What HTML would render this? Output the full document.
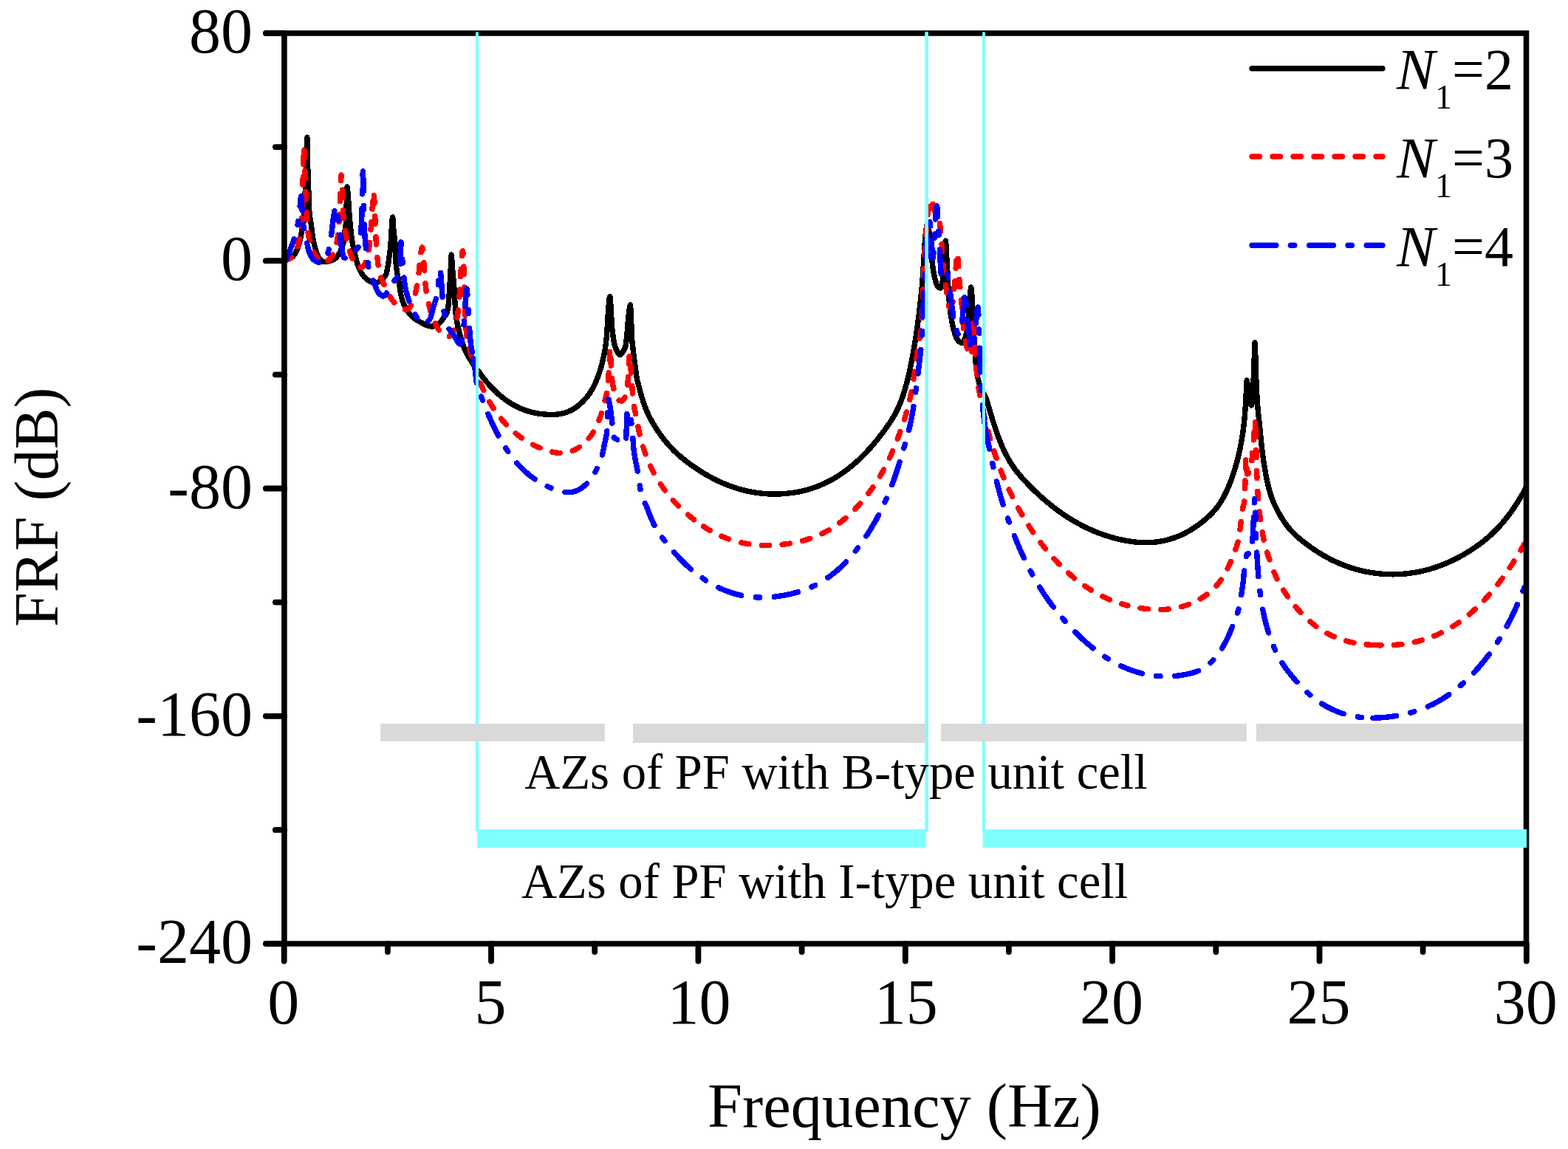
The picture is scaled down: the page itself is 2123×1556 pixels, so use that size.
<!DOCTYPE html>
<html><head><meta charset="utf-8"><title>FRF plot</title>
<style>html,body{margin:0;padding:0;background:#fff;overflow:hidden;width:2123px;height:1556px;}svg{display:block;}
text{font-family:"Liberation Serif","Times New Roman",serif;fill:#000;}</style></head>
<body>
<svg width="2123" height="1556" viewBox="0 0 2123 1556">
<rect width="2123" height="1556" fill="#fff"/>

<g fill="none" stroke-linecap="round" stroke-linejoin="round" shape-rendering="crispEdges" stroke-width="7.4">
<path stroke="#000" d="M385.0,353.8C385.7,353.4 386.3,352.9 387.0,352.5C387.7,352.2 388.3,351.9 389.0,351.6C389.7,351.3 390.3,351.1 391.0,350.8C391.7,350.5 392.3,350.2 393.0,349.9C393.7,349.6 394.3,349.2 395.0,348.7C395.7,348.2 396.3,347.6 397.0,346.9C397.7,346.2 398.3,345.3 399.0,344.3C399.7,343.3 400.3,342.1 401.0,340.7C401.7,339.3 402.3,337.6 403.0,335.9C403.1,335.6 403.2,335.3 403.3,335.0C404.5,331.2 405.8,327.4 407.0,322.0C407.8,318.3 408.7,312.4 409.5,308.0C410.0,305.2 410.6,304.1 411.1,300.0C411.7,295.6 412.2,282.1 412.8,270.0C413.3,259.3 413.8,243.5 414.3,230.0C414.8,215.6 415.4,186.0 415.9,186.0C416.0,186.0 416.1,203.9 416.2,208.6C416.6,228.9 417.1,234.3 417.5,247.1C417.9,259.9 418.4,280.2 418.8,285.7C419.7,296.7 420.5,298.6 421.4,305.0C422.3,311.4 423.1,319.5 424.0,324.2C425.1,330.0 426.1,334.0 427.2,337.8C427.9,340.1 428.5,342.2 429.2,343.8C429.9,345.5 430.5,347.0 431.2,348.2C431.9,349.4 432.5,350.5 433.2,351.3C433.9,352.1 434.5,352.8 435.2,353.2C435.9,353.7 436.5,354.1 437.2,354.3C437.9,354.5 438.5,354.6 439.2,354.6C439.9,354.6 440.5,354.6 441.2,354.5C441.9,354.4 442.5,354.2 443.2,354.1C443.9,353.9 444.5,353.8 445.2,353.6C445.9,353.4 446.5,353.3 447.2,353.1C447.9,352.9 448.5,352.8 449.2,352.5C449.9,352.3 450.5,352.0 451.2,351.7C451.9,351.4 452.5,351.0 453.2,350.5C453.9,350.0 454.5,349.4 455.2,348.8C455.6,348.4 455.9,348.1 456.3,347.6C457.9,345.6 459.6,343.1 461.2,339.7C462.5,337.0 463.7,334.5 465.0,328.7C465.5,326.3 466.1,319.9 466.6,315.6C467.3,310.3 467.9,309.5 468.6,300.0C468.9,296.2 469.1,278.6 469.4,270.0C469.6,263.6 469.8,253.0 470.0,253.0C470.4,253.0 470.8,258.9 471.2,263.2C471.6,267.2 471.9,274.1 472.3,279.6C472.7,285.1 473.0,291.6 473.4,296.0C473.8,300.4 474.1,303.3 474.5,306.9C474.9,310.5 475.2,314.8 475.6,317.8C476.1,322.2 476.7,325.6 477.2,328.7C477.9,333.0 478.7,336.3 479.4,339.7C480.1,343.1 480.9,346.3 481.6,349.1C482.3,351.6 482.9,354.0 483.6,356.1C484.3,358.2 484.9,360.1 485.6,361.8C486.3,363.5 486.9,365.1 487.6,366.4C488.3,367.8 488.9,369.0 489.6,370.1C490.3,371.2 490.9,372.2 491.6,373.1C492.3,373.9 492.9,374.7 493.6,375.4C494.3,376.0 494.9,376.7 495.6,377.2C496.3,377.8 496.9,378.3 497.6,378.8C498.3,379.3 498.9,379.7 499.6,380.1C500.3,380.5 500.9,380.9 501.6,381.2C502.3,381.5 502.9,381.8 503.6,382.0C504.3,382.2 504.9,382.4 505.6,382.5C506.3,382.6 506.9,382.7 507.6,382.7C508.3,382.7 508.9,382.6 509.6,382.5C510.3,382.5 510.9,382.3 511.6,382.1C512.3,381.8 512.9,381.5 513.6,381.2C514.3,380.9 514.9,380.5 515.6,380.0C516.3,379.5 516.9,379.0 517.6,378.4C518.3,377.7 518.9,376.9 519.6,376.1C519.9,375.7 520.3,375.1 520.6,374.6C521.3,373.6 522.1,373.3 522.8,371.8C523.3,370.7 523.9,366.9 524.4,364.2C524.9,361.5 525.5,358.9 526.0,355.4C526.4,353.0 526.7,349.4 527.1,346.7C527.5,344.0 527.8,342.2 528.2,339.0C528.6,335.8 528.9,331.0 529.3,325.9C529.7,320.8 530.0,312.2 530.4,307.3C530.8,301.9 531.2,294.0 531.6,294.0C532.0,294.0 532.4,306.2 532.8,310.6C533.5,318.3 534.2,319.9 534.9,329.2C535.3,334.5 535.7,351.8 536.1,356.5C536.8,365.2 537.6,368.5 538.3,372.9C539.0,377.3 539.8,379.5 540.5,383.8C541.0,387.0 541.6,392.3 542.1,395.3C542.8,399.1 543.4,402.2 544.1,404.6C544.8,407.0 545.4,408.8 546.1,410.5C546.8,412.1 547.4,413.5 548.1,414.8C548.8,416.1 549.4,417.4 550.1,418.5C550.8,419.7 551.4,420.7 552.1,421.7C552.8,422.7 553.4,423.6 554.1,424.4C554.8,425.3 555.4,426.0 556.1,426.8C556.8,427.5 557.4,428.1 558.1,428.7C558.8,429.3 559.4,429.9 560.1,430.4C560.8,430.9 561.4,431.4 562.1,431.9C562.8,432.3 563.4,432.8 564.1,433.2C564.8,433.6 565.4,434.0 566.1,434.4C566.8,434.8 567.4,435.1 568.1,435.5C568.8,435.9 569.4,436.3 570.1,436.7C570.8,437.1 571.4,437.4 572.1,437.8C572.8,438.2 573.4,438.5 574.1,438.9C574.8,439.2 575.4,439.5 576.1,439.8C576.8,440.1 577.4,440.4 578.1,440.7C578.8,440.9 579.4,441.2 580.1,441.3C580.8,441.5 581.4,441.7 582.1,441.8C582.8,441.9 583.4,442.0 584.1,442.0C584.8,442.0 585.4,442.0 586.1,442.0C586.8,442.0 587.4,441.8 588.1,441.7C588.8,441.5 589.4,441.3 590.1,441.0C590.8,440.7 591.4,440.3 592.1,439.9C592.8,439.5 593.4,439.0 594.1,438.5C594.8,437.9 595.4,437.3 596.1,436.6C596.8,435.8 597.4,435.0 598.1,434.2C598.8,433.3 599.4,432.3 600.1,431.3C600.4,430.8 600.7,430.3 601.0,429.8C602.2,428.0 603.3,427.3 604.5,424.8C605.3,423.1 606.0,420.3 606.8,415.5C607.2,413.0 607.6,407.1 608.0,401.7C608.4,396.3 608.8,388.8 609.2,382.0C609.6,375.7 609.9,369.2 610.3,362.4C610.6,356.8 610.9,345.0 611.2,345.0C611.5,345.0 611.9,353.5 612.2,357.7C612.6,362.3 612.9,367.4 613.3,371.6C613.7,376.2 614.1,379.2 614.5,384.3C614.8,387.7 615.0,392.5 615.3,397.0C615.6,402.1 615.9,408.9 616.2,413.2C616.6,419.4 617.1,424.8 617.5,428.3C618.2,433.6 618.8,436.7 619.5,440.0C620.3,444.1 621.2,447.3 622.0,450.6C622.7,453.3 623.3,455.8 624.0,458.2C624.7,460.5 625.3,462.6 626.0,464.6C626.7,466.6 627.3,468.4 628.0,470.1C628.7,471.8 629.3,473.4 630.0,474.9C630.7,476.4 631.3,477.7 632.0,479.0C632.7,480.3 633.3,481.5 634.0,482.6C634.7,483.8 635.3,484.9 636.0,485.9C636.7,487.0 637.3,488.0 638.0,489.1C638.7,490.1 639.3,491.1 640.0,492.2C640.7,493.2 641.3,494.3 642.0,495.4C642.7,496.5 643.3,497.7 644.0,498.9C644.5,499.9 645.0,501.6 645.5,501.9C646.2,502.1 646.8,502.0 647.5,502.3C648.2,502.5 648.8,504.2 649.5,505.1C650.2,506.0 650.8,506.9 651.5,507.8C652.2,508.7 652.8,509.6 653.5,510.5C654.2,511.3 654.8,512.2 655.5,513.0C656.2,513.9 656.8,514.7 657.5,515.5C658.2,516.3 658.8,517.1 659.5,517.9C660.2,518.7 660.8,519.4 661.5,520.2C662.2,521.0 662.8,521.7 663.5,522.4C664.2,523.2 664.8,523.9 665.5,524.6C666.2,525.3 666.8,526.0 667.5,526.7C668.2,527.4 668.8,528.0 669.5,528.7C670.2,529.3 670.8,530.0 671.5,530.6C672.2,531.3 672.8,531.9 673.5,532.5C674.2,533.1 674.8,533.7 675.5,534.3C676.2,534.9 676.8,535.4 677.5,536.0C678.2,536.6 678.8,537.1 679.5,537.6C680.2,538.2 680.8,538.7 681.5,539.2C682.2,539.7 682.8,540.2 683.5,540.7C684.2,541.2 684.8,541.7 685.5,542.2C686.2,542.7 686.8,543.1 687.5,543.6C688.2,544.0 688.8,544.5 689.5,544.9C690.2,545.3 690.8,545.8 691.5,546.2C692.2,546.6 692.8,547.0 693.5,547.4C694.2,547.8 694.8,548.1 695.5,548.5C696.2,548.9 696.8,549.2 697.5,549.6C698.2,549.9 698.8,550.3 699.5,550.6C700.2,551.0 700.8,551.3 701.5,551.6C702.2,551.9 702.8,552.2 703.5,552.5C704.2,552.8 704.8,553.1 705.5,553.4C706.2,553.7 706.8,553.9 707.5,554.2C708.2,554.5 708.8,554.7 709.5,555.0C710.2,555.2 710.8,555.5 711.5,555.7C712.2,555.9 712.8,556.1 713.5,556.4C714.2,556.6 714.8,556.8 715.5,557.0C716.2,557.2 716.8,557.4 717.5,557.6C718.2,557.7 718.8,557.9 719.5,558.1C720.2,558.3 720.8,558.4 721.5,558.6C722.2,558.7 722.8,558.9 723.5,559.0C724.2,559.2 724.8,559.3 725.5,559.4C726.2,559.6 726.8,559.7 727.5,559.8C728.2,559.9 728.8,560.0 729.5,560.1C730.2,560.2 730.8,560.3 731.5,560.4C732.2,560.5 732.8,560.6 733.5,560.7C734.2,560.7 734.8,560.8 735.5,560.9C736.2,561.0 736.8,561.0 737.5,561.1C738.2,561.1 738.8,561.2 739.5,561.2C740.2,561.3 740.8,561.3 741.5,561.4C742.2,561.4 742.8,561.4 743.5,561.4C744.2,561.5 744.8,561.5 745.5,561.5C746.2,561.5 746.8,561.5 747.5,561.5C748.2,561.5 748.8,561.5 749.5,561.5C750.2,561.4 750.8,561.4 751.5,561.4C752.2,561.3 752.8,561.3 753.5,561.2C754.2,561.1 754.8,561.1 755.5,561.0C756.2,560.9 756.8,560.8 757.5,560.7C758.2,560.6 758.8,560.5 759.5,560.4C760.2,560.2 760.8,560.1 761.5,559.9C762.2,559.8 762.8,559.6 763.5,559.4C764.2,559.2 764.8,559.0 765.5,558.8C766.2,558.6 766.8,558.4 767.5,558.1C768.2,557.9 768.8,557.6 769.5,557.3C770.2,557.1 770.8,556.8 771.5,556.5C772.2,556.1 772.8,555.8 773.5,555.5C774.2,555.1 774.8,554.8 775.5,554.4C776.2,554.0 776.8,553.6 777.5,553.2C778.2,552.7 778.8,552.3 779.5,551.8C780.2,551.4 780.8,550.9 781.5,550.4C782.2,549.9 782.8,549.4 783.5,548.8C784.2,548.3 784.8,547.7 785.5,547.1C786.2,546.5 786.8,545.9 787.5,545.3C788.2,544.7 788.8,544.0 789.5,543.3C790.2,542.6 790.8,541.9 791.5,541.2C792.2,540.5 792.8,539.7 793.5,538.9C794.2,538.1 794.8,537.3 795.5,536.5C796.2,535.6 796.8,534.8 797.5,533.8C798.2,532.9 798.8,531.9 799.5,530.9C800.2,529.9 800.8,528.8 801.5,527.7C802.2,526.5 802.8,525.3 803.5,524.0C804.2,522.8 804.8,521.4 805.5,520.0C806.2,518.5 806.8,517.0 807.5,515.4C808.2,513.8 808.8,512.1 809.5,510.3C810.2,508.5 810.8,506.6 811.5,504.6C812.2,502.6 812.8,500.5 813.5,498.2C814.0,496.7 814.4,495.2 814.9,493.4C815.5,491.0 816.1,487.9 816.7,485.2C817.4,481.9 818.2,479.7 818.9,475.6C819.5,472.4 820.0,468.0 820.6,462.9C821.0,459.3 821.4,455.1 821.8,449.9C822.1,445.6 822.5,439.2 822.8,433.8C823.1,428.9 823.4,422.4 823.7,419.0C824.4,411.0 825.1,401.8 825.8,401.8C826.3,401.8 826.8,411.4 827.3,419.0C827.6,424.1 828.0,436.0 828.3,440.2C828.9,448.2 829.6,452.0 830.2,456.3C830.8,460.6 831.5,464.5 832.1,466.9C832.9,469.8 833.6,471.8 834.4,473.3C836.1,476.6 837.8,480.5 839.5,480.5C841.0,480.5 842.5,477.8 844.0,475.5C845.0,474.0 845.9,472.7 846.9,469.2C847.2,468.1 847.5,465.4 847.8,463.1C848.1,460.5 848.5,457.7 848.8,454.1C849.1,450.9 849.4,445.8 849.7,442.2C850.0,438.2 850.4,434.5 850.7,431.2C851.0,427.9 851.4,424.4 851.7,422.2C852.3,418.2 852.9,413.0 853.5,413.0C853.7,413.0 853.8,417.4 854.0,420.3C854.3,426.2 854.7,436.7 855.0,444.1C855.3,450.7 855.6,459.1 855.9,462.7C856.2,466.7 856.6,468.2 856.9,471.1C857.2,474.0 857.6,477.4 857.9,480.1C858.3,483.4 858.7,486.1 859.1,489.1C859.6,492.9 860.1,496.8 860.6,500.5C861.2,504.7 861.7,509.8 862.3,512.7C863.3,517.7 864.2,520.1 865.2,523.9C865.9,526.5 866.5,529.2 867.2,531.7C867.9,534.1 868.5,536.4 869.2,538.6C869.9,540.8 870.5,542.9 871.2,544.9C871.9,546.9 872.5,548.7 873.2,550.5C873.9,552.3 874.5,554.0 875.2,555.6C875.9,557.1 876.5,558.7 877.2,560.1C877.9,561.6 878.5,562.9 879.2,564.3C879.9,565.6 880.5,566.8 881.2,568.1C881.9,569.3 882.5,570.5 883.2,571.6C883.9,572.8 884.5,573.9 885.2,575.0C885.9,576.1 886.5,577.2 887.2,578.3C887.9,579.3 888.5,580.4 889.2,581.4C889.9,582.4 890.5,583.4 891.2,584.4C891.9,585.4 892.5,586.4 893.2,587.3C893.9,588.3 894.5,589.2 895.2,590.1C895.9,591.0 896.5,591.9 897.2,592.8C897.9,593.7 898.5,594.5 899.2,595.4C899.9,596.2 900.5,597.1 901.2,597.9C901.9,598.7 902.5,599.5 903.2,600.3C903.9,601.0 904.5,601.8 905.2,602.6C905.9,603.3 906.5,604.1 907.2,604.8C907.9,605.5 908.5,606.2 909.2,606.9C909.9,607.6 910.5,608.3 911.2,609.0C911.9,609.7 912.5,610.3 913.2,611.0C913.9,611.6 914.5,612.3 915.2,612.9C915.9,613.5 916.5,614.1 917.2,614.7C917.9,615.4 918.5,616.0 919.2,616.5C919.9,617.1 920.5,617.7 921.2,618.3C921.9,618.8 922.5,619.4 923.2,620.0C923.9,620.5 924.5,621.1 925.2,621.6C925.9,622.1 926.5,622.7 927.2,623.2C927.9,623.7 928.5,624.2 929.2,624.7C929.9,625.3 930.5,625.8 931.2,626.3C931.9,626.8 932.5,627.3 933.2,627.7C933.9,628.2 934.5,628.7 935.2,629.2C935.9,629.7 936.5,630.2 937.2,630.6C937.9,631.1 938.5,631.6 939.2,632.0C939.9,632.5 940.5,633.0 941.2,633.4C941.9,633.9 942.5,634.3 943.2,634.8C943.9,635.2 944.5,635.6 945.2,636.1C945.9,636.5 946.5,636.9 947.2,637.4C947.9,637.8 948.5,638.2 949.2,638.6C949.9,639.1 950.5,639.5 951.2,639.9C951.9,640.3 952.5,640.7 953.2,641.1C953.9,641.5 954.5,641.9 955.2,642.3C955.9,642.7 956.5,643.0 957.2,643.4C957.9,643.8 958.5,644.2 959.2,644.6C959.9,644.9 960.5,645.3 961.2,645.7C961.9,646.0 962.5,646.4 963.2,646.7C963.9,647.1 964.5,647.5 965.2,647.8C965.9,648.1 966.5,648.5 967.2,648.8C967.9,649.2 968.5,649.5 969.2,649.8C969.9,650.2 970.5,650.5 971.2,650.8C971.9,651.1 972.5,651.4 973.2,651.7C973.9,652.1 974.5,652.4 975.2,652.7C975.9,653.0 976.5,653.3 977.2,653.6C977.9,653.9 978.5,654.1 979.2,654.4C979.9,654.7 980.5,655.0 981.2,655.3C981.9,655.6 982.5,655.8 983.2,656.1C983.9,656.4 984.5,656.6 985.2,656.9C985.9,657.1 986.5,657.4 987.2,657.6C987.9,657.9 988.5,658.1 989.2,658.4C989.9,658.6 990.5,658.9 991.2,659.1C991.9,659.3 992.5,659.6 993.2,659.8C993.9,660.0 994.5,660.2 995.2,660.5C995.9,660.7 996.5,660.9 997.2,661.1C997.9,661.3 998.5,661.5 999.2,661.7C999.9,661.9 1000.5,662.1 1001.2,662.3C1001.9,662.5 1002.5,662.7 1003.2,662.9C1003.9,663.0 1004.5,663.2 1005.2,663.4C1005.9,663.6 1006.5,663.7 1007.2,663.9C1007.9,664.1 1008.5,664.2 1009.2,664.4C1009.9,664.6 1010.5,664.7 1011.2,664.9C1011.9,665.0 1012.5,665.2 1013.2,665.3C1013.9,665.4 1014.5,665.6 1015.2,665.7C1015.9,665.9 1016.5,666.0 1017.2,666.1C1017.9,666.2 1018.5,666.4 1019.2,666.5C1019.9,666.6 1020.5,666.7 1021.2,666.8C1021.9,666.9 1022.5,667.0 1023.2,667.1C1023.9,667.2 1024.5,667.3 1025.2,667.4C1025.9,667.5 1026.5,667.6 1027.2,667.7C1027.9,667.8 1028.5,667.9 1029.2,667.9C1029.9,668.0 1030.5,668.1 1031.2,668.2C1031.9,668.2 1032.5,668.3 1033.2,668.4C1033.9,668.4 1034.5,668.5 1035.2,668.5C1035.9,668.6 1036.5,668.6 1037.2,668.7C1037.9,668.7 1038.5,668.8 1039.2,668.8C1039.9,668.8 1040.5,668.9 1041.2,668.9C1041.9,668.9 1042.5,669.0 1043.2,669.0C1043.9,669.0 1044.5,669.0 1045.2,669.0C1045.9,669.0 1046.5,669.1 1047.2,669.1C1047.9,669.1 1048.5,669.1 1049.2,669.1C1049.9,669.1 1050.5,669.1 1051.2,669.0C1051.9,669.0 1052.5,669.0 1053.2,669.0C1053.9,669.0 1054.5,669.0 1055.2,668.9C1055.9,668.9 1056.5,668.9 1057.2,668.9C1057.9,668.8 1058.5,668.8 1059.2,668.7C1059.9,668.7 1060.5,668.7 1061.2,668.6C1061.9,668.6 1062.5,668.5 1063.2,668.5C1063.9,668.4 1064.5,668.3 1065.2,668.3C1065.9,668.2 1066.5,668.1 1067.2,668.1C1067.9,668.0 1068.5,667.9 1069.2,667.8C1069.9,667.8 1070.5,667.7 1071.2,667.6C1071.9,667.5 1072.5,667.4 1073.2,667.3C1073.9,667.2 1074.5,667.1 1075.2,667.0C1075.9,666.9 1076.5,666.8 1077.2,666.7C1077.9,666.6 1078.5,666.5 1079.2,666.4C1079.9,666.2 1080.5,666.1 1081.2,666.0C1081.9,665.9 1082.5,665.7 1083.2,665.6C1083.9,665.4 1084.5,665.3 1085.2,665.2C1085.9,665.0 1086.5,664.9 1087.2,664.7C1087.9,664.5 1088.5,664.4 1089.2,664.2C1089.9,664.0 1090.5,663.9 1091.2,663.7C1091.9,663.5 1092.5,663.3 1093.2,663.2C1093.9,663.0 1094.5,662.8 1095.2,662.6C1095.9,662.4 1096.5,662.2 1097.2,662.0C1097.9,661.8 1098.5,661.6 1099.2,661.3C1099.9,661.1 1100.5,660.9 1101.2,660.7C1101.9,660.5 1102.5,660.2 1103.2,660.0C1103.9,659.8 1104.5,659.5 1105.2,659.3C1105.9,659.0 1106.5,658.8 1107.2,658.5C1107.9,658.2 1108.5,658.0 1109.2,657.7C1109.9,657.4 1110.5,657.2 1111.2,656.9C1111.9,656.6 1112.5,656.3 1113.2,656.0C1113.9,655.7 1114.5,655.4 1115.2,655.1C1115.9,654.8 1116.5,654.5 1117.2,654.2C1117.9,653.9 1118.5,653.6 1119.2,653.2C1119.9,652.9 1120.5,652.6 1121.2,652.2C1121.9,651.9 1122.5,651.6 1123.2,651.2C1123.9,650.9 1124.5,650.5 1125.2,650.1C1125.9,649.8 1126.5,649.4 1127.2,649.0C1127.9,648.7 1128.5,648.3 1129.2,647.9C1129.9,647.5 1130.5,647.1 1131.2,646.7C1131.9,646.3 1132.5,645.9 1133.2,645.5C1133.9,645.1 1134.5,644.6 1135.2,644.2C1135.9,643.8 1136.5,643.3 1137.2,642.9C1137.9,642.5 1138.5,642.0 1139.2,641.6C1139.9,641.1 1140.5,640.7 1141.2,640.2C1141.9,639.7 1142.5,639.2 1143.2,638.8C1143.9,638.3 1144.5,637.8 1145.2,637.3C1145.9,636.8 1146.5,636.3 1147.2,635.8C1147.9,635.3 1148.5,634.8 1149.2,634.2C1149.9,633.7 1150.5,633.2 1151.2,632.6C1151.9,632.1 1152.5,631.6 1153.2,631.0C1153.9,630.5 1154.5,629.9 1155.2,629.3C1155.9,628.8 1156.5,628.2 1157.2,627.6C1157.9,627.0 1158.5,626.4 1159.2,625.8C1159.9,625.2 1160.5,624.6 1161.2,624.0C1161.9,623.4 1162.5,622.8 1163.2,622.2C1163.9,621.5 1164.5,620.9 1165.2,620.3C1165.9,619.6 1166.5,619.0 1167.2,618.3C1167.9,617.6 1168.5,617.0 1169.2,616.3C1169.9,615.6 1170.5,614.9 1171.2,614.3C1171.9,613.6 1172.5,612.9 1173.2,612.2C1173.9,611.4 1174.5,610.7 1175.2,610.0C1175.9,609.3 1176.5,608.6 1177.2,607.8C1177.9,607.1 1178.5,606.3 1179.2,605.6C1179.9,604.8 1180.5,604.1 1181.2,603.3C1181.9,602.5 1182.5,601.7 1183.2,600.9C1183.9,600.1 1184.5,599.3 1185.2,598.5C1185.9,597.7 1186.5,596.9 1187.2,596.1C1187.9,595.3 1188.5,594.4 1189.2,593.6C1189.9,592.8 1190.5,591.9 1191.2,591.0C1191.9,590.2 1192.5,589.3 1193.2,588.4C1193.9,587.6 1194.5,586.7 1195.2,585.8C1195.9,584.9 1196.5,584.0 1197.2,583.1C1197.9,582.2 1198.5,581.2 1199.2,580.3C1199.9,579.4 1200.5,578.4 1201.2,577.5C1201.9,576.5 1202.5,575.6 1203.2,574.6C1203.9,573.6 1204.5,572.7 1205.2,571.7C1205.9,570.7 1206.5,569.7 1207.2,568.6C1207.9,567.6 1208.5,566.5 1209.2,565.4C1209.9,564.3 1210.5,563.1 1211.2,561.9C1211.9,560.8 1212.5,559.5 1213.2,558.2C1213.9,557.0 1214.5,555.6 1215.2,554.2C1215.9,552.8 1216.5,551.3 1217.2,549.8C1217.9,548.3 1218.5,546.7 1219.2,545.0C1219.9,543.3 1220.5,541.5 1221.2,539.7C1221.9,537.8 1222.5,535.9 1223.2,533.8C1223.9,531.8 1224.5,529.7 1225.2,527.4C1225.9,525.2 1226.5,522.8 1227.2,520.4C1227.9,517.9 1228.5,515.3 1229.2,512.6C1229.9,510.0 1230.5,507.1 1231.2,504.2C1231.9,501.2 1232.5,498.1 1233.2,494.9C1233.9,491.7 1234.5,488.3 1235.2,484.8C1235.9,481.3 1236.5,477.6 1237.2,473.8C1237.9,469.9 1238.5,465.9 1239.2,461.6C1239.9,457.4 1240.5,453.0 1241.2,448.3C1241.9,443.7 1242.5,438.8 1243.2,433.7C1243.6,430.9 1243.9,428.1 1244.3,425.1C1245.0,419.3 1245.7,413.0 1246.4,406.6C1247.1,399.9 1247.9,394.2 1248.6,385.4C1249.1,379.8 1249.5,371.5 1250.0,364.2C1250.4,357.4 1250.9,349.8 1251.3,343.0C1251.7,336.8 1252.1,329.6 1252.5,325.0C1253.0,319.2 1253.5,314.1 1254.0,311.0C1254.5,307.9 1255.0,304.0 1255.5,304.0C1256.0,304.0 1256.5,306.1 1257.0,308.0C1257.5,309.9 1258.0,314.0 1258.5,318.0C1259.2,323.3 1259.8,331.5 1260.5,338.0C1261.3,346.2 1262.2,356.3 1263.0,362.0C1264.2,369.9 1265.3,376.3 1266.5,380.0C1267.8,384.2 1269.2,388.3 1270.5,389.0C1271.7,389.6 1272.8,390.0 1274.0,390.0C1274.8,390.0 1275.7,383.9 1276.5,378.0C1277.2,373.2 1277.8,361.1 1278.5,352.0C1279.1,343.8 1279.7,326.0 1280.3,326.0C1280.9,326.0 1281.4,342.6 1282.0,352.0C1282.9,366.4 1283.7,388.8 1284.6,400.0C1285.4,410.3 1286.2,418.3 1287.0,424.0C1288.5,434.9 1290.1,443.0 1291.6,448.0C1293.5,454.3 1295.5,459.7 1297.4,461.5C1299.1,463.1 1300.8,464.5 1302.5,464.5C1304.0,464.5 1305.5,460.9 1307.0,457.0C1308.0,454.4 1309.0,449.1 1310.0,442.0C1310.7,437.3 1311.3,428.1 1312.0,420.0C1312.5,413.9 1313.0,405.4 1313.5,400.0C1313.9,395.7 1314.3,389.0 1314.7,389.0C1315.2,389.0 1315.7,397.9 1316.2,405.0C1316.7,412.6 1317.3,429.6 1317.8,440.0C1318.4,451.1 1318.9,461.7 1319.5,470.0C1320.2,479.8 1320.8,489.1 1321.5,495.0C1322.3,502.4 1323.2,508.1 1324.0,512.0C1325.3,518.3 1326.7,522.3 1328.0,526.0C1329.0,528.8 1330.0,531.7 1331.0,533.0C1331.7,533.9 1332.3,534.0 1333.0,534.9C1333.7,535.8 1334.3,537.9 1335.0,539.6C1335.7,541.3 1336.3,543.4 1337.0,545.5C1337.7,547.5 1338.3,549.8 1339.0,552.0C1339.7,554.3 1340.3,556.6 1341.0,558.9C1341.7,561.1 1342.3,563.4 1343.0,565.6C1343.7,567.8 1344.3,569.9 1345.0,572.0C1345.7,574.1 1346.3,576.2 1347.0,578.2C1347.7,580.2 1348.3,582.2 1349.0,584.1C1349.7,586.0 1350.3,587.9 1351.0,589.7C1351.7,591.5 1352.3,593.3 1353.0,595.0C1353.7,596.8 1354.3,598.5 1355.0,600.1C1355.7,601.7 1356.3,603.3 1357.0,604.8C1357.7,606.3 1358.3,607.8 1359.0,609.3C1359.7,610.7 1360.3,612.1 1361.0,613.4C1361.7,614.8 1362.3,616.1 1363.0,617.3C1363.7,618.6 1364.3,619.8 1365.0,621.0C1365.7,622.2 1366.3,623.4 1367.0,624.5C1367.7,625.6 1368.3,626.7 1369.0,627.7C1369.7,628.8 1370.3,629.8 1371.0,630.8C1371.7,631.8 1372.3,632.7 1373.0,633.7C1373.7,634.6 1374.3,635.5 1375.0,636.4C1375.7,637.3 1376.3,638.2 1377.0,639.0C1377.7,639.9 1378.3,640.7 1379.0,641.5C1379.7,642.3 1380.3,643.1 1381.0,643.9C1381.7,644.7 1382.3,645.4 1383.0,646.2C1383.7,646.9 1384.3,647.7 1385.0,648.4C1385.7,649.1 1386.3,649.8 1387.0,650.6C1387.7,651.3 1388.3,652.0 1389.0,652.7C1389.7,653.4 1390.3,654.1 1391.0,654.8C1391.7,655.5 1392.3,656.2 1393.0,656.9C1393.7,657.5 1394.3,658.2 1395.0,658.9C1395.7,659.6 1396.3,660.2 1397.0,660.9C1397.7,661.6 1398.3,662.2 1399.0,662.9C1399.7,663.5 1400.3,664.2 1401.0,664.8C1401.7,665.5 1402.3,666.1 1403.0,666.7C1403.7,667.4 1404.3,668.0 1405.0,668.6C1405.7,669.2 1406.3,669.8 1407.0,670.5C1407.7,671.1 1408.3,671.7 1409.0,672.3C1409.7,672.9 1410.3,673.5 1411.0,674.1C1411.7,674.7 1412.3,675.2 1413.0,675.8C1413.7,676.4 1414.3,677.0 1415.0,677.6C1415.7,678.1 1416.3,678.7 1417.0,679.3C1417.7,679.8 1418.3,680.4 1419.0,680.9C1419.7,681.5 1420.3,682.0 1421.0,682.6C1421.7,683.1 1422.3,683.6 1423.0,684.2C1423.7,684.7 1424.3,685.2 1425.0,685.8C1425.7,686.3 1426.3,686.8 1427.0,687.3C1427.7,687.8 1428.3,688.3 1429.0,688.8C1429.7,689.4 1430.3,689.9 1431.0,690.3C1431.7,690.8 1432.3,691.3 1433.0,691.8C1433.7,692.3 1434.3,692.8 1435.0,693.3C1435.7,693.7 1436.3,694.2 1437.0,694.7C1437.7,695.1 1438.3,695.6 1439.0,696.1C1439.7,696.5 1440.3,697.0 1441.0,697.4C1441.7,697.9 1442.3,698.3 1443.0,698.8C1443.7,699.2 1444.3,699.6 1445.0,700.1C1445.7,700.5 1446.3,700.9 1447.0,701.3C1447.7,701.8 1448.3,702.2 1449.0,702.6C1449.7,703.0 1450.3,703.4 1451.0,703.8C1451.7,704.2 1452.3,704.6 1453.0,705.0C1453.7,705.4 1454.3,705.8 1455.0,706.2C1455.7,706.6 1456.3,707.0 1457.0,707.3C1457.7,707.7 1458.3,708.1 1459.0,708.5C1459.7,708.8 1460.3,709.2 1461.0,709.6C1461.7,709.9 1462.3,710.3 1463.0,710.6C1463.7,711.0 1464.3,711.3 1465.0,711.7C1465.7,712.0 1466.3,712.4 1467.0,712.7C1467.7,713.0 1468.3,713.4 1469.0,713.7C1469.7,714.0 1470.3,714.4 1471.0,714.7C1471.7,715.0 1472.3,715.3 1473.0,715.6C1473.7,715.9 1474.3,716.2 1475.0,716.5C1475.7,716.9 1476.3,717.2 1477.0,717.4C1477.7,717.7 1478.3,718.0 1479.0,718.3C1479.7,718.6 1480.3,718.9 1481.0,719.2C1481.7,719.5 1482.3,719.7 1483.0,720.0C1483.7,720.3 1484.3,720.5 1485.0,720.8C1485.7,721.1 1486.3,721.3 1487.0,721.6C1487.7,721.8 1488.3,722.1 1489.0,722.4C1489.7,722.6 1490.3,722.8 1491.0,723.1C1491.7,723.3 1492.3,723.6 1493.0,723.8C1493.7,724.0 1494.3,724.3 1495.0,724.5C1495.7,724.7 1496.3,724.9 1497.0,725.2C1497.7,725.4 1498.3,725.6 1499.0,725.8C1499.7,726.0 1500.3,726.2 1501.0,726.4C1501.7,726.6 1502.3,726.8 1503.0,727.0C1503.7,727.2 1504.3,727.4 1505.0,727.6C1505.7,727.8 1506.3,728.0 1507.0,728.2C1507.7,728.4 1508.3,728.5 1509.0,728.7C1509.7,728.9 1510.3,729.1 1511.0,729.2C1511.7,729.4 1512.3,729.6 1513.0,729.7C1513.7,729.9 1514.3,730.1 1515.0,730.2C1515.7,730.4 1516.3,730.5 1517.0,730.7C1517.7,730.8 1518.3,731.0 1519.0,731.1C1519.7,731.3 1520.3,731.4 1521.0,731.5C1521.7,731.7 1522.3,731.8 1523.0,731.9C1523.7,732.0 1524.3,732.2 1525.0,732.3C1525.7,732.4 1526.3,732.5 1527.0,732.6C1527.7,732.7 1528.3,732.9 1529.0,733.0C1529.7,733.1 1530.3,733.2 1531.0,733.3C1531.7,733.4 1532.3,733.4 1533.0,733.5C1533.7,733.6 1534.3,733.7 1535.0,733.8C1535.7,733.9 1536.3,733.9 1537.0,734.0C1537.7,734.1 1538.3,734.1 1539.0,734.2C1539.7,734.2 1540.3,734.3 1541.0,734.3C1541.7,734.4 1542.3,734.4 1543.0,734.5C1543.7,734.5 1544.3,734.6 1545.0,734.6C1545.7,734.6 1546.3,734.7 1547.0,734.7C1547.7,734.7 1548.3,734.7 1549.0,734.7C1549.7,734.7 1550.3,734.7 1551.0,734.7C1551.7,734.7 1552.3,734.7 1553.0,734.7C1553.7,734.7 1554.3,734.7 1555.0,734.7C1555.7,734.7 1556.3,734.6 1557.0,734.6C1557.7,734.6 1558.3,734.5 1559.0,734.5C1559.7,734.5 1560.3,734.4 1561.0,734.4C1561.7,734.3 1562.3,734.2 1563.0,734.2C1563.7,734.1 1564.3,734.0 1565.0,734.0C1565.7,733.9 1566.3,733.8 1567.0,733.7C1567.7,733.6 1568.3,733.5 1569.0,733.4C1569.7,733.3 1570.3,733.2 1571.0,733.1C1571.7,733.0 1572.3,732.9 1573.0,732.8C1573.7,732.7 1574.3,732.5 1575.0,732.4C1575.7,732.3 1576.3,732.1 1577.0,732.0C1577.7,731.8 1578.3,731.7 1579.0,731.5C1579.7,731.3 1580.3,731.2 1581.0,731.0C1581.7,730.8 1582.3,730.6 1583.0,730.4C1583.7,730.3 1584.3,730.1 1585.0,729.9C1585.7,729.7 1586.3,729.5 1587.0,729.2C1587.7,729.0 1588.3,728.8 1589.0,728.6C1589.7,728.3 1590.3,728.1 1591.0,727.9C1591.7,727.6 1592.3,727.4 1593.0,727.1C1593.7,726.9 1594.3,726.6 1595.0,726.3C1595.7,726.1 1596.3,725.8 1597.0,725.5C1597.7,725.2 1598.3,724.9 1599.0,724.6C1599.7,724.3 1600.3,724.0 1601.0,723.7C1601.7,723.4 1602.3,723.0 1603.0,722.7C1603.7,722.4 1604.3,722.0 1605.0,721.7C1605.7,721.4 1606.3,721.0 1607.0,720.6C1607.7,720.3 1608.3,719.9 1609.0,719.5C1609.7,719.2 1610.3,718.8 1611.0,718.4C1611.7,718.0 1612.3,717.6 1613.0,717.2C1613.7,716.8 1614.3,716.3 1615.0,715.9C1615.7,715.5 1616.3,715.1 1617.0,714.6C1617.7,714.2 1618.3,713.7 1619.0,713.3C1619.7,712.8 1620.3,712.3 1621.0,711.9C1621.7,711.4 1622.3,710.9 1623.0,710.4C1623.7,709.9 1624.3,709.4 1625.0,708.9C1625.7,708.4 1626.3,707.9 1627.0,707.4C1627.7,706.8 1628.3,706.3 1629.0,705.8C1629.7,705.2 1630.3,704.7 1631.0,704.1C1631.7,703.5 1632.3,703.0 1633.0,702.4C1633.7,701.8 1634.3,701.2 1635.0,700.6C1635.7,700.0 1636.3,699.4 1637.0,698.8C1637.7,698.2 1638.3,697.5 1639.0,696.9C1639.7,696.2 1640.3,695.5 1641.0,694.9C1641.7,694.2 1642.3,693.5 1643.0,692.7C1643.7,692.0 1644.3,691.2 1645.0,690.4C1645.7,689.7 1646.3,688.8 1647.0,688.0C1647.7,687.1 1648.3,686.3 1649.0,685.4C1649.7,684.4 1650.3,683.5 1651.0,682.5C1651.7,681.5 1652.3,680.5 1653.0,679.5C1653.7,678.4 1654.3,677.3 1655.0,676.1C1655.7,675.0 1656.3,673.8 1657.0,672.5C1657.7,671.3 1658.3,670.0 1659.0,668.7C1659.7,667.3 1660.3,665.9 1661.0,664.5C1661.7,663.0 1662.3,661.5 1663.0,660.0C1663.7,658.4 1664.3,656.8 1665.0,655.1C1665.7,653.4 1666.3,651.6 1667.0,649.8C1667.7,648.0 1668.3,646.1 1669.0,644.2C1669.7,642.2 1670.3,640.2 1671.0,638.1C1671.7,636.0 1672.3,633.9 1673.0,631.6C1673.7,629.4 1674.3,627.1 1675.0,624.6C1675.7,622.1 1676.3,619.4 1677.0,616.7C1677.1,616.2 1677.2,615.8 1677.3,615.4C1678.5,609.8 1679.8,603.8 1681.0,596.7C1681.9,591.3 1682.9,585.8 1683.8,578.1C1684.4,573.2 1685.0,567.0 1685.6,559.5C1686.1,553.7 1686.5,546.0 1687.0,538.0C1687.4,531.2 1687.8,515.0 1688.2,515.0C1688.8,515.0 1689.4,527.4 1690.0,532.0C1690.7,537.6 1691.5,544.4 1692.2,546.0C1692.9,547.6 1693.7,549.0 1694.4,549.0C1695.1,549.0 1695.7,539.2 1696.4,530.0C1696.8,524.0 1697.3,510.5 1697.7,500.0C1698.2,488.7 1698.6,464.0 1699.1,464.0C1699.6,464.0 1700.0,495.4 1700.5,506.7C1701.2,523.6 1701.9,538.4 1702.6,547.8C1703.6,561.7 1704.7,568.4 1705.7,578.7C1706.7,589.0 1707.8,601.2 1708.8,609.5C1710.2,620.5 1711.5,628.9 1712.9,637.0C1713.6,640.9 1714.2,644.4 1714.9,647.7C1715.6,651.0 1716.2,654.1 1716.9,656.9C1717.6,659.7 1718.2,662.2 1718.9,664.6C1719.6,667.0 1720.2,669.1 1720.9,671.1C1721.6,673.2 1722.2,675.0 1722.9,676.7C1723.6,678.5 1724.2,680.1 1724.9,681.6C1725.6,683.1 1726.2,684.5 1726.9,685.9C1727.6,687.3 1728.2,688.7 1728.9,690.0C1729.6,691.3 1730.2,692.5 1730.9,693.8C1731.6,695.0 1732.2,696.2 1732.9,697.4C1733.6,698.5 1734.2,699.6 1734.9,700.7C1735.6,701.8 1736.2,702.9 1736.9,703.9C1737.6,704.9 1738.2,705.9 1738.9,706.9C1739.6,707.8 1740.2,708.8 1740.9,709.7C1741.6,710.6 1742.2,711.5 1742.9,712.3C1743.6,713.2 1744.2,714.0 1744.9,714.8C1745.6,715.6 1746.2,716.4 1746.9,717.2C1747.6,717.9 1748.2,718.7 1748.9,719.4C1749.6,720.1 1750.2,720.8 1750.9,721.5C1751.6,722.2 1752.2,722.8 1752.9,723.5C1753.6,724.1 1754.2,724.8 1754.9,725.4C1755.6,726.0 1756.2,726.6 1756.9,727.2C1757.6,727.8 1758.2,728.4 1758.9,728.9C1759.6,729.5 1760.2,730.0 1760.9,730.6C1761.6,731.1 1762.2,731.7 1762.9,732.2C1763.6,732.8 1764.2,733.3 1764.9,733.8C1765.6,734.3 1766.2,734.8 1766.9,735.4C1767.6,735.9 1768.2,736.4 1768.9,736.9C1769.6,737.4 1770.2,737.9 1770.9,738.4C1771.6,738.9 1772.2,739.3 1772.9,739.8C1773.6,740.3 1774.2,740.8 1774.9,741.2C1775.6,741.7 1776.2,742.2 1776.9,742.6C1777.6,743.1 1778.2,743.6 1778.9,744.0C1779.6,744.5 1780.2,744.9 1780.9,745.3C1781.6,745.8 1782.2,746.2 1782.9,746.6C1783.6,747.1 1784.2,747.5 1784.9,747.9C1785.6,748.3 1786.2,748.8 1786.9,749.2C1787.6,749.6 1788.2,750.0 1788.9,750.4C1789.6,750.8 1790.2,751.2 1790.9,751.6C1791.6,752.0 1792.2,752.3 1792.9,752.7C1793.6,753.1 1794.2,753.5 1794.9,753.8C1795.6,754.2 1796.2,754.6 1796.9,754.9C1797.6,755.3 1798.2,755.7 1798.9,756.0C1799.6,756.4 1800.2,756.7 1800.9,757.1C1801.6,757.4 1802.2,757.7 1802.9,758.1C1803.6,758.4 1804.2,758.7 1804.9,759.1C1805.6,759.4 1806.2,759.7 1806.9,760.0C1807.6,760.3 1808.2,760.6 1808.9,760.9C1809.6,761.2 1810.2,761.5 1810.9,761.8C1811.6,762.1 1812.2,762.4 1812.9,762.7C1813.6,763.0 1814.2,763.3 1814.9,763.6C1815.6,763.8 1816.2,764.1 1816.9,764.4C1817.6,764.7 1818.2,764.9 1818.9,765.2C1819.6,765.4 1820.2,765.7 1820.9,765.9C1821.6,766.2 1822.2,766.4 1822.9,766.7C1823.6,766.9 1824.2,767.2 1824.9,767.4C1825.6,767.6 1826.2,767.9 1826.9,768.1C1827.6,768.3 1828.2,768.5 1828.9,768.8C1829.6,769.0 1830.2,769.2 1830.9,769.4C1831.6,769.6 1832.2,769.8 1832.9,770.0C1833.6,770.2 1834.2,770.4 1834.9,770.6C1835.6,770.8 1836.2,771.0 1836.9,771.2C1837.6,771.3 1838.2,771.5 1838.9,771.7C1839.6,771.9 1840.2,772.1 1840.9,772.2C1841.6,772.4 1842.2,772.6 1842.9,772.7C1843.6,772.9 1844.2,773.0 1844.9,773.2C1845.6,773.3 1846.2,773.5 1846.9,773.6C1847.6,773.8 1848.2,773.9 1848.9,774.0C1849.6,774.2 1850.2,774.3 1850.9,774.4C1851.6,774.6 1852.2,774.7 1852.9,774.8C1853.6,774.9 1854.2,775.0 1854.9,775.2C1855.6,775.3 1856.2,775.4 1856.9,775.5C1857.6,775.6 1858.2,775.7 1858.9,775.8C1859.6,775.9 1860.2,776.0 1860.9,776.1C1861.6,776.2 1862.2,776.2 1862.9,776.3C1863.6,776.4 1864.2,776.5 1864.9,776.6C1865.6,776.6 1866.2,776.7 1866.9,776.8C1867.6,776.9 1868.2,776.9 1868.9,777.0C1869.6,777.0 1870.2,777.1 1870.9,777.2C1871.6,777.2 1872.2,777.3 1872.9,777.3C1873.6,777.4 1874.2,777.4 1874.9,777.4C1875.6,777.5 1876.2,777.5 1876.9,777.5C1877.6,777.6 1878.2,777.6 1878.9,777.6C1879.6,777.7 1880.2,777.7 1880.9,777.7C1881.6,777.7 1882.2,777.7 1882.9,777.7C1883.6,777.8 1884.2,777.8 1884.9,777.8C1885.6,777.8 1886.2,777.8 1886.9,777.8C1887.6,777.8 1888.2,777.8 1888.9,777.7C1889.6,777.7 1890.2,777.7 1890.9,777.7C1891.6,777.7 1892.2,777.7 1892.9,777.6C1893.6,777.6 1894.2,777.6 1894.9,777.5C1895.6,777.5 1896.2,777.5 1896.9,777.4C1897.6,777.4 1898.2,777.3 1898.9,777.3C1899.6,777.3 1900.2,777.2 1900.9,777.1C1901.6,777.1 1902.2,777.0 1902.9,777.0C1903.6,776.9 1904.2,776.8 1904.9,776.8C1905.6,776.7 1906.2,776.6 1906.9,776.5C1907.6,776.5 1908.2,776.4 1908.9,776.3C1909.6,776.2 1910.2,776.1 1910.9,776.0C1911.6,775.9 1912.2,775.8 1912.9,775.7C1913.6,775.6 1914.2,775.5 1914.9,775.4C1915.6,775.3 1916.2,775.2 1916.9,775.1C1917.6,775.0 1918.2,774.8 1918.9,774.7C1919.6,774.6 1920.2,774.5 1920.9,774.3C1921.6,774.2 1922.2,774.1 1922.9,773.9C1923.6,773.8 1924.2,773.6 1924.9,773.5C1925.6,773.3 1926.2,773.2 1926.9,773.0C1927.6,772.9 1928.2,772.7 1928.9,772.6C1929.6,772.4 1930.2,772.2 1930.9,772.1C1931.6,771.9 1932.2,771.7 1932.9,771.5C1933.6,771.3 1934.2,771.2 1934.9,771.0C1935.6,770.8 1936.2,770.6 1936.9,770.4C1937.6,770.2 1938.2,770.0 1938.9,769.8C1939.6,769.6 1940.2,769.4 1940.9,769.2C1941.6,769.0 1942.2,768.7 1942.9,768.5C1943.6,768.3 1944.2,768.1 1944.9,767.8C1945.6,767.6 1946.2,767.4 1946.9,767.1C1947.6,766.9 1948.2,766.7 1948.9,766.4C1949.6,766.2 1950.2,765.9 1950.9,765.7C1951.6,765.4 1952.2,765.2 1952.9,764.9C1953.6,764.6 1954.2,764.4 1954.9,764.1C1955.6,763.8 1956.2,763.6 1956.9,763.3C1957.6,763.0 1958.2,762.7 1958.9,762.4C1959.6,762.1 1960.2,761.9 1960.9,761.6C1961.6,761.3 1962.2,761.0 1962.9,760.7C1963.6,760.4 1964.2,760.1 1964.9,759.7C1965.6,759.4 1966.2,759.1 1966.9,758.8C1967.6,758.5 1968.2,758.1 1968.9,757.8C1969.6,757.5 1970.2,757.2 1970.9,756.8C1971.6,756.5 1972.2,756.1 1972.9,755.8C1973.6,755.4 1974.2,755.1 1974.9,754.7C1975.6,754.4 1976.2,754.0 1976.9,753.7C1977.6,753.3 1978.2,752.9 1978.9,752.6C1979.6,752.2 1980.2,751.8 1980.9,751.4C1981.6,751.0 1982.2,750.7 1982.9,750.3C1983.6,749.9 1984.2,749.5 1984.9,749.1C1985.6,748.7 1986.2,748.3 1986.9,747.9C1987.6,747.5 1988.2,747.1 1988.9,746.6C1989.6,746.2 1990.2,745.8 1990.9,745.4C1991.6,745.0 1992.2,744.5 1992.9,744.1C1993.6,743.7 1994.2,743.2 1994.9,742.8C1995.6,742.3 1996.2,741.9 1996.9,741.4C1997.6,741.0 1998.2,740.5 1998.9,740.0C1999.6,739.6 2000.2,739.1 2000.9,738.6C2001.6,738.2 2002.2,737.7 2002.9,737.2C2003.6,736.7 2004.2,736.2 2004.9,735.7C2005.6,735.2 2006.2,734.7 2006.9,734.2C2007.6,733.6 2008.2,733.1 2008.9,732.6C2009.6,732.0 2010.2,731.5 2010.9,731.0C2011.6,730.4 2012.2,729.9 2012.9,729.3C2013.6,728.7 2014.2,728.2 2014.9,727.6C2015.6,727.0 2016.2,726.4 2016.9,725.8C2017.6,725.2 2018.2,724.6 2018.9,724.0C2019.6,723.4 2020.2,722.8 2020.9,722.1C2021.6,721.5 2022.2,720.8 2022.9,720.2C2023.6,719.5 2024.2,718.9 2024.9,718.2C2025.6,717.5 2026.2,716.8 2026.9,716.2C2027.6,715.5 2028.2,714.8 2028.9,714.0C2029.6,713.3 2030.2,712.6 2030.9,711.9C2031.6,711.1 2032.2,710.4 2032.9,709.6C2033.6,708.8 2034.2,708.1 2034.9,707.3C2035.6,706.5 2036.2,705.7 2036.9,704.9C2037.6,704.1 2038.2,703.3 2038.9,702.4C2039.6,701.6 2040.2,700.8 2040.9,699.9C2041.6,699.0 2042.2,698.2 2042.9,697.3C2043.6,696.4 2044.2,695.5 2044.9,694.6C2045.6,693.7 2046.2,692.8 2046.9,691.8C2047.6,690.9 2048.2,689.9 2048.9,689.0C2049.6,688.0 2050.2,687.0 2050.9,686.0C2051.6,685.0 2052.2,684.0 2052.9,683.0C2053.6,681.9 2054.2,680.9 2054.9,679.9C2055.6,678.8 2056.2,677.7 2056.9,676.6C2057.6,675.5 2058.2,674.4 2058.9,673.3C2059.6,672.2 2060.2,671.1 2060.9,669.9C2061.6,668.8 2062.2,667.6 2062.9,666.4C2063.6,665.2 2064.2,664.0 2064.9,662.8C2065.3,662.1 2065.6,661.5 2066.0,660.8"/>
<path stroke="#f00" stroke-dasharray="10.5 17.5" stroke-dashoffset="0.00" d="M385.0,353.3 386.0,352.9 387.0,352.6 388.0,352.2 389.0,351.9 390.0,351.5 391.0,351.1 392.0,350.6 393.0,350.0 393.7,349.5 394.4,348.8 395.1,347.9 395.9,347.0 396.6,346.0 397.3,345.0 398.0,344.0 398.5,343.3 399.0,342.6 399.5,341.8 400.0,341.0 400.5,340.2 401.0,339.2 401.5,338.2 402.0,337.0 402.2,336.3 402.5,335.6 402.8,334.8 403.0,333.9 403.2,333.0 403.5,332.0 403.8,330.9 404.0,329.8 404.2,328.7 404.5,327.5 404.8,326.3 405.0,325.0 405.1,324.3 405.3,323.5 405.4,322.7 405.6,322.0 405.7,321.2 405.9,320.4 406.0,319.5 406.2,318.6 406.3,317.7 406.5,316.7 406.6,315.7 406.8,314.6 406.9,313.4 407.1,312.2 407.2,310.9 407.4,309.5 407.5,308.0 407.6,307.4 407.6,306.8 407.7,306.1 407.7,305.4 407.8,304.7 407.8,303.9 407.9,303.1 407.9,302.3 408.0,301.4 408.0,300.5 408.1,299.5 408.1,298.6 408.2,297.6 408.2,296.5 408.3,295.5 408.4,294.4 408.4,293.3 408.5,292.2 408.5,291.0 408.6,289.9 408.6,288.7 408.7,287.5 408.7,286.3 408.8,285.0 408.8,283.8 408.9,282.5 408.9,281.3 409.0,280.0 409.0,279.3 409.1,278.5 409.1,277.7 409.1,276.9 409.2,276.1 409.2,275.3 409.2,274.4 409.2,273.6 409.3,272.7 409.3,271.7 409.3,270.8 409.4,269.9 409.4,268.9 409.4,267.9 409.4,267.0 409.5,266.0 409.5,264.9 409.5,263.9 409.6,262.9 409.6,261.8 409.6,260.8 409.7,259.7 409.7,258.7 409.7,257.6 409.8,256.5 409.8,255.4 409.8,254.4 409.8,253.3 409.9,252.2 409.9,251.1 409.9,250.0 410.0,248.9 410.0,247.8 410.0,246.7 410.1,245.6 410.1,244.5 410.1,243.4 410.1,242.3 410.2,241.3 410.2,240.2 410.2,239.1 410.3,238.1 410.3,237.0 410.3,236.0 410.4,235.0 410.4,234.0 410.4,232.9 410.4,232.0 410.5,231.0 410.5,230.0 410.5,228.9 410.6,227.8 410.6,226.7 410.6,225.4 410.7,224.2 410.7,222.9 410.7,221.6 410.8,220.3 410.8,219.0 410.8,217.7 410.9,216.3 410.9,215.0 410.9,213.7 411.0,212.4 411.0,211.1 411.0,209.9 411.0,208.7 411.1,207.5 411.1,206.4 411.1,205.3 411.2,204.3 411.2,203.4 411.2,202.5 411.3,201.8 411.3,201.1 411.3,200.5 411.4,200.0 411.4,199.5 411.4,199.2 411.5,199.1 411.5,199.0 411.5,199.1 411.6,199.2 411.6,199.4 411.7,199.8 411.7,200.2 411.8,200.7 411.8,201.3 411.8,202.0 411.9,202.7 411.9,203.5 412.0,204.4 412.0,205.3 412.0,206.3 412.1,207.3 412.1,208.4 412.2,209.5 412.2,210.7 412.2,211.9 412.3,213.1 412.3,214.4 412.4,215.7 412.4,217.0 412.5,218.3 412.5,219.6 412.5,221.0 412.6,222.3 412.6,223.6 412.7,225.0 412.7,226.3 412.8,227.6 412.8,228.9 412.8,230.2 412.9,231.4 412.9,232.7 413.0,233.8 413.0,235.0 413.0,235.9 413.1,236.8 413.1,237.7 413.1,238.7 413.2,239.6 413.2,240.6 413.2,241.6 413.3,242.7 413.3,243.7 413.3,244.7 413.4,245.8 413.4,246.9 413.4,248.0 413.4,249.1 413.5,250.2 413.5,251.3 413.5,252.4 413.6,253.5 413.6,254.7 413.6,255.8 413.7,256.9 413.7,258.0 413.7,259.2 413.8,260.3 413.8,261.4 413.8,262.5 413.9,263.6 413.9,264.7 413.9,265.8 414.0,266.8 414.0,267.9 414.0,268.9 414.1,270.0 414.1,271.0 414.1,272.0 414.1,272.9 414.2,273.9 414.2,274.8 414.2,275.7 414.3,276.6 414.3,277.5 414.3,278.3 414.4,279.1 414.4,279.9 414.4,280.6 414.5,281.3 414.5,282.0 414.6,283.3 414.6,284.7 414.7,286.0 414.8,287.2 414.8,288.5 414.9,289.7 415.0,290.9 415.0,292.1 415.1,293.2 415.2,294.3 415.2,295.4 415.3,296.5 415.4,297.5 415.4,298.5 415.5,299.5 415.5,300.4 415.6,301.3 415.7,302.2 415.7,303.0 415.8,303.8 415.9,304.6 415.9,305.4 416.0,306.1 416.1,306.8 416.1,307.4 416.2,308.0 416.4,309.4 416.5,310.8 416.7,312.1 416.9,313.4 417.0,314.5 417.2,315.6 417.4,316.7 417.5,317.7 417.7,318.7 417.8,319.6 418.0,320.5 418.2,321.3 418.3,322.1 418.5,322.9 418.7,323.6 418.8,324.3 419.0,325.0 419.3,326.4 419.7,327.6 420.0,328.9 420.3,330.0 420.7,331.2 421.0,332.2 421.3,333.2 421.7,334.2 422.0,335.2 422.3,336.0 422.7,336.9 423.0,337.7 423.3,338.5 423.7,339.3 424.0,340.0 424.5,341.2 425.1,342.2 425.6,343.3 426.2,344.3 426.7,345.2 427.3,346.1 427.8,347.0 428.4,347.8 428.9,348.6 429.5,349.3 430.0,350.0 430.8,351.0 431.6,352.1 432.3,353.1 433.1,354.1 433.9,355.0 434.7,355.8 435.4,356.5 436.2,356.9 437.0,357.0 437.9,356.9 438.8,356.6 439.7,356.2 440.6,355.7 441.4,355.0 442.3,354.3 443.2,353.5 444.1,352.8 445.0,352.0 445.7,351.4 446.3,350.9 446.9,350.2 447.6,349.6 448.2,348.8 448.9,348.0 449.5,347.2 450.2,346.2 450.8,345.1 451.5,344.0 451.8,343.4 452.1,342.6 452.5,341.8 452.8,341.0 453.1,340.0 453.4,339.0 453.7,337.9 454.0,336.8 454.4,335.6 454.7,334.3 455.0,333.0 455.2,332.3 455.3,331.6 455.5,330.9 455.7,330.1 455.8,329.3 456.0,328.5 456.2,327.7 456.3,326.8 456.5,325.9 456.7,324.9 456.8,323.9 457.0,322.8 457.2,321.7 457.3,320.5 457.5,319.3 457.7,317.9 457.8,316.5 458.0,315.0 458.1,314.4 458.1,313.9 458.2,313.2 458.2,312.5 458.3,311.8 458.3,311.1 458.4,310.3 458.5,309.5 458.5,308.6 458.6,307.7 458.6,306.8 458.7,305.8 458.7,304.9 458.8,303.9 458.9,302.9 458.9,301.8 459.0,300.8 459.0,299.7 459.1,298.6 459.1,297.5 459.2,296.3 459.3,295.2 459.3,294.0 459.4,292.9 459.4,291.7 459.5,290.5 459.5,289.4 459.6,288.2 459.7,287.0 459.7,285.8 459.8,284.7 459.8,283.5 459.9,282.3 459.9,281.2 460.0,280.0 460.0,279.1 460.1,278.2 460.1,277.3 460.2,276.3 460.2,275.4 460.3,274.4 460.3,273.4 460.3,272.4 460.4,271.3 460.4,270.3 460.5,269.3 460.5,268.2 460.6,267.2 460.6,266.1 460.6,265.0 460.7,264.0 460.7,262.9 460.8,261.9 460.8,260.8 460.9,259.8 460.9,258.7 461.0,257.7 461.0,256.7 461.0,255.7 461.1,254.7 461.1,253.7 461.2,252.7 461.2,251.8 461.3,250.9 461.3,250.0 461.4,248.8 461.4,247.6 461.5,246.3 461.5,245.0 461.6,243.6 461.6,242.3 461.7,241.1 461.7,240.0 461.8,239.0 461.8,238.2 461.9,237.5 461.9,237.1 462.0,237.0 462.1,237.1 462.1,237.3 462.2,237.6 462.2,238.1 462.3,238.7 462.4,239.4 462.4,240.2 462.5,241.1 462.5,242.1 462.6,243.1 462.7,244.2 462.7,245.4 462.8,246.6 462.8,247.9 462.9,249.2 463.0,250.5 463.0,251.8 463.1,253.1 463.1,254.5 463.2,255.8 463.3,257.1 463.3,258.4 463.4,259.6 463.4,260.8 463.5,262.0 463.5,262.9 463.6,263.8 463.6,264.8 463.7,265.8 463.7,266.9 463.8,267.9 463.8,269.0 463.9,270.2 463.9,271.3 464.0,272.4 464.0,273.6 464.1,274.8 464.1,275.9 464.2,277.1 464.2,278.3 464.2,279.4 464.3,280.6 464.3,281.7 464.4,282.8 464.4,283.9 464.5,285.0 464.5,286.0 464.6,287.0 464.6,288.0 464.7,288.9 464.7,289.8 464.8,290.6 464.8,291.4 464.9,292.1 464.9,292.8 465.0,293.4 465.0,294.0 465.1,295.5 465.3,297.0 465.4,298.4 465.6,299.7 465.7,300.9 465.9,302.0 466.0,303.1 466.1,304.1 466.3,305.1 466.4,306.0 466.6,306.9 466.7,307.8 466.9,308.6 467.0,309.4 467.1,310.2 467.3,311.0 467.4,311.8 467.6,312.6 467.7,313.4 467.9,314.2 468.0,315.0 468.2,316.2 468.4,317.3 468.6,318.5 468.8,319.6 469.0,320.7 469.2,321.8 469.4,322.9 469.6,324.0 469.8,325.1 470.0,326.1 470.2,327.1 470.4,328.1 470.6,329.1 470.8,330.0 471.0,330.9 471.2,331.8 471.4,332.6 471.6,333.5 471.8,334.2 472.0,335.0 472.3,336.2 472.7,337.4 473.0,338.6 473.3,339.7 473.7,340.8 474.0,341.8 474.3,342.9 474.7,343.9 475.0,344.8 475.3,345.8 475.7,346.7 476.0,347.5 476.3,348.4 476.7,349.2 477.0,349.9 477.3,350.7 477.7,351.3 478.0,352.0 478.6,353.1 479.2,354.3 479.8,355.4 480.3,356.6 480.9,357.7 481.5,358.7 482.1,359.6 482.7,360.4 483.2,361.1 483.8,361.6 484.4,361.9 485.0,362.0 486.0,362.0 487.0,362.0 488.0,362.0 489.0,362.0 490.0,362.0 490.6,361.8 491.2,361.4 491.9,360.7 492.5,359.8 493.1,358.7 493.8,357.6 494.4,356.3 495.0,355.0 495.2,354.5 495.5,353.9 495.8,353.2 496.0,352.5 496.3,351.7 496.5,350.9 496.7,350.1 497.0,349.2 497.2,348.2 497.5,347.2 497.8,346.1 498.0,345.0 498.2,343.8 498.5,342.5 498.8,341.2 499.0,339.9 499.2,338.5 499.5,337.0 499.6,336.4 499.7,335.8 499.8,335.1 499.9,334.4 500.0,333.6 500.1,332.9 500.2,332.0 500.2,331.2 500.3,330.3 500.4,329.4 500.5,328.4 500.6,327.4 500.7,326.4 500.8,325.4 500.9,324.4 501.0,323.3 501.1,322.2 501.2,321.1 501.3,320.0 501.4,318.9 501.5,317.7 501.6,316.6 501.7,315.4 501.8,314.3 501.8,313.1 501.9,312.0 502.0,310.8 502.1,309.6 502.2,308.5 502.3,307.3 502.4,306.1 502.5,305.0 502.6,304.1 502.6,303.2 502.7,302.3 502.8,301.3 502.9,300.4 502.9,299.4 503.0,298.4 503.1,297.4 503.1,296.3 503.2,295.3 503.3,294.2 503.4,293.2 503.4,292.1 503.5,291.0 503.6,290.0 503.6,288.9 503.7,287.8 503.8,286.7 503.9,285.6 503.9,284.6 504.0,283.5 504.1,282.4 504.1,281.4 504.2,280.3 504.3,279.3 504.4,278.3 504.4,277.3 504.5,276.3 504.6,275.3 504.6,274.4 504.7,273.5 504.8,272.6 504.9,271.7 504.9,270.8 505.0,270.0 505.1,268.8 505.2,267.5 505.3,266.2 505.4,264.8 505.5,263.6 505.6,262.4 505.7,261.4 505.8,260.7 505.9,260.2 506.0,260.0 506.0,260.1 506.1,260.3 506.2,260.6 506.2,261.0 506.2,261.5 506.3,262.2 506.3,262.9 506.4,263.7 506.4,264.6 506.5,265.6 506.5,266.6 506.6,267.7 506.7,268.8 506.7,270.0 506.8,271.2 506.8,272.5 506.8,273.8 506.9,275.1 506.9,276.4 507.0,277.8 507.0,279.1 507.1,280.4 507.1,281.7 507.2,283.0 507.2,284.3 507.3,285.5 507.4,286.7 507.4,287.9 507.4,289.0 507.5,290.0 507.5,291.0 507.6,292.0 507.6,293.1 507.7,294.1 507.8,295.2 507.8,296.3 507.9,297.4 507.9,298.5 508.0,299.6 508.0,300.7 508.1,301.8 508.1,303.0 508.1,304.1 508.2,305.2 508.2,306.4 508.3,307.5 508.3,308.7 508.4,309.8 508.4,310.9 508.5,312.1 508.6,313.2 508.6,314.4 508.7,315.5 508.7,316.6 508.8,317.7 508.8,318.8 508.8,319.9 508.9,321.0 509.0,322.1 509.0,323.1 509.1,324.2 509.1,325.2 509.1,326.2 509.2,327.2 509.2,328.2 509.3,329.2 509.4,330.1 509.4,331.0 509.4,331.9 509.5,332.8 509.5,333.6 509.6,334.5 509.6,335.3 509.7,336.0 509.8,336.8 509.8,337.5 509.9,338.2 509.9,338.8 509.9,339.4 510.0,340.0 510.1,341.5 510.3,342.9 510.4,344.4 510.5,345.7 510.7,347.1 510.8,348.4 510.9,349.7 511.1,350.9 511.2,352.1 511.3,353.3 511.5,354.4 511.6,355.5 511.7,356.6 511.9,357.6 512.0,358.7 512.1,359.6 512.3,360.6 512.4,361.5 512.5,362.4 512.7,363.2 512.8,364.0 512.9,364.8 513.1,365.6 513.2,366.3 513.3,367.0 513.5,367.6 513.6,368.3 513.7,368.9 513.9,369.5 514.0,370.0 514.4,371.4 514.8,372.8 515.1,374.0 515.5,375.2 515.9,376.2 516.2,377.2 516.6,378.2 517.0,379.1 517.4,379.9 517.8,380.8 518.1,381.6 518.5,382.4 518.9,383.1 519.2,383.9 519.6,384.8 520.0,385.6 520.5,386.7 521.0,387.8 521.5,388.8 522.0,389.8 522.5,390.9 523.0,392.0 523.5,393.0 524.0,394.1 524.5,395.1 525.0,396.1 525.5,397.1 526.0,398.1 526.5,399.0 527.0,400.0 527.5,400.9 528.0,401.7 528.7,402.8 529.3,403.9 530.0,404.9 530.7,405.9 531.3,406.8 532.0,407.7 532.7,408.5 533.3,409.3 534.0,410.1 535.0,411.2 536.0,412.2 537.0,413.1 538.0,413.9 539.0,414.6 540.0,415.3 541.0,416.0 542.0,416.6 543.0,417.1 544.0,417.6 545.0,418.0 546.0,418.4 547.0,418.8 548.0,419.0 549.0,419.0 550.0,419.1 551.0,418.9 552.0,418.5 553.0,417.9 554.0,417.0 554.7,416.3 555.3,415.4 556.0,414.4 556.5,413.6 557.0,412.6 557.5,411.6 558.0,410.5 558.5,409.3 559.0,408.0 559.3,407.2 559.6,406.4 559.8,405.6 560.1,404.7 560.4,403.9 560.7,403.0 560.9,402.1 561.2,401.2 561.5,400.2 561.8,399.2 562.1,398.2 562.3,397.2 562.6,396.1 562.9,394.9 563.2,393.8 563.4,392.6 563.7,391.3 564.0,390.0 564.1,389.3 564.3,388.5 564.4,387.7 564.6,386.9 564.8,386.0 564.9,385.1 565.0,384.2 565.2,383.2 565.4,382.2 565.5,381.2 565.7,380.2 565.8,379.1 566.0,378.1 566.1,377.0 566.2,375.8 566.4,374.7 566.5,373.6 566.7,372.4 566.9,371.2 567.0,370.0 567.1,369.2 567.2,368.3 567.3,367.3 567.4,366.4 567.5,365.4 567.6,364.3 567.7,363.2 567.8,362.1 567.9,361.0 568.0,359.9 568.1,358.7 568.2,357.6 568.3,356.5 568.4,355.4 568.5,354.2 568.6,353.1 568.7,352.1 568.8,351.0 568.9,350.0 569.0,349.1 569.1,348.1 569.2,347.3 569.3,346.5 569.4,345.7 569.5,345.0 569.7,343.7 569.9,342.3 570.1,340.9 570.3,339.6 570.5,338.4 570.7,337.3 570.9,336.3 571.1,335.6 571.3,335.2 571.5,335.0 571.6,335.1 571.7,335.4 571.9,335.9 572.0,336.5 572.1,337.3 572.2,338.2 572.3,339.2 572.4,340.3 572.6,341.5 572.7,342.8 572.8,344.1 572.9,345.4 573.0,346.8 573.1,348.1 573.3,349.5 573.4,350.8 573.5,352.0 573.6,352.8 573.7,353.6 573.7,354.5 573.8,355.5 573.9,356.4 574.0,357.4 574.0,358.4 574.1,359.5 574.2,360.5 574.3,361.6 574.3,362.7 574.4,363.9 574.5,365.0 574.6,366.1 574.6,367.3 574.7,368.4 574.8,369.5 574.9,370.7 574.9,371.8 575.0,372.9 575.1,374.0 575.2,375.1 575.2,376.2 575.3,377.2 575.4,378.2 575.5,379.2 575.5,380.2 575.6,381.1 575.7,382.0 575.8,382.8 575.8,383.6 575.9,384.3 576.0,385.0 576.2,386.4 576.3,387.7 576.5,389.0 576.6,390.3 576.8,391.5 577.0,392.7 577.1,393.8 577.3,395.0 577.4,396.1 577.6,397.1 577.8,398.2 577.9,399.2 578.1,400.1 578.2,401.1 578.4,402.0 578.6,402.9 578.7,403.8 578.9,404.6 579.0,405.4 579.2,406.2 579.4,407.0 579.5,407.8 579.7,408.5 579.8,409.3 580.0,410.0 580.3,411.3 580.6,412.6 580.9,413.8 581.2,415.0 581.5,416.1 581.8,417.2 582.1,418.3 582.4,419.4 582.7,420.4 583.0,421.4 583.3,422.3 583.6,423.2 583.9,424.2 584.2,425.0 584.5,425.9 584.8,426.8 585.1,427.6 585.4,428.4 585.7,429.2 586.0,430.0 586.4,431.1 586.9,432.3 587.3,433.4 587.8,434.4 588.2,435.5 588.6,436.5 589.1,437.5 589.5,438.5 589.9,439.4 590.4,440.3 590.8,441.2 591.2,442.0 591.7,442.8 592.1,443.6 592.6,444.3 593.0,445.0 593.7,446.0 594.4,447.0 595.1,448.0 595.8,448.9 596.5,449.8 597.2,450.6 597.9,451.3 598.6,451.9 599.3,452.5 600.0,453.0 601.0,453.6 602.0,454.2 603.0,454.8 604.0,455.3 605.0,455.7 606.0,455.9 607.0,456.0 607.7,455.9 608.4,455.6 609.1,455.1 609.8,454.4 610.5,453.6 611.2,452.6 611.9,451.6 612.6,450.4 613.3,449.2 614.0,448.0 614.3,447.5 614.6,446.9 614.8,446.3 615.1,445.6 615.4,444.8 615.7,444.0 615.9,443.1 616.2,442.2 616.5,441.3 616.8,440.2 617.1,439.1 617.3,438.0 617.6,436.8 617.9,435.6 618.2,434.2 618.4,432.9 618.7,431.5 619.0,430.0 619.1,429.4 619.2,428.8 619.3,428.1 619.4,427.4 619.5,426.7 619.6,425.9 619.8,425.1 619.9,424.2 620.0,423.4 620.1,422.5 620.2,421.5 620.3,420.6 620.4,419.6 620.5,418.6 620.6,417.5 620.7,416.5 620.8,415.4 620.9,414.3 621.0,413.1 621.1,412.0 621.2,410.8 621.4,409.6 621.5,408.4 621.6,407.1 621.7,405.9 621.8,404.6 621.9,403.3 622.0,402.0 622.1,401.3 622.1,400.5 622.2,399.6 622.2,398.8 622.3,397.9 622.4,397.0 622.4,396.0 622.5,395.0 622.5,394.0 622.6,393.0 622.6,391.9 622.7,390.8 622.8,389.8 622.8,388.7 622.9,387.6 622.9,386.4 623.0,385.3 623.1,384.2 623.1,383.1 623.2,382.0 623.2,380.9 623.3,379.8 623.4,378.7 623.4,377.6 623.5,376.5 623.5,375.5 623.6,374.4 623.6,373.4 623.7,372.4 623.8,371.5 623.8,370.6 623.9,369.7 623.9,368.8 624.0,368.0 624.1,366.8 624.2,365.5 624.3,364.2 624.4,362.9 624.4,361.5 624.5,360.2 624.6,358.8 624.7,357.5 624.8,356.1 624.9,354.8 625.0,353.5 625.1,352.2 625.2,351.0 625.2,349.7 625.3,348.6 625.4,347.5 625.5,346.4 625.6,345.4 625.7,344.4 625.8,343.6 625.9,342.8 626.0,342.1 626.1,341.5 626.1,341.0 626.2,340.5 626.3,340.2 626.4,340.1 626.5,340.0 626.5,340.0 626.6,340.2 626.7,340.4 626.7,340.7 626.8,341.0 626.8,341.5 626.8,342.0 626.9,342.5 627.0,343.2 627.0,343.9 627.0,344.6 627.1,345.5 627.2,346.3 627.2,347.2 627.2,348.2 627.3,349.2 627.4,350.3 627.4,351.4 627.4,352.5 627.5,353.7 627.6,354.9 627.6,356.1 627.7,357.4 627.7,358.6 627.8,359.9 627.8,361.2 627.9,362.6 627.9,363.9 628.0,365.3 628.0,366.6 628.0,368.0 628.1,369.4 628.2,370.7 628.2,372.1 628.2,373.4 628.3,374.8 628.4,376.1 628.4,377.4 628.5,378.7 628.5,380.0 628.5,380.8 628.6,381.6 628.6,382.4 628.6,383.3 628.6,384.2 628.7,385.2 628.7,386.1 628.7,387.1 628.8,388.1 628.8,389.2 628.8,390.2 628.9,391.3 628.9,392.4 628.9,393.5 628.9,394.6 629.0,395.8 629.0,396.9 629.0,398.1 629.1,399.2 629.1,400.4 629.1,401.6 629.2,402.7 629.2,403.9 629.2,405.1 629.2,406.3 629.3,407.4 629.3,408.6 629.3,409.7 629.4,410.9 629.4,412.0 629.4,413.2 629.5,414.3 629.5,415.4 629.5,416.4 629.5,417.5 629.6,418.5 629.6,419.5 629.6,420.5 629.7,421.5 629.7,422.4 629.7,423.4 629.8,424.2 629.8,425.1 629.8,425.9 629.9,426.7 629.9,427.4 629.9,428.1 629.9,428.8 630.0,429.4 630.0,430.0 630.1,431.5 630.2,432.9 630.2,434.3 630.3,435.6 630.4,436.9 630.5,438.1 630.6,439.4 630.6,440.5 630.7,441.7 630.8,442.8 630.9,443.8 631.0,444.8 631.0,445.8 631.1,446.8 631.2,447.7 631.3,448.6 631.4,449.4 631.4,450.2 631.5,451.0 631.6,451.7 631.7,452.4 631.8,453.1 631.8,453.8 631.9,454.4 632.0,455.0 632.2,456.5 632.4,457.9 632.6,459.2 632.8,460.5 633.1,461.6 633.3,462.8 633.5,463.8 633.7,464.8 633.9,465.8 634.1,466.7 634.3,467.6 634.5,468.5 634.7,469.3 634.9,470.1 635.2,470.9 635.4,471.7 635.6,472.4 635.8,473.2 636.0,474.0 636.3,475.2 636.7,476.4 637.0,477.5 637.3,478.5 637.7,479.6 638.0,480.5 638.3,481.5 638.7,482.4 639.0,483.4 639.3,484.3 639.7,485.2 640.0,486.1"/>
<path stroke="#f00" stroke-dasharray="10.5 17.5" stroke-dashoffset="20.60" d="M639.7,485.2 640.0,486.1 640.3,487.0 640.7,488.0 641.0,488.9 641.3,489.9 641.7,490.9 642.0,492.0 642.3,492.9 642.6,493.9 642.9,494.9 643.1,495.9 643.4,496.9 643.7,497.9 644.0,499.0 644.3,500.0 644.6,501.0 644.9,502.1 645.1,503.1 645.4,504.1 645.7,505.0 646.0,506.0 646.3,507.1 646.7,508.2 647.0,509.3 647.3,510.3 647.7,511.4 648.0,512.3 648.4,513.4 648.8,514.5 649.2,515.5 649.6,516.4 650.0,517.4 650.4,518.4 650.8,519.4 651.2,520.4 651.6,521.3 652.0,522.3 652.5,523.4 653.0,524.6 653.5,525.7 654.0,526.8 654.5,528.0 655.0,529.0 655.5,530.1 656.0,531.2 656.5,532.2 657.0,533.3 657.5,534.3 658.0,535.3 658.5,536.3 659.0,537.3 659.5,538.2 660.0,539.2 660.5,540.1 661.0,541.0 661.5,541.9 662.0,542.8 662.5,543.7 663.0,544.6 663.5,545.5 664.0,546.3 664.7,547.5 665.3,548.6 666.0,549.6 666.7,550.7 667.3,551.7 668.0,552.8 668.7,553.8 669.3,554.8 670.0,555.8 670.7,556.7 671.3,557.7 672.0,558.6 672.7,559.5 673.3,560.4 674.0,561.3 674.7,562.2 675.3,563.1 676.0,563.9 676.7,564.7 677.3,565.6 678.0,566.4 678.7,567.2 679.3,568.0 680.0,568.8 680.7,569.6 681.3,570.4 682.0,571.1 683.0,572.2 684.0,573.3 685.0,574.4 686.0,575.5 687.0,576.5 688.0,577.6 689.0,578.6 690.0,579.5 691.0,580.5 692.0,581.5 693.0,582.4 694.0,583.3 695.0,584.2 696.0,585.1 697.0,585.9 698.0,586.8 699.0,587.6 700.0,588.4 701.0,589.2 702.0,589.9 703.0,590.7 704.0,591.4 705.0,592.2 706.0,592.9 707.0,593.6 708.0,594.3 709.0,594.9 710.0,595.6 711.0,596.2 712.0,596.9 713.0,597.5 714.0,598.1 715.0,598.7 716.0,599.2 717.0,599.8 718.0,600.3 719.0,600.9 720.0,601.4 721.0,601.9 722.0,602.4 723.0,602.9 724.0,603.4 725.0,603.9 726.0,604.4 727.0,604.8 728.0,605.3 729.0,605.7 730.0,606.1 731.0,606.6 732.0,607.0 733.0,607.4 734.0,607.8 735.0,608.2 736.0,608.5 737.0,608.9 738.0,609.3 739.0,609.6 740.0,610.0 741.0,610.3 742.0,610.6 743.0,610.9 744.0,611.2 745.0,611.4 746.0,611.7 747.0,611.9 748.0,612.1 749.0,612.4 750.0,612.5 751.0,612.7 752.0,612.9 753.0,613.0 754.0,613.1 755.0,613.2 756.0,613.3 757.0,613.4 758.0,613.4 759.0,613.4 760.0,613.4 761.0,613.4 762.0,613.4 763.0,613.3 764.0,613.2 765.0,613.1 766.0,613.0 767.0,612.8 768.0,612.6 769.0,612.4 770.0,612.1 771.0,611.9 772.0,611.6 773.0,611.2 774.0,610.9 775.0,610.5 776.0,610.1 777.0,609.7 778.0,609.2 779.0,608.7 780.0,608.2 781.0,607.6 782.0,607.0 783.0,606.4 784.0,605.7 785.0,605.0 786.0,604.3 787.0,603.5 788.0,602.7 789.0,601.9 790.0,601.0 791.0,600.1 792.0,599.2 793.0,598.2 794.0,597.2 795.0,596.1 796.0,595.0 796.7,594.2 797.3,593.5 798.0,592.7 798.7,591.8 799.3,591.0 800.0,590.1 800.7,589.2 801.3,588.2 802.0,587.3 802.7,586.2 803.3,585.2 804.0,584.1 804.5,583.2 805.0,582.3 805.5,581.4 806.0,580.5 806.5,579.5 807.0,578.5 807.5,577.5 808.0,576.4 808.4,575.5 808.8,574.6 809.2,573.7 809.6,572.8 810.0,571.8 810.4,570.8 810.8,569.8 811.2,568.8 811.6,567.7 812.0,566.6 812.3,565.7 812.7,564.8 813.0,563.8 813.3,562.8 813.7,561.8 814.0,560.8 814.3,559.9 814.6,559.0 814.9,558.0 815.2,557.0 815.4,556.1 815.7,555.2 815.9,554.2 816.2,553.3 816.4,552.3 816.7,551.2 816.9,550.2 817.1,549.2 817.4,548.1 817.6,547.1 817.9,546.1 818.1,545.1 818.4,544.1 818.6,543.2 818.9,542.3 819.1,541.4 819.4,540.6 819.6,539.7 819.9,538.8 820.1,537.9 820.4,537.0 820.6,536.0 820.9,534.9 821.1,533.8 821.4,532.5 821.6,531.2 821.7,530.5 821.8,529.8 822.0,529.0 822.1,528.2 822.2,527.3 822.3,526.4 822.4,525.4 822.5,524.4 822.7,523.4 822.8,522.3 822.9,521.2 823.0,520.0 823.1,518.8 823.3,517.6 823.4,516.3 823.5,515.0 823.6,514.3 823.6,513.5 823.7,512.6 823.8,511.8 823.8,510.9 823.9,509.9 824.0,509.0 824.0,508.0 824.1,507.0 824.1,506.0 824.2,504.9 824.3,503.8 824.3,502.8 824.4,501.7 824.5,500.6 824.5,499.5 824.6,498.3 824.7,497.2 824.7,496.1 824.8,495.0 824.9,494.1 824.9,493.0 825.0,491.9 825.0,490.7 825.1,489.5 825.1,488.2 825.2,486.9 825.2,485.6 825.3,484.2 825.3,482.9 825.4,481.6 825.4,480.3 825.5,479.1 825.5,477.9 825.6,476.8 825.6,475.8 825.7,474.8 825.7,474.0 825.8,473.3 825.8,472.8 825.9,472.3 825.9,472.1 826.0,472.0 826.1,472.1 826.1,472.3 826.2,472.7 826.2,473.2 826.3,473.8 826.3,474.6 826.4,475.4 826.4,476.4 826.5,477.4 826.5,478.5 826.6,479.7 826.6,480.9 826.7,482.2 826.8,483.5 826.8,484.9 826.9,486.2 826.9,487.6 827.0,488.9 827.0,490.2 827.1,491.6 827.1,492.8 827.2,494.1 827.2,495.3 827.3,496.4 827.3,497.4 827.4,498.4 827.4,499.2 827.5,500.0 827.6,501.3 827.7,502.6 827.8,503.9 827.9,505.1 828.0,506.3 828.1,507.5 828.2,508.6 828.3,509.7 828.4,510.8 828.5,511.9 828.6,512.9 828.7,513.8 828.8,514.8 828.9,515.6 829.0,516.5 829.1,517.3 829.2,518.0 829.3,518.7 829.4,519.4 829.5,520.0 829.8,521.4"/>
<path stroke="#f00" stroke-dasharray="10.5 17.5" stroke-dashoffset="5.32" d="M829.8,521.4 830.0,522.7 830.2,523.8 830.5,524.9 830.8,525.9 831.0,526.8 831.2,527.7 831.5,528.5 831.8,529.3 832.0,530.0 832.4,531.3 832.9,532.5 833.3,533.6 833.8,534.6 834.2,535.6 834.7,536.5 835.1,537.4 835.6,538.2 836.0,539.0 836.6,540.1 837.2,541.2 837.9,542.1 838.5,542.5 839.7,542.8 840.8,542.9 842.0,543.0 842.7,542.8 843.3,542.3 844.0,541.4 844.7,540.4 845.3,539.2 846.0,538.0 846.3,537.4 846.6,536.8 846.9,536.0 847.2,535.2 847.5,534.3 847.8,533.3 848.1,532.2 848.4,530.9 848.7,529.5 849.0,528.0 849.1,527.4 849.2,526.8 849.3,526.1 849.4,525.3 849.5,524.4 849.6,523.5 849.7,522.5 849.8,521.5 849.8,520.4 849.9,519.3 850.0,518.1 850.1,516.9 850.2,515.7 850.3,514.5 850.4,513.2 850.5,512.0 850.6,511.2 850.6,510.3 850.7,509.4 850.7,508.5 850.8,507.5 850.9,506.5 850.9,505.4 851.0,504.4 851.0,503.3 851.1,502.2 851.1,501.1 851.2,500.1 851.3,499.0 851.3,498.0 851.4,496.9 851.4,496.0 851.5,495.0 851.6,493.9 851.6,492.7 851.7,491.4 851.8,490.1 851.8,488.8 851.9,487.4 852.0,486.1 852.0,484.9 852.1,483.8 852.2,482.7 852.2,481.8 852.3,481.1 852.4,480.5 852.4,480.1 852.5,480.0 852.6,480.1 852.7,480.4 852.7,480.8 852.8,481.4 852.9,482.2 852.9,483.1 853.0,484.0 853.1,485.1 853.2,486.3 853.2,487.5 853.3,488.8 853.4,490.1 853.5,491.4 853.5,492.7 853.6,494.1 853.7,495.4 853.8,496.6 853.9,497.8 853.9,499.0 854.0,500.0 854.1,501.0 854.2,502.0 854.2,503.0 854.3,504.0 854.4,505.0 854.5,506.1 854.5,507.1 854.6,508.1 854.7,509.1 854.8,510.1 854.8,511.1 854.9,512.2 855.0,513.2 855.0,514.2 855.1,515.1 855.2,516.1 855.3,517.1 855.4,518.1 855.4,519.0 855.5,520.0 855.6,521.1 855.7,522.1 855.8,523.2 855.8,524.3 855.9,525.4 856.0,526.4 856.1,527.5 856.2,528.6 856.2,529.6 856.3,530.7 856.4,531.7 856.5,532.7 856.6,533.6 856.7,534.6 856.8,535.5 856.8,536.4 856.9,537.2 857.0,538.0 857.1,539.2 857.3,540.4 857.4,541.6 857.5,542.7 857.7,543.8 857.8,544.9 857.9,545.9 858.1,546.9 858.2,547.9 858.3,548.8 858.5,549.7 858.6,550.6 858.7,551.4 858.9,552.2 859.0,553.0 859.2,554.2 859.4,555.3 859.7,556.3 859.9,557.2 860.1,558.2 860.3,559.1 860.6,560.0 860.8,561.0 861.0,562.0 861.2,562.9 861.4,563.9 861.6,564.9 861.8,565.9 862.0,566.9 862.1,567.9 862.3,568.9 862.5,570.0 862.7,571.1 862.9,572.1 863.1,573.2 863.3,574.2 863.5,575.3 863.7,576.3 863.9,577.3 864.0,578.3 864.2,579.3 864.4,580.3 864.6,581.3 864.8,582.2 865.0,583.1 865.2,584.2 865.5,585.3 865.8,586.4 866.0,587.4 866.2,588.4 866.5,589.5 866.8,590.5 867.0,591.5 867.3,592.6 867.6,593.7 867.9,594.8 868.1,595.9 868.4,597.0 868.7,598.0 869.0,599.1 869.3,600.1 869.6,601.1 869.9,602.1 870.1,603.1 870.4,604.1 870.7,605.0 871.0,606.0 871.3,607.0 871.7,608.1 872.0,609.2 872.3,610.2 872.7,611.2 873.0,612.2 873.3,613.2 873.7,614.2 874.0,615.1 874.3,616.1 874.7,617.0 875.0,617.9 875.4,619.0 875.8,620.0 876.2,621.1 876.6,622.1 877.0,623.1 877.4,624.1 877.8,625.0 878.2,626.0 878.6,626.9 879.0,627.8 879.5,628.9 880.0,630.0 880.5,631.1 881.0,632.1 881.5,633.2 882.0,634.2 882.5,635.2 883.0,636.2 883.5,637.1 884.0,638.1 884.5,639.0 885.0,640.0 885.5,640.9 886.0,641.8 886.5,642.7 887.0,643.6 887.7,644.7 888.3,645.9 889.0,647.0 889.7,648.1 890.3,649.2 891.0,650.3 891.7,651.4 892.3,652.4 893.0,653.5 893.7,654.5 894.3,655.5 895.0,656.5 895.7,657.5 896.3,658.5 897.0,659.5 897.7,660.4 898.3,661.3 899.0,662.3 899.7,663.2 900.3,664.1 901.0,665.0 901.7,665.8 902.3,666.7 903.0,667.6 903.7,668.4 904.3,669.2 905.0,670.1 905.7,670.9 906.3,671.7 907.0,672.5 907.7,673.3 908.3,674.0 909.0,674.8 909.7,675.6 910.3,676.3 911.0,677.1 912.0,678.2 913.0,679.3 914.0,680.3 915.0,681.4 916.0,682.4 917.0,683.4 918.0,684.5 919.0,685.5 920.0,686.5 921.0,687.4 922.0,688.4 923.0,689.4 924.0,690.3 925.0,691.2 926.0,692.2 927.0,693.1 928.0,694.0 929.0,694.9 930.0,695.8 931.0,696.6 932.0,697.5 933.0,698.4 934.0,699.2 935.0,700.0 936.0,700.8 937.0,701.7 938.0,702.5 939.0,703.2 940.0,704.0"/>
<path stroke="#f00" stroke-dasharray="10.5 17.5" stroke-dashoffset="11.46" d="M939.0,703.2 940.0,704.0 941.0,704.8 942.0,705.6 943.0,706.3 944.0,707.0 945.0,707.8 946.0,708.5 947.0,709.2 948.0,709.9 949.0,710.6 950.0,711.3 951.0,712.0 952.0,712.6 953.0,713.3 954.0,713.9 955.0,714.5 956.0,715.2 957.0,715.8 958.0,716.4 959.0,717.0 960.0,717.6 961.0,718.2 962.0,718.7 963.0,719.3 964.0,719.8 965.0,720.4 966.0,720.9 967.0,721.4 968.0,721.9 969.0,722.5 970.0,723.0 971.0,723.4 972.0,723.9 973.0,724.4 974.0,724.9 975.0,725.3 976.0,725.8 977.0,726.2 978.0,726.6 979.0,727.0 980.0,727.4 981.0,727.9 982.0,728.2 983.0,728.6 984.0,729.0 985.0,729.4 986.0,729.7 987.0,730.1 988.0,730.4 989.0,730.8 990.0,731.1 991.0,731.4 992.0,731.8 993.0,732.1 994.0,732.4 995.0,732.7 996.0,732.9 997.0,733.2 998.0,733.5 999.0,733.7 1000.0,734.0 1001.0,734.2 1002.0,734.5 1003.0,734.7 1004.0,734.9 1005.0,735.2 1006.0,735.4 1007.0,735.6 1008.0,735.8 1009.0,736.0 1010.0,736.1 1011.0,736.3 1012.0,736.5 1013.0,736.6 1014.0,736.8 1015.0,736.9 1016.0,737.1 1017.0,737.2 1018.0,737.3 1019.0,737.5 1020.0,737.6 1021.0,737.7 1022.0,737.8 1023.0,737.9 1024.0,738.0 1025.0,738.1 1026.0,738.1 1027.0,738.2 1028.0,738.3 1029.0,738.3 1030.0,738.4 1031.0,738.4 1032.0,738.4 1033.0,738.5 1034.0,738.5 1035.0,738.5 1036.0,738.5 1037.0,738.6 1038.0,738.6 1039.0,738.6 1040.0,738.5 1041.0,738.5 1042.0,738.5 1043.0,738.5 1044.0,738.5 1045.0,738.4 1046.0,738.4 1047.0,738.3 1048.0,738.3 1049.0,738.2 1050.0,738.2 1051.0,738.1 1052.0,738.0 1053.0,737.9 1054.0,737.8 1055.0,737.8 1056.0,737.7 1057.0,737.6 1058.0,737.5 1059.0,737.4 1060.0,737.2 1061.0,737.1 1062.0,737.0 1063.0,736.9 1064.0,736.7 1065.0,736.6 1066.0,736.5 1067.0,736.3 1068.0,736.2 1069.0,736.0 1070.0,735.8 1071.0,735.7 1072.0,735.5 1073.0,735.3 1074.0,735.2 1075.0,735.0 1076.0,734.8 1077.0,734.6 1078.0,734.4 1079.0,734.2 1080.0,733.9 1081.0,733.7 1082.0,733.5 1083.0,733.3 1084.0,733.0 1085.0,732.8 1086.0,732.5 1087.0,732.3 1088.0,732.0 1089.0,731.7 1090.0,731.4 1091.0,731.1 1092.0,730.8 1093.0,730.5 1094.0,730.2 1095.0,729.9 1096.0,729.6 1097.0,729.2 1098.0,728.9 1099.0,728.5 1100.0,728.2 1101.0,727.8 1102.0,727.4 1103.0,727.0 1104.0,726.6 1105.0,726.2 1106.0,725.8 1107.0,725.4 1108.0,725.0 1109.0,724.5 1110.0,724.1 1111.0,723.6 1112.0,723.2 1113.0,722.7 1114.0,722.2 1115.0,721.7 1116.0,721.2 1117.0,720.7 1118.0,720.1 1119.0,719.6 1120.0,719.0 1121.0,718.5 1122.0,717.9 1123.0,717.3 1124.0,716.7 1125.0,716.1 1126.0,715.5 1127.0,714.9 1128.0,714.2 1129.0,713.6 1130.0,712.9 1131.0,712.2 1132.0,711.6 1133.0,710.9 1134.0,710.2 1135.0,709.4 1136.0,708.7 1137.0,707.9 1138.0,707.2 1139.0,706.4 1140.0,705.6 1141.0,704.8 1142.0,704.0 1143.0,703.2 1144.0,702.4 1145.0,701.5 1146.0,700.6 1147.0,699.8 1148.0,698.9 1149.0,698.0 1150.0,697.0 1151.0,696.1 1152.0,695.2 1153.0,694.2 1154.0,693.2 1155.0,692.2 1156.0,691.2 1157.0,690.2 1158.0,689.2 1159.0,688.1 1160.0,687.1 1161.0,686.0 1162.0,684.9 1163.0,683.8 1163.7,683.0 1164.3,682.3 1165.0,681.5 1165.7,680.7 1166.3,680.0 1167.0,679.2 1167.7,678.4 1168.3,677.6 1169.0,676.8 1169.7,676.0 1170.3,675.1 1171.0,674.3 1171.7,673.5 1172.3,672.6 1173.0,671.8 1173.7,670.9 1174.3,670.1 1175.0,669.2 1175.7,668.3 1176.3,667.4 1177.0,666.5 1177.7,665.6 1178.3,664.7 1179.0,663.8 1179.7,662.9 1180.3,662.0 1181.0,661.0 1181.7,660.1 1182.3,659.1 1183.0,658.1 1183.7,657.1 1184.3,656.2 1185.0,655.2 1185.7,654.1 1186.3,653.1 1187.0,652.1 1187.7,651.0 1188.3,650.0 1189.0,648.9 1189.7,647.8 1190.3,646.7 1191.0,645.6 1191.7,644.5 1192.3,643.4 1193.0,642.2 1193.5,641.4 1194.0,640.5 1194.5,639.6 1195.0,638.7 1195.5,637.8 1196.0,636.9 1196.5,636.0 1197.0,635.1 1197.5,634.1 1198.0,633.2 1198.5,632.2 1199.0,631.3 1199.5,630.3 1200.0,629.3 1200.5,628.3 1201.0,627.3 1201.5,626.3 1202.0,625.3 1202.5,624.3 1203.0,623.2 1203.5,622.2 1204.0,621.1 1204.5,620.0 1205.0,619.0 1205.5,617.9 1206.0,616.8 1206.5,615.7 1207.0,614.5 1207.4,613.6 1207.8,612.7 1208.2,611.8 1208.6,610.9 1209.0,609.9 1209.4,609.0 1209.8,608.1 1210.2,607.1 1210.6,606.1 1211.0,605.2 1211.4,604.2 1211.8,603.2 1212.2,602.2 1212.6,601.2 1213.0,600.2 1213.4,599.2 1213.8,598.1 1214.2,597.1 1214.6,596.1 1215.0,595.0 1215.4,594.0 1215.8,592.9 1216.2,591.8 1216.6,590.7 1217.0,589.7 1217.4,588.6 1217.8,587.4 1218.2,586.3 1218.6,585.2 1219.0,584.1 1219.3,583.1 1219.7,582.2 1220.0,581.2 1220.3,580.2 1220.7,579.3 1221.0,578.3 1221.3,577.3 1221.7,576.3 1222.0,575.3 1222.3,574.3 1222.7,573.3 1223.0,572.3 1223.3,571.2 1223.7,570.2 1224.0,569.2 1224.3,568.1 1224.7,567.1 1225.0,566.0 1225.3,564.9 1225.7,563.9 1226.0,562.8 1226.3,561.7 1226.7,560.6 1227.0,559.5 1227.3,558.5 1227.6,557.5 1227.9,556.5 1228.1,555.5 1228.4,554.5 1228.7,553.4 1229.0,552.4 1229.2,551.5 1229.5,550.5 1229.8,549.6 1230.0,548.6 1230.2,547.6 1230.5,546.6 1230.8,545.6 1231.0,544.5 1231.2,543.6 1231.4,542.6 1231.7,541.7 1231.9,540.7 1232.1,539.7 1232.3,538.7 1232.6,537.7 1232.8,536.6 1233.0,535.6 1233.2,534.6 1233.4,533.6 1233.6,532.6 1233.8,531.6 1234.0,530.6 1234.2,529.6 1234.4,528.5 1234.6,527.5 1234.8,526.4 1235.0,525.3 1235.2,524.4 1235.3,523.4 1235.5,522.5 1235.7,521.5 1235.8,520.5 1236.0,519.5 1236.2,518.5 1236.3,517.5 1236.5,516.5 1236.7,515.4 1236.8,514.4 1237.0,513.3 1237.2,512.3 1237.3,511.3 1237.5,510.3 1237.6,509.3 1237.8,508.2 1237.9,507.1 1238.1,506.1 1238.2,505.0 1238.4,503.9 1238.5,502.8 1238.7,501.7 1238.8,500.6 1239.0,499.5 1239.1,498.5 1239.3,497.6 1239.4,496.6 1239.5,495.6 1239.7,494.6 1239.8,493.6 1239.9,492.6 1240.1,491.6 1240.2,490.6 1240.3,489.6 1240.5,488.6 1240.6,487.6 1240.7,486.6 1240.9,485.6 1241.0,484.6 1241.1,483.6 1241.3,482.5 1241.4,481.5 1241.6,480.5 1241.7,479.4 1241.9,478.4 1242.0,477.3 1242.1,476.3 1242.3,475.3 1242.4,474.3 1242.6,473.3 1242.7,472.4 1242.9,471.5 1243.0,470.6 1243.2,469.4 1243.4,468.3 1243.5,467.3 1243.7,466.2 1243.9,465.2 1244.1,464.2 1244.3,463.2 1244.5,462.2 1244.6,461.2 1244.8,460.2 1245.0,459.2 1245.2,458.3 1245.4,457.4 1245.5,456.5 1245.7,455.7 1245.9,454.8 1246.1,454.0 1246.3,453.0 1246.5,452.0 1246.6,450.9 1246.8,449.6 1247.0,448.1 1247.1,447.6 1247.1,447.1 1247.2,446.5 1247.2,445.8 1247.3,445.2 1247.3,444.4 1247.4,443.7 1247.4,442.9 1247.5,442.0 1247.6,441.2 1247.6,440.3 1247.7,439.3 1247.7,438.3 1247.8,437.4 1247.8,436.3 1247.9,435.3 1247.9,434.2 1248.0,433.1 1248.1,432.0 1248.1,430.9 1248.2,429.7 1248.2,428.5 1248.3,427.4 1248.3,426.2 1248.4,425.0 1248.4,423.8 1248.5,422.5 1248.6,421.3 1248.6,420.1 1248.7,418.9 1248.7,417.6 1248.8,416.4 1248.8,415.2 1248.9,414.0 1248.9,412.7 1249.0,411.5 1249.0,410.7 1249.1,409.8 1249.1,408.9 1249.2,408.0 1249.2,407.1 1249.2,406.2 1249.3,405.2 1249.3,404.2 1249.3,403.2 1249.4,402.2 1249.4,401.2 1249.5,400.1 1249.5,399.1 1249.5,398.0 1249.6,396.9 1249.6,395.8 1249.7,394.7 1249.7,393.6 1249.7,392.5 1249.8,391.4 1249.8,390.3 1249.8,389.2 1249.9,388.1 1249.9,387.0 1250.0,385.9 1250.0,384.8"/>
<path stroke="#f00" stroke-dasharray="10.5 17.5" stroke-dashoffset="17.34" d="M1250.0,384.8 1250.0,383.7 1250.1,382.6 1250.1,381.5 1250.1,380.4 1250.2,379.3 1250.2,378.3 1250.3,377.2 1250.3,376.2 1250.3,375.1 1250.4,374.1 1250.4,373.1 1250.5,372.1 1250.5,371.2 1250.5,370.2 1250.6,369.3 1250.6,368.3 1250.6,367.5 1250.7,366.6 1250.7,365.7 1250.8,364.9 1250.8,364.1 1250.9,362.9 1250.9,361.6 1251.0,360.4 1251.0,359.2 1251.1,358.0 1251.2,356.8 1251.2,355.6 1251.3,354.5 1251.4,353.3 1251.4,352.2 1251.5,351.0 1251.5,349.9 1251.6,348.8 1251.7,347.7 1251.7,346.6 1251.8,345.6 1251.8,344.5 1251.9,343.5 1252.0,342.4 1252.0,341.4 1252.1,340.4 1252.2,339.4 1252.2,338.4 1252.3,337.4 1252.3,336.4 1252.4,335.5 1252.5,334.5 1252.5,333.6 1252.6,332.7 1252.6,331.7 1252.7,330.8 1252.8,329.9 1252.8,329.1 1252.9,328.2 1252.9,327.3 1253.0,326.5 1253.1,325.6 1253.1,324.8 1253.2,324.0 1253.3,323.2 1253.3,322.4 1253.4,321.6 1253.4,320.8 1253.5,320.0 1253.6,318.7 1253.7,317.5 1253.8,316.2 1253.9,315.0 1254.0,313.8 1254.1,312.5 1254.2,311.3 1254.3,310.1 1254.4,308.9 1254.5,307.7 1254.6,306.5 1254.7,305.4 1254.8,304.2 1254.9,303.1 1255.0,302.0 1255.1,300.9 1255.2,299.8 1255.3,298.7 1255.4,297.7 1255.5,296.7 1255.6,295.7 1255.7,294.7 1255.8,293.8 1255.9,292.9 1256.0,292.0 1256.1,291.1 1256.2,290.3 1256.3,289.5 1256.4,288.8 1256.5,288.0 1256.6,287.4 1256.7,286.7 1256.8,286.1 1256.9,285.5 1257.0,285.0 1257.3,283.5 1257.6,282.0 1257.9,280.5 1258.2,279.1 1258.5,277.7 1258.8,276.4 1259.1,275.2 1259.4,274.1 1259.7,273.1 1260.0,272.2 1260.3,271.4 1260.6,270.8 1260.9,270.4 1261.2,270.1 1261.5,270.0 1261.8,270.2 1262.0,270.8 1262.2,271.6 1262.5,272.7 1262.8,273.9 1263.0,275.2 1263.2,276.6 1263.5,277.9 1263.8,279.0 1264.0,280.0 1264.3,281.1 1264.7,282.2 1265.0,283.3 1265.3,284.4 1265.7,285.4 1266.0,286.4 1266.3,287.4 1266.7,288.3 1267.0,289.3 1267.3,290.2 1267.7,291.1 1268.0,292.0 1268.4,293.0 1268.8,293.9 1269.2,294.7 1269.6,295.5 1270.0,296.3 1270.4,297.1 1270.8,298.0 1271.2,299.1 1271.6,300.3 1272.0,301.6 1272.2,302.3 1272.3,302.9 1272.5,303.7 1272.6,304.5 1272.8,305.5 1272.9,306.4 1273.1,307.5 1273.2,308.6 1273.4,309.7 1273.5,311.0 1273.7,312.3 1273.8,313.6 1274.0,315.0 1274.1,315.6 1274.1,316.4 1274.2,317.1 1274.3,318.0 1274.3,318.8 1274.4,319.8 1274.5,320.7 1274.6,321.7 1274.6,322.7 1274.7,323.8 1274.8,324.9 1274.8,326.0 1274.9,327.1 1275.0,328.2 1275.0,329.4 1275.1,330.5 1275.2,331.7 1275.2,332.9 1275.3,334.0 1275.4,335.2 1275.4,336.3 1275.5,337.4 1275.6,338.5 1275.7,339.6 1275.7,340.7 1275.8,341.7 1275.9,342.7 1275.9,343.7 1276.0,344.6 1276.1,345.7 1276.2,346.9 1276.3,348.0 1276.3,349.2 1276.4,350.3 1276.5,351.4 1276.6,352.5 1276.7,353.6 1276.8,354.7 1276.9,355.8 1277.0,356.8 1277.0,357.9 1277.1,358.9 1277.2,360.0 1277.3,361.0 1277.4,361.9 1277.5,362.9 1277.6,363.9 1277.7,364.8 1277.7,365.7 1277.8,366.6 1277.9,367.4 1278.0,368.2 1278.1,369.5 1278.3,370.6 1278.4,371.8 1278.5,372.9 1278.7,374.0 1278.8,375.0 1278.9,376.0 1279.1,377.0 1279.2,378.0 1279.3,379.0 1279.5,379.9 1279.6,380.9 1279.7,381.8 1279.9,382.8 1280.0,383.7 1280.2,384.8 1280.3,385.8 1280.5,386.9 1280.6,387.9 1280.8,388.8 1280.9,389.8 1281.1,390.8 1281.2,391.8 1281.4,392.7 1281.5,393.7 1281.7,394.7 1281.8,395.7 1282.0,396.7 1282.2,397.8 1282.3,398.8 1282.5,399.9 1282.6,401.0 1282.8,402.1 1282.9,403.2 1283.1,404.3 1283.2,405.3 1283.4,406.4 1283.5,407.4 1283.7,408.4 1283.8,409.3 1284.0,410.3 1284.2,411.5 1284.4,412.9 1284.6,414.1 1284.8,415.0 1285.0,415.4 1285.8,415.2 1286.5,414.7 1287.2,413.9 1288.0,412.8 1288.8,411.5 1289.5,410.0 1289.6,409.7 1289.7,409.3 1289.9,408.9 1290.0,408.3 1290.1,407.7 1290.2,407.1 1290.3,406.3 1290.4,405.5 1290.5,404.7 1290.7,403.7 1290.8,402.8 1290.9,401.8 1291.0,400.7 1291.1,399.6 1291.2,398.5 1291.4,397.3 1291.5,396.2 1291.6,395.0 1291.7,393.7 1291.8,392.5 1291.9,391.2 1292.1,390.0 1292.2,388.7 1292.3,387.4 1292.4,386.2 1292.5,384.9 1292.7,383.7 1292.8,382.4 1292.9,381.2 1293.0,380.0 1293.1,379.1 1293.2,378.2 1293.2,377.2 1293.3,376.2 1293.4,375.1 1293.5,373.9 1293.6,372.7 1293.6,371.5 1293.7,370.3 1293.8,369.0 1293.9,367.7 1294.0,366.3 1294.1,365.0 1294.1,363.7 1294.2,362.3 1294.3,361.0 1294.4,359.7 1294.5,358.3 1294.5,357.0 1294.6,355.8 1294.7,354.5 1294.8,353.3 1294.9,352.2 1294.9,351.1 1295.0,350.0 1295.1,349.0 1295.2,348.0 1295.3,347.1 1295.4,346.3 1295.4,345.6 1295.5,344.9 1295.6,344.4 1295.7,343.9 1295.8,343.5 1295.8,343.2 1295.9,343.1 1296.0,343.0 1296.1,343.1 1296.2,343.2 1296.2,343.5 1296.3,343.9 1296.4,344.3 1296.5,344.9 1296.6,345.5 1296.6,346.2 1296.7,347.0 1296.8,347.9 1296.9,348.8 1297.0,349.8 1297.1,350.8 1297.1,351.9 1297.2,353.1 1297.3,354.3 1297.4,355.5 1297.5,356.7 1297.5,358.0 1297.6,359.3 1297.7,360.6 1297.8,361.9 1297.9,363.3 1297.9,364.6 1298.0,365.9 1298.1,367.3 1298.2,368.6 1298.3,369.9 1298.4,371.2 1298.4,372.4 1298.5,373.6 1298.6,374.8 1298.7,375.9 1298.8,377.0 1298.8,378.1 1298.9,379.1 1299.0,380.0 1299.1,381.1 1299.2,382.2 1299.3,383.2 1299.4,384.2 1299.5,385.2 1299.6,386.2 1299.7,387.2 1299.8,388.2 1299.9,389.1 1300.0,390.1 1300.1,391.0 1300.2,391.9 1300.3,392.9 1300.4,393.8 1300.5,394.7 1300.6,395.6 1300.7,396.6 1300.8,397.5 1300.9,398.5 1301.0,399.4 1301.1,400.4 1301.2,401.4 1301.3,402.4 1301.4,403.4 1301.5,404.4 1301.6,405.5 1301.7,406.6 1301.8,407.7 1301.9,408.8 1302.0,410.0 1302.1,410.9 1302.1,411.8 1302.2,412.7 1302.3,413.7 1302.4,414.7 1302.4,415.7 1302.5,416.8 1302.6,417.8 1302.6,418.9 1302.7,420.0 1302.8,421.1 1302.9,422.3 1302.9,423.4 1303.0,424.5 1303.1,425.6 1303.1,426.7 1303.2,427.8 1303.3,428.9 1303.4,429.9 1303.4,431.0 1303.5,432.0 1303.6,432.9 1303.6,433.9 1303.7,434.8 1303.8,435.7 1303.9,436.5 1303.9,437.3 1304.0,438.0 1304.1,439.3 1304.3,440.6 1304.4,441.9 1304.5,443.1 1304.7,444.3 1304.8,445.4 1305.0,446.5 1305.1,447.6 1305.2,448.7 1305.4,449.7 1305.5,450.7 1305.6,451.7 1305.8,452.6 1305.9,453.6 1306.0,454.4 1306.2,455.3 1306.3,456.1 1306.5,457.0 1306.6,457.8 1306.7,458.5 1306.9,459.3 1307.0,460.0 1307.2,461.3 1307.5,462.6 1307.8,463.8 1308.0,465.0 1308.2,466.2 1308.5,467.4 1308.8,468.5 1309.0,469.5 1309.2,470.5 1309.5,471.5 1309.8,472.4 1310.0,473.3 1310.2,474.0 1310.5,474.8 1310.8,475.4 1311.0,476.0 1311.6,477.2 1312.1,478.5 1312.7,479.6 1313.3,480.6 1313.9,481.3 1314.4,481.8 1315.0,482.0 1315.1,481.9 1315.2,481.7 1315.3,481.3 1315.4,480.9 1315.5,480.2 1315.5,479.5 1315.6,478.7 1315.7,477.8 1315.8,476.8 1315.9,475.7 1316.0,474.6 1316.1,473.3 1316.2,472.1 1316.3,470.8 1316.4,469.5 1316.5,468.1 1316.5,466.7 1316.6,465.4 1316.7,464.0 1316.8,462.6 1316.9,461.3 1317.0,460.0 1317.1,459.2 1317.1,458.3 1317.2,457.4 1317.2,456.3 1317.3,455.2 1317.3,454.0 1317.4,452.8 1317.4,451.5 1317.5,450.2 1317.5,448.9 1317.6,447.5 1317.6,446.2 1317.7,444.8 1317.7,443.5 1317.8,442.2 1317.8,440.9 1317.9,439.6 1317.9,438.4 1318.0,437.3 1318.0,436.2 1318.1,435.2 1318.1,434.3 1318.2,433.5 1318.2,432.8 1318.3,432.2 1318.3,431.7 1318.4,431.3 1318.4,431.1 1318.5,431.0 1318.5,431.1 1318.6,431.2 1318.6,431.5 1318.7,431.9 1318.7,432.3 1318.7,432.9 1318.8,433.6 1318.8,434.3 1318.8,435.1 1318.9,436.0 1318.9,436.9 1319.0,437.9 1319.0,439.0 1319.0,440.1 1319.1,441.2 1319.1,442.4 1319.2,443.7 1319.2,444.9 1319.2,446.2 1319.3,447.5 1319.3,448.9 1319.3,450.2 1319.4,451.6 1319.4,452.9 1319.5,454.3 1319.5,455.6 1319.5,456.9 1319.6,458.2 1319.6,459.5 1319.7,460.8 1319.7,462.0 1319.7,463.2 1319.8,464.3 1319.8,465.4 1319.8,466.5 1319.9,467.4 1319.9,468.4 1320.0,469.2 1320.0,470.0 1320.1,471.3 1320.1,472.5 1320.2,473.8 1320.3,475.0 1320.3,476.2 1320.4,477.4 1320.5,478.5 1320.5,479.7 1320.6,480.8 1320.7,481.9 1320.7,483.0 1320.8,484.0 1320.9,485.1 1320.9,486.1 1321.0,487.1 1321.1,488.1 1321.1,489.0 1321.2,490.0 1321.3,490.9 1321.3,491.8 1321.4,492.7 1321.5,493.6 1321.5,494.5 1321.6,495.3 1321.7,496.1 1321.7,496.9 1321.8,497.7 1321.9,498.5 1321.9,499.3 1322.0,500.0 1322.1,501.3 1322.2,502.6 1322.4,503.8 1322.5,505.0 1322.6,506.2 1322.7,507.3 1322.8,508.4 1323.0,509.5 1323.1,510.6 1323.2,511.6 1323.3,512.7 1323.4,513.7 1323.6,514.6 1323.7,515.6 1323.8,516.5 1323.9,517.5 1324.0,518.4 1324.2,519.2 1324.3,520.1 1324.4,521.0 1324.5,521.8 1324.6,522.6 1324.8,523.4 1324.9,524.2 1325.0,525.0 1325.2,526.2 1325.4,527.3 1325.6,528.5 1325.8,529.5 1325.9,530.6 1326.1,531.6 1326.3,532.6 1326.5,533.5 1326.7,534.5 1326.9,535.4 1327.1,536.4 1327.2,537.3 1327.4,538.2 1327.6,539.1 1327.8,540.1 1328.0,541.0 1328.2,542.1 1328.4,543.1 1328.6,544.2 1328.8,545.2 1329.0,546.2 1329.2,547.3 1329.5,548.3 1329.7,549.3 1329.9,550.3 1330.1,551.3 1330.3,552.3 1330.5,553.4 1330.7,554.4 1330.9,555.3 1331.1,556.3 1331.3,557.3 1331.5,558.3 1331.8,559.3 1332.0,560.2 1332.2,561.2 1332.4,562.2 1332.6,563.1 1332.8,564.1 1333.0,565.0"/>
<path stroke="#f00" stroke-dasharray="10.5 17.5" stroke-dashoffset="7.47" d="M1332.8,564.1 1333.0,565.0 1333.2,566.1 1333.5,567.2 1333.8,568.3 1334.0,569.4 1334.2,570.5 1334.5,571.6 1334.8,572.6 1335.0,573.6 1335.3,574.8 1335.6,575.9 1335.9,576.9 1336.1,578.0 1336.4,579.1 1336.7,580.1 1337.0,581.1 1337.3,582.2 1337.6,583.2 1337.9,584.3 1338.1,585.3 1338.4,586.3 1338.7,587.3 1339.0,588.4 1339.3,589.4 1339.6,590.4 1339.9,591.4 1340.1,592.4 1340.4,593.3 1340.7,594.3 1341.0,595.3 1341.3,596.4 1341.7,597.5 1342.0,598.7 1342.3,599.8 1342.7,600.9 1343.0,602.0 1343.3,603.0 1343.7,604.1 1344.0,605.2 1344.3,606.3 1344.7,607.3 1345.0,608.4 1345.3,609.4 1345.7,610.4 1346.0,611.5 1346.3,612.5 1346.7,613.5 1347.0,614.5 1347.3,615.5 1347.7,616.5 1348.0,617.5 1348.3,618.5 1348.7,619.5 1349.0,620.4 1349.3,621.4 1349.7,622.4 1350.0,623.3 1350.3,624.2 1350.7,625.2 1351.0,626.1 1351.4,627.2 1351.8,628.3 1352.2,629.4 1352.6,630.5 1353.0,631.6 1353.4,632.7 1353.8,633.7 1354.2,634.8 1354.6,635.8 1355.0,636.9 1355.4,637.9 1355.8,638.9 1356.2,640.0 1356.6,641.0 1357.0,642.0 1357.4,643.0 1357.8,643.9 1358.2,644.9 1358.6,645.9 1359.0,646.9 1359.4,647.8 1359.8,648.8 1360.2,649.7 1360.6,650.7 1361.0,651.6 1361.4,652.5 1361.8,653.5 1362.2,654.4 1362.6,655.3 1363.0,656.2 1363.5,657.3 1364.0,658.4 1364.5,659.5 1365.0,660.6 1365.5,661.7 1366.0,662.8 1366.5,663.9 1367.0,664.9 1367.5,666.0 1368.0,667.1 1368.5,668.1 1369.0,669.1 1369.5,670.2 1370.0,671.2 1370.5,672.2 1371.0,673.2 1371.5,674.2 1372.0,675.2 1372.5,676.2 1373.0,677.2 1373.5,678.2 1374.0,679.1 1374.5,680.1 1375.0,681.1 1375.5,682.0 1376.0,683.0 1376.5,683.9 1377.0,684.9 1377.5,685.8 1378.0,686.7 1378.5,687.6 1379.0,688.6 1379.5,689.5 1380.0,690.4 1380.5,691.3 1381.0,692.2 1381.5,693.1 1382.0,693.9 1382.5,694.8 1383.0,695.7 1383.7,696.8 1384.3,698.0 1385.0,699.1 1385.7,700.3 1386.3,701.4 1387.0,702.5 1387.7,703.6 1388.3,704.7 1389.0,705.8 1389.7,706.8 1390.3,707.9 1391.0,709.0 1391.7,710.0 1392.3,711.1 1393.0,712.1 1393.7,713.1 1394.3,714.2 1395.0,715.2 1395.7,716.2 1396.3,717.2 1397.0,718.2 1397.7,719.1 1398.3,720.1 1399.0,721.1 1399.7,722.1 1400.3,723.0 1401.0,724.0 1401.7,724.9 1402.3,725.8 1403.0,726.8 1403.7,727.7 1404.3,728.6 1405.0,729.5 1405.7,730.4 1406.3,731.3 1407.0,732.2 1407.7,733.1 1408.3,734.0 1409.0,734.8 1409.7,735.7 1410.3,736.6 1411.0,737.4 1411.7,738.3 1412.3,739.1 1413.0,739.9 1413.7,740.8 1414.3,741.6 1415.0,742.4 1415.7,743.2 1416.3,744.1 1417.0,744.9 1417.7,745.7 1418.3,746.5 1419.0,747.3 1419.7,748.1 1420.3,748.8 1421.0,749.6 1421.7,750.4 1422.3,751.2 1423.0,751.9 1423.7,752.7 1424.3,753.5 1425.0,754.2 1426.0,755.3 1427.0,756.4 1428.0,757.5 1429.0,758.6 1430.0,759.7 1431.0,760.7 1432.0,761.8 1433.0,762.8 1434.0,763.9 1435.0,764.9 1436.0,765.9 1437.0,766.9 1438.0,767.9 1439.0,768.9 1440.0,769.8 1441.0,770.8 1442.0,771.7 1443.0,772.7 1444.0,773.6 1445.0,774.5 1446.0,775.4 1447.0,776.3 1448.0,777.2 1449.0,778.1 1450.0,779.0 1451.0,779.8 1452.0,780.7 1453.0,781.5 1454.0,782.3 1455.0,783.2 1456.0,784.0 1457.0,784.8 1458.0,785.6 1459.0,786.3 1460.0,787.1 1461.0,787.9 1462.0,788.6 1463.0,789.4 1464.0,790.1 1465.0,790.8 1466.0,791.6 1467.0,792.3 1468.0,793.0 1469.0,793.7 1470.0,794.4 1471.0,795.0 1472.0,795.7 1473.0,796.3 1474.0,797.0 1475.0,797.6 1476.0,798.3 1477.0,798.9 1478.0,799.5 1479.0,800.1 1480.0,800.7 1481.0,801.3 1482.0,801.9 1483.0,802.4 1484.0,803.0 1485.0,803.6 1486.0,804.1 1487.0,804.6 1488.0,805.2 1489.0,805.7 1490.0,806.2 1491.0,806.7 1492.0,807.2 1493.0,807.7 1494.0,808.2 1495.0,808.7 1496.0,809.1 1497.0,809.6 1498.0,810.0 1499.0,810.5 1500.0,810.9 1501.0,811.4 1502.0,811.8 1503.0,812.2 1504.0,812.6 1505.0,813.0 1506.0,813.4 1507.0,813.8 1508.0,814.2 1509.0,814.5 1510.0,814.9 1511.0,815.3 1512.0,815.6 1513.0,816.0 1514.0,816.3 1515.0,816.6 1516.0,817.0 1517.0,817.3 1518.0,817.6 1519.0,817.9 1520.0,818.2"/>
<path stroke="#f00" stroke-dasharray="10.5 17.5" stroke-dashoffset="2.34" d="M1519.0,817.9 1520.0,818.2 1521.0,818.5 1522.0,818.8 1523.0,819.0 1524.0,819.3 1525.0,819.6 1526.0,819.8 1527.0,820.1 1528.0,820.3 1529.0,820.6 1530.0,820.8 1531.0,821.0 1532.0,821.3 1533.0,821.5 1534.0,821.7 1535.0,821.9 1536.0,822.1 1537.0,822.3 1538.0,822.5 1539.0,822.6 1540.0,822.8 1541.0,823.0 1542.0,823.2 1543.0,823.3 1544.0,823.5 1545.0,823.6 1546.0,823.8 1547.0,823.9 1548.0,824.0 1549.0,824.2 1550.0,824.3 1551.0,824.4 1552.0,824.5 1553.0,824.6 1554.0,824.7 1555.0,824.8 1556.0,824.9 1557.0,825.0 1558.0,825.1 1559.0,825.1 1560.0,825.2 1561.0,825.3 1562.0,825.3 1563.0,825.4 1564.0,825.4 1565.0,825.4 1566.0,825.5 1567.0,825.5 1568.0,825.5 1569.0,825.5 1570.0,825.5 1571.0,825.5 1572.0,825.5 1573.0,825.5 1574.0,825.4 1575.0,825.4 1576.0,825.3 1577.0,825.3 1578.0,825.2 1579.0,825.2 1580.0,825.1 1581.0,825.0 1582.0,824.9 1583.0,824.8 1584.0,824.7 1585.0,824.6 1586.0,824.4 1587.0,824.3 1588.0,824.1 1589.0,824.0 1590.0,823.8 1591.0,823.6 1592.0,823.5 1593.0,823.3 1594.0,823.0 1595.0,822.8 1596.0,822.6 1597.0,822.4 1598.0,822.1 1599.0,821.9 1600.0,821.6 1601.0,821.3 1602.0,821.0 1603.0,820.7 1604.0,820.4 1605.0,820.1 1606.0,819.7 1607.0,819.4 1608.0,819.0 1609.0,818.7 1610.0,818.3 1611.0,817.9 1612.0,817.5 1613.0,817.1 1614.0,816.6 1615.0,816.2 1616.0,815.7 1617.0,815.2 1618.0,814.8 1619.0,814.3 1620.0,813.8 1621.0,813.2 1622.0,812.7 1623.0,812.2 1624.0,811.6 1625.0,811.0 1626.0,810.4 1627.0,809.8 1628.0,809.2 1629.0,808.6 1630.0,807.9 1631.0,807.3 1632.0,806.6 1633.0,805.9 1634.0,805.2 1635.0,804.4 1636.0,803.7 1637.0,802.9 1638.0,802.1 1639.0,801.2 1640.0,800.3 1641.0,799.4 1642.0,798.5 1643.0,797.5 1644.0,796.5 1645.0,795.4 1646.0,794.3 1647.0,793.2 1647.7,792.4 1648.3,791.6 1649.0,790.8 1649.7,789.9 1650.3,789.1 1651.0,788.2 1651.7,787.3 1652.3,786.3 1653.0,785.4 1653.7,784.4 1654.3,783.4 1655.0,782.4 1655.7,781.3 1656.3,780.3 1657.0,779.1 1657.5,778.3 1658.0,777.4 1658.5,776.6 1659.0,775.7 1659.5,774.8 1660.0,773.8 1660.5,772.9 1661.0,772.0 1661.5,771.0 1662.0,770.0 1662.5,769.0 1663.0,768.0 1663.5,766.9 1664.0,765.9 1664.5,764.8 1665.0,763.7 1665.5,762.6 1666.0,761.5 1666.5,760.3 1667.0,759.2 1667.4,758.2 1667.8,757.3 1668.2,756.3 1668.6,755.3 1669.0,754.3 1669.4,753.3 1669.8,752.3 1670.2,751.2 1670.6,750.2 1671.0,749.1 1671.4,748.1 1671.8,747.0 1672.2,745.9 1672.6,744.8 1673.0,743.6 1673.3,742.7 1673.7,741.8 1674.0,740.8 1674.3,739.8 1674.7,738.8 1675.0,737.7 1675.2,736.9 1675.5,736.0 1675.8,735.1 1676.0,734.2 1676.2,733.2 1676.5,732.1 1676.8,731.0 1677.0,729.8 1677.2,729.0 1677.3,728.2 1677.5,727.3 1677.6,726.4 1677.8,725.4 1677.9,724.4 1678.1,723.4 1678.2,722.3 1678.4,721.2 1678.5,720.1 1678.7,719.0 1678.8,717.8 1679.0,716.7 1679.1,715.8 1679.2,714.8 1679.4,713.8 1679.5,712.8 1679.6,711.7 1679.7,710.6 1679.8,709.5 1679.9,708.4 1680.1,707.3 1680.2,706.2 1680.3,705.1 1680.4,704.0 1680.5,702.9 1680.6,701.9 1680.8,700.9 1680.9,700.0 1681.0,699.1 1681.2,697.9 1681.3,696.7 1681.5,695.6 1681.7,694.4 1681.8,693.3 1682.0,692.3 1682.2,691.2 1682.3,690.3 1682.5,689.3 1682.7,688.4 1682.8,687.5 1683.0,686.6 1683.2,685.5 1683.5,684.5 1683.8,683.7 1684.0,682.9 1684.2,682.1 1684.5,681.0 1684.8,679.8 1685.0,678.1 1685.0,677.8 1685.1,677.4 1685.1,677.0 1685.1,676.4 1685.2,675.8 1685.2,675.1 1685.2,674.4 1685.3,673.6 1685.3,672.7 1685.3,671.8 1685.4,670.8 1685.4,669.7 1685.4,668.6 1685.5,667.5 1685.5,666.3 1685.6,665.1 1685.6,663.9 1685.6,662.6 1685.7,661.2 1685.7,659.9 1685.7,658.5 1685.8,657.1 1685.8,655.7 1685.8,654.3 1685.9,652.9 1685.9,651.4 1685.9,650.0 1686.0,648.6 1686.0,647.1 1686.0,645.7 1686.1,644.2 1686.1,642.8 1686.1,641.4 1686.2,640.0 1686.2,638.6 1686.2,637.3 1686.3,636.0 1686.3,634.7 1686.3,633.4 1686.4,632.2 1686.4,631.0 1686.4,629.9 1686.5,628.8 1686.5,627.7 1686.6,626.7 1686.6,625.8 1686.6,624.9 1686.7,624.1 1686.7,623.3 1686.7,622.6 1686.8,622.0 1686.8,621.4 1686.8,620.9 1686.9,620.5 1686.9,620.2 1686.9,620.0 1687.0,619.9 1687.0,619.8 1687.1,620.0 1687.1,620.3 1687.2,620.9 1687.3,621.7 1687.3,622.7 1687.4,623.9 1687.5,625.1 1687.5,626.5 1687.6,627.9 1687.7,629.4 1687.8,630.9 1687.8,632.4 1687.9,633.8 1688.0,635.3 1688.0,636.6 1688.1,637.9 1688.2,639.0 1688.2,640.0 1688.3,640.8 1688.4,641.4 1688.4,641.8 1688.5,641.9 1689.3,641.6 1690.2,640.9 1691.0,640.0 1691.3,639.6 1691.6,639.0 1691.9,638.2 1692.2,637.4 1692.5,636.4 1692.8,635.3 1693.1,634.1 1693.4,632.8 1693.7,631.5 1694.0,630.0 1694.1,629.5 1694.2,628.9 1694.3,628.3 1694.4,627.6 1694.5,626.8 1694.6,626.1 1694.7,625.3 1694.8,624.4 1694.9,623.5 1695.0,622.6 1695.1,621.6 1695.2,620.6 1695.3,619.6 1695.4,618.6 1695.5,617.5 1695.6,616.4 1695.7,615.3 1695.8,614.1 1695.9,613.0 1696.0,611.8 1696.1,610.7 1696.2,609.5 1696.3,608.3 1696.4,607.1 1696.5,605.9 1696.6,604.7 1696.7,603.5 1696.8,602.3 1696.9,601.2 1697.0,600.0 1697.1,599.1 1697.1,598.1 1697.2,597.1 1697.3,596.0 1697.4,594.8 1697.4,593.6 1697.5,592.4 1697.6,591.1 1697.7,589.8 1697.7,588.4 1697.8,587.1 1697.9,585.8 1698.0,584.4 1698.0,583.1 1698.1,581.8 1698.2,580.5 1698.2,579.3 1698.3,578.1 1698.4,577.0 1698.5,575.9 1698.5,574.9 1698.6,573.9 1698.7,573.1 1698.8,572.3 1698.8,571.6 1698.9,571.1 1699.0,570.6 1699.1,570.3 1699.1,570.1 1699.2,570.0 1699.2,570.0 1699.3,570.2 1699.3,570.4 1699.4,570.7 1699.4,571.1 1699.4,571.5 1699.5,572.1 1699.5,572.7 1699.6,573.4 1699.6,574.1 1699.6,574.9 1699.7,575.7 1699.7,576.6 1699.8,577.6 1699.8,578.6 1699.8,579.7 1699.9,580.8 1699.9,581.9 1700.0,583.0 1700.0,584.2"/>
<path stroke="#f00" stroke-dasharray="10.5 17.5" stroke-dashoffset="1.67" d="M1700.0,583.0 1700.0,584.2 1700.0,585.5 1700.1,586.7 1700.1,588.0 1700.2,589.3 1700.2,590.6 1700.2,591.9 1700.3,593.3 1700.3,594.6 1700.4,595.9 1700.4,597.3 1700.4,598.6 1700.5,599.9 1700.5,601.3 1700.6,602.6 1700.6,603.9 1700.6,605.2 1700.7,606.4 1700.7,607.6 1700.8,608.8 1700.8,610.0 1700.8,610.9 1700.9,611.8 1700.9,612.7 1700.9,613.7 1701.0,614.7 1701.0,615.7 1701.0,616.7 1701.0,617.7 1701.1,618.8 1701.1,619.8 1701.1,620.9 1701.2,622.0 1701.2,623.1 1701.2,624.2 1701.2,625.3 1701.3,626.5 1701.3,627.6 1701.3,628.7 1701.4,629.8 1701.4,630.9 1701.4,632.1 1701.5,633.2 1701.5,634.3 1701.5,635.3 1701.5,636.4 1701.6,637.5 1701.6,638.5 1701.6,639.6 1701.7,640.6 1701.7,641.6 1701.7,642.5 1701.8,643.5 1701.8,644.4 1701.8,645.3 1701.8,646.2 1701.9,647.0 1701.9,647.8 1701.9,648.6 1702.0,649.3 1702.0,650.0 1702.1,651.3 1702.1,652.6 1702.2,653.9 1702.2,655.1 1702.3,656.3 1702.4,657.5 1702.4,658.6 1702.5,659.7 1702.5,660.8 1702.6,661.8 1702.7,662.9 1702.7,663.9 1702.8,664.8 1702.8,665.8 1702.9,666.7 1703.0,667.6 1703.0,668.5 1703.1,669.4 1703.1,670.2 1703.2,671.1 1703.3,671.9 1703.3,672.7 1703.4,673.5 1703.4,674.2 1703.5,675.0 1703.6,676.3 1703.7,677.6 1703.8,678.8 1703.9,680.0 1704.0,681.2 1704.1,682.4 1704.2,683.5 1704.3,684.6 1704.4,685.7 1704.5,686.8 1704.6,687.8 1704.7,688.8 1704.8,689.9 1705.0,690.8 1705.1,691.8 1705.2,692.8 1705.3,693.7 1705.4,694.6 1705.5,695.5 1705.6,696.4 1705.7,697.3 1705.8,698.1 1705.9,699.0 1706.0,699.8 1706.1,700.6 1706.2,701.4 1706.3,702.2 1706.5,703.5 1706.6,704.7 1706.8,705.9 1707.0,707.1 1707.1,708.3 1707.3,709.4 1707.5,710.6 1707.6,711.7 1707.8,712.8 1708.0,713.9 1708.1,714.9 1708.3,716.0 1708.5,717.0 1708.7,718.0 1708.8,719.0 1709.0,720.0 1709.2,720.9 1709.3,721.9 1709.5,722.8 1709.7,723.7 1709.8,724.6 1710.0,725.5 1710.2,726.4 1710.3,727.3 1710.5,728.1 1710.7,729.0 1710.8,729.8 1711.0,730.6 1711.2,731.8 1711.5,733.0 1711.8,734.1 1712.0,735.2 1712.2,736.3 1712.5,737.3 1712.8,738.3 1713.0,739.3 1713.3,740.4 1713.6,741.5 1713.9,742.5 1714.1,743.5 1714.4,744.5 1714.7,745.5 1715.0,746.4 1715.3,747.5 1715.7,748.6 1716.0,749.6 1716.3,750.6 1716.7,751.6 1717.0,752.6 1717.3,753.6 1717.7,754.6 1718.0,755.5 1718.3,756.5 1718.7,757.4 1719.0,758.4 1719.4,759.5 1719.8,760.7 1720.2,761.8 1720.6,762.9 1721.0,764.0 1721.4,765.1 1721.8,766.2 1722.2,767.3 1722.6,768.4 1723.0,769.5 1723.4,770.6 1723.8,771.6 1724.2,772.7 1724.6,773.7 1725.0,774.7 1725.4,775.7 1725.8,776.7 1726.2,777.7 1726.6,778.7 1727.0,779.6 1727.5,780.8 1728.0,781.9 1728.5,783.0 1729.0,784.1 1729.5,785.1 1730.0,786.1 1730.5,787.1 1731.0,788.1 1731.5,789.1 1732.0,790.0 1732.5,790.9 1733.0,791.8 1733.7,792.9 1734.3,794.1 1735.0,795.2 1735.7,796.2 1736.3,797.3 1737.0,798.3 1737.7,799.3 1738.3,800.3 1739.0,801.3 1739.7,802.3 1740.3,803.3 1741.0,804.2 1741.7,805.2 1742.3,806.2 1743.0,807.1 1743.7,808.0 1744.3,808.9 1745.0,809.9 1745.7,810.8 1746.3,811.7 1747.0,812.5 1747.7,813.4 1748.3,814.3 1749.0,815.2 1749.7,816.0 1750.3,816.9 1751.0,817.7 1751.7,818.5 1752.3,819.3 1753.0,820.2 1753.7,821.0 1754.3,821.8 1755.0,822.5 1755.7,823.3 1756.3,824.1 1757.0,824.9 1757.7,825.6 1758.3,826.4 1759.0,827.1 1760.0,828.2 1761.0,829.3 1762.0,830.3 1763.0,831.4 1764.0,832.4 1765.0,833.4 1766.0,834.4 1767.0,835.4 1768.0,836.4 1769.0,837.3 1770.0,838.2 1771.0,839.1 1772.0,840.0 1773.0,840.9 1774.0,841.8 1775.0,842.6 1776.0,843.5 1777.0,844.3 1778.0,845.1 1779.0,845.9 1780.0,846.7 1781.0,847.4 1782.0,848.2 1783.0,848.9 1784.0,849.6 1785.0,850.3 1786.0,851.0 1787.0,851.7 1788.0,852.4 1789.0,853.0 1790.0,853.6 1791.0,854.3 1792.0,854.9 1793.0,855.5 1794.0,856.1 1795.0,856.6 1796.0,857.2 1797.0,857.7 1798.0,858.3 1799.0,858.8 1800.0,859.3 1801.0,859.8 1802.0,860.3 1803.0,860.8 1804.0,861.2 1805.0,861.7 1806.0,862.1 1807.0,862.6 1808.0,863.0 1809.0,863.4 1810.0,863.8 1811.0,864.2 1812.0,864.6 1813.0,864.9 1814.0,865.3 1815.0,865.6 1816.0,866.0 1817.0,866.3 1818.0,866.6 1819.0,866.9 1820.0,867.2 1821.0,867.5 1822.0,867.8 1823.0,868.1 1824.0,868.4 1825.0,868.6 1826.0,868.9 1827.0,869.1 1828.0,869.4 1829.0,869.6 1830.0,869.8 1831.0,870.0 1832.0,870.2 1833.0,870.4 1834.0,870.6 1835.0,870.8 1836.0,871.0 1837.0,871.1 1838.0,871.3 1839.0,871.4 1840.0,871.6 1841.0,871.7 1842.0,871.9 1843.0,872.0 1844.0,872.1 1845.0,872.3 1846.0,872.4 1847.0,872.5 1848.0,872.6 1849.0,872.7 1850.0,872.8 1851.0,872.9 1852.0,873.0 1853.0,873.0 1854.0,873.1 1855.0,873.2 1856.0,873.2 1857.0,873.3 1858.0,873.4 1859.0,873.4 1860.0,873.5"/>
<path stroke="#f00" stroke-dasharray="10.5 17.5" stroke-dashoffset="27.48" d="M1859.0,873.4 1860.0,873.5 1861.0,873.5 1862.0,873.6 1863.0,873.6 1864.0,873.7 1865.0,873.7 1866.0,873.7 1867.0,873.8 1868.0,873.8 1869.0,873.8 1870.0,873.8 1871.0,873.8 1872.0,873.8 1873.0,873.8 1874.0,873.8 1875.0,873.8 1876.0,873.8 1877.0,873.8 1878.0,873.8 1879.0,873.8 1880.0,873.7 1881.0,873.7 1882.0,873.7 1883.0,873.6 1884.0,873.6 1885.0,873.5 1886.0,873.5 1887.0,873.4 1888.0,873.4 1889.0,873.3 1890.0,873.2 1891.0,873.1 1892.0,873.1 1893.0,873.0 1894.0,872.9 1895.0,872.8 1896.0,872.7 1897.0,872.6 1898.0,872.4 1899.0,872.3 1900.0,872.2 1901.0,872.1 1902.0,871.9 1903.0,871.8 1904.0,871.6 1905.0,871.5 1906.0,871.3 1907.0,871.2 1908.0,871.0 1909.0,870.8 1910.0,870.6 1911.0,870.4 1912.0,870.2 1913.0,870.0 1914.0,869.8 1915.0,869.6 1916.0,869.4 1917.0,869.1 1918.0,868.9 1919.0,868.7 1920.0,868.4 1921.0,868.2 1922.0,867.9 1923.0,867.6 1924.0,867.3 1925.0,867.1 1926.0,866.8 1927.0,866.5 1928.0,866.2 1929.0,865.9 1930.0,865.5 1931.0,865.2 1932.0,864.9 1933.0,864.6 1934.0,864.2 1935.0,863.8 1936.0,863.5 1937.0,863.1 1938.0,862.7 1939.0,862.4 1940.0,862.0 1941.0,861.6 1942.0,861.2 1943.0,860.7 1944.0,860.3 1945.0,859.9 1946.0,859.4 1947.0,859.0 1948.0,858.5 1949.0,858.1 1950.0,857.6 1951.0,857.1 1952.0,856.6 1953.0,856.1 1954.0,855.6 1955.0,855.1 1956.0,854.6 1957.0,854.1 1958.0,853.5 1959.0,853.0 1960.0,852.4 1961.0,851.9 1962.0,851.3 1963.0,850.7 1964.0,850.1 1965.0,849.5 1966.0,848.9 1967.0,848.3 1968.0,847.6 1969.0,847.0 1970.0,846.4 1971.0,845.7 1972.0,845.0 1973.0,844.4 1974.0,843.7 1975.0,843.0 1976.0,842.3 1977.0,841.6 1978.0,840.8 1979.0,840.1 1980.0,839.4 1981.0,838.6 1982.0,837.9 1983.0,837.1 1984.0,836.3 1985.0,835.5 1986.0,834.7 1987.0,833.9 1988.0,833.1 1989.0,832.2 1990.0,831.4 1991.0,830.5 1992.0,829.7 1993.0,828.8 1994.0,827.9 1995.0,827.0 1996.0,826.1 1997.0,825.2 1998.0,824.3 1999.0,823.3 2000.0,822.4 2001.0,821.4 2002.0,820.4 2003.0,819.5 2004.0,818.5 2005.0,817.5 2006.0,816.4 2007.0,815.4 2008.0,814.4 2009.0,813.3 2010.0,812.3 2011.0,811.2 2012.0,810.1 2013.0,809.0 2014.0,807.9 2015.0,806.8 2015.7,806.0 2016.3,805.3 2017.0,804.5 2017.7,803.7 2018.3,803.0 2019.0,802.2 2019.7,801.4 2020.3,800.6 2021.0,799.8 2021.7,799.0 2022.3,798.2 2023.0,797.4 2023.7,796.6 2024.3,795.8 2025.0,794.9 2025.7,794.1 2026.3,793.3 2027.0,792.4 2027.7,791.6 2028.3,790.7 2029.0,789.9 2029.7,789.0 2030.3,788.1 2031.0,787.3 2031.7,786.4 2032.3,785.5 2033.0,784.6 2033.7,783.7 2034.3,782.8 2035.0,781.9 2035.7,781.0 2036.3,780.0 2037.0,779.1 2037.7,778.2 2038.3,777.2 2039.0,776.3 2039.7,775.3 2040.3,774.4 2041.0,773.4 2041.7,772.5 2042.3,771.5 2043.0,770.5 2043.7,769.5 2044.3,768.5 2045.0,767.5 2045.7,766.5 2046.3,765.5 2047.0,764.5 2047.7,763.5 2048.3,762.5 2049.0,761.4 2049.7,760.4 2050.3,759.3 2051.0,758.3 2051.7,757.2 2052.3,756.2 2053.0,755.1 2053.7,754.0 2054.3,752.9 2055.0,751.9 2055.7,750.8 2056.3,749.7 2057.0,748.6 2057.7,747.5 2058.3,746.3 2059.0,745.2 2059.7,744.1 2060.3,742.9 2061.0,741.8 2061.5,740.9 2062.0,740.1 2062.5,739.2 2063.0,738.3 2063.5,737.5 2064.0,736.6 2064.5,735.7 2065.0,734.8 2065.5,733.9 2066.0,733.0"/>
<path stroke="#00f" stroke-dasharray="32.8 19.6 5.4 19.8" stroke-dashoffset="0.00" d="M385.0,353.3 385.8,352.5 386.5,351.8 387.2,351.0 388.0,350.0 388.4,349.3 388.9,348.4 389.3,347.4 389.7,346.3 390.1,345.2 390.6,344.1 391.0,343.0 391.4,342.0 391.8,341.1 392.2,340.1 392.6,339.1 392.9,338.1 393.3,337.1 393.7,336.1 394.1,335.0 394.5,334.0 394.9,333.0 395.2,332.1 395.6,331.1 395.9,330.2 396.2,329.2 396.6,328.2 397.0,327.1 397.3,326.1 397.7,325.1 398.0,324.0 398.3,323.1 398.6,322.2 398.9,321.2 399.2,320.3 399.5,319.3 399.8,318.3 400.1,317.3 400.4,316.3 400.7,315.2 401.0,314.0 401.2,313.2 401.4,312.3 401.6,311.4 401.8,310.5 402.0,309.6 402.2,308.6 402.5,307.6 402.7,306.6 402.9,305.5 403.1,304.4 403.3,303.2 403.5,302.0 403.6,301.2 403.8,300.3 403.9,299.5 404.0,298.6 404.2,297.6 404.3,296.6 404.4,295.6 404.6,294.6 404.7,293.6 404.8,292.5 405.0,291.4 405.1,290.3 405.2,289.2 405.4,288.1 405.5,287.0 405.6,286.1 405.7,285.0 405.8,283.9 405.9,282.7 406.0,281.4 406.1,280.1 406.2,278.8 406.3,277.5 406.4,276.2 406.5,274.8 406.7,273.6 406.8,272.3 406.9,271.2 407.0,270.1 407.1,269.1 407.2,268.2 407.3,267.5 407.4,266.8 407.5,266.4 407.6,266.1 407.7,266.0 407.8,266.1 407.8,266.3 407.9,266.7 408.0,267.3 408.0,267.9 408.1,268.7 408.2,269.6 408.3,270.6 408.3,271.6 408.4,272.8 408.5,274.0 408.5,275.2 408.6,276.5 408.7,277.8 408.7,279.2 408.8,280.5 408.9,281.8 408.9,283.2 409.0,284.5 409.1,285.7 409.2,287.0 409.2,288.1 409.3,289.2 409.4,290.2 409.4,291.2 409.5,292.0 409.6,293.2 409.7,294.4 409.8,295.6 409.9,296.8 410.1,297.9 410.2,299.0 410.3,300.1 410.4,301.2 410.5,302.2 410.6,303.2 410.7,304.2 410.8,305.1 410.9,306.0 411.1,306.9 411.2,307.7 411.3,308.5 411.4,309.3 411.5,310.0 411.7,311.3 411.9,312.6 412.2,313.7 412.4,314.8 412.6,315.9 412.8,316.9 413.0,317.9 413.2,318.8 413.5,319.7 413.7,320.6 413.9,321.5 414.1,322.3 414.3,323.2 414.6,324.1 414.8,325.0 415.0,326.0 415.2,327.1 415.5,328.1 415.7,329.3 415.9,330.4 416.2,331.5 416.4,332.7 416.6,333.8 416.9,334.9 417.1,335.9 417.3,336.9 417.6,337.9 417.8,338.8 418.0,339.6 418.3,340.4 418.5,341.0 419.0,342.3 419.6,343.6 420.1,344.8 420.7,345.9 421.2,347.0 421.8,348.0 422.3,348.9 422.8,349.7 423.4,350.4 423.9,351.0 424.5,351.6 425.0,352.0 426.0,352.7 427.0,353.4 428.0,354.0 429.0,354.6 430.0,355.0 431.0,355.4 432.0,355.7 433.0,355.9 434.0,356.0 434.8,355.9 435.6,355.6 436.3,355.2 437.1,354.6 437.9,353.8 438.7,353.0 439.4,352.1 440.2,351.1 441.0,350.0 441.3,349.5 441.7,348.9 442.0,348.2 442.3,347.5 442.7,346.7 443.0,345.8 443.3,344.8 443.7,343.8 444.0,342.7 444.3,341.5 444.7,340.3 445.0,339.1 445.3,337.8 445.7,336.4 446.0,335.0 446.1,334.3 446.3,333.6 446.4,332.8 446.6,332.0 446.8,331.1 446.9,330.2 447.0,329.2 447.2,328.2 447.4,327.2 447.5,326.1 447.7,325.1 447.8,324.0 447.9,322.8 448.1,321.7 448.2,320.6 448.4,319.5 448.5,318.3 448.7,317.2 448.9,316.1 449.0,315.0 449.1,314.1 449.3,313.1 449.4,312.1 449.5,311.1 449.6,310.1 449.7,309.0 449.9,308.0 450.0,306.9 450.1,305.8 450.2,304.7 450.4,303.7 450.5,302.6 450.6,301.6 450.8,300.5 450.9,299.5 451.0,298.6 451.1,297.6 451.2,296.7 451.4,295.8 451.5,295.0 451.7,293.8 451.9,292.5 452.1,291.1 452.2,289.8 452.4,288.4 452.6,287.1 452.8,285.9 453.0,284.7 453.2,283.5 453.4,282.6 453.6,281.7 453.7,281.0 453.9,280.5 454.1,280.1 454.3,280.0 454.5,280.1 454.8,280.5 455.0,281.2 455.2,282.0 455.4,283.0 455.6,284.1 455.9,285.3 456.1,286.6 456.3,288.0 456.5,289.4 456.8,290.7 457.0,292.0 457.1,292.8 457.3,293.5 457.4,294.4 457.5,295.2 457.7,296.1 457.8,297.1 457.9,298.0 458.0,299.0 458.2,300.0 458.3,301.0 458.4,302.0 458.6,303.1 458.7,304.2 458.8,305.2 459.0,306.3 459.1,307.4 459.2,308.5 459.3,309.6 459.5,310.7 459.6,311.8 459.7,312.9 459.9,313.9 460.0,315.0 460.1,316.0 460.2,317.0 460.4,318.0 460.5,319.1 460.6,320.2 460.7,321.3 460.8,322.4 460.9,323.5 461.1,324.6 461.2,325.7 461.3,326.7 461.4,327.7 461.5,328.7 461.6,329.6 461.8,330.5 461.9,331.3 462.0,332.0 462.2,333.4 462.5,334.8 462.7,336.2 462.9,337.5 463.2,338.9 463.4,340.2 463.6,341.4 463.9,342.6 464.1,343.8 464.4,344.8 464.6,345.8 464.8,346.6 465.1,347.4 465.3,348.0 465.5,348.5 465.8,348.8 466.0,349.0 467.0,349.4 468.0,349.7 469.0,349.9 470.0,350.0 470.7,349.9 471.3,349.5 472.0,349.0 472.7,348.3 473.3,347.5 474.0,346.6 474.7,345.6 475.3,344.6 476.0,343.6 476.7,342.6 477.3,341.8 478.0,341.0 478.7,340.3 479.5,339.7 480.2,339.2 480.9,338.7 481.6,338.2 482.4,337.7 483.1,337.1 483.8,336.3 484.5,335.4 485.3,334.3 486.0,333.0 486.1,332.8 486.2,332.5 486.3,332.1 486.4,331.7 486.5,331.3 486.6,330.8 486.7,330.2 486.8,329.6 487.0,329.0 487.1,328.3 487.2,327.5 487.3,326.7 487.4,325.9 487.5,325.0 487.6,324.0 487.7,323.1 487.8,322.0 487.9,321.0 488.0,319.8 488.1,318.7 488.2,317.5 488.3,316.2 488.4,315.0 488.5,313.6 488.7,312.3 488.8,310.9 488.9,309.4 489.0,308.0 489.1,306.4 489.2,304.9 489.3,303.3 489.4,301.7 489.5,300.0 489.5,299.5 489.6,299.0 489.6,298.4 489.6,297.8 489.6,297.1 489.7,296.3 489.7,295.5 489.7,294.6 489.8,293.7 489.8,292.8 489.8,291.8 489.8,290.8 489.9,289.7 489.9,288.6 489.9,287.5 489.9,286.3 490.0,285.1 490.0,283.9 490.0,282.7 490.1,281.4 490.1,280.1 490.1,278.8 490.1,277.5 490.2,276.1 490.2,274.8 490.2,273.4 490.3,272.0 490.3,270.6 490.3,269.2 490.3,267.8 490.4,266.4 490.4,265.0 490.4,263.6 490.4,262.2 490.5,260.9 490.5,259.5 490.5,258.1 490.6,256.8 490.6,255.4 490.6,254.1 490.6,252.8 490.7,251.5 490.7,250.2 490.7,249.0 490.8,247.8 490.8,246.6 490.8,245.5 490.8,244.3 490.9,243.3 490.9,242.2 490.9,241.2 491.0,240.2 491.0,239.3 491.0,238.4 491.0,237.6 491.1,236.8 491.1,236.1 491.1,235.4 491.1,234.8 491.2,234.2 491.2,233.7 491.2,233.3 491.3,232.9 491.3,232.6 491.3,232.3 491.3,232.1 491.4,232.0 491.4,232.0 491.4,232.0 491.4,232.2 491.5,232.4 491.5,232.6 491.5,233.0 491.5,233.4 491.6,233.9 491.6,234.4 491.6,235.0 491.6,235.7 491.6,236.4 491.7,237.2 491.7,238.0 491.7,238.9 491.7,239.8 491.8,240.7 491.8,241.8 491.8,242.8 491.8,243.9 491.8,245.0 491.9,246.2 491.9,247.4 491.9,248.6 491.9,249.8 492.0,251.1 492.0,252.4 492.0,253.7 492.0,255.0 492.0,256.3 492.1,257.7 492.1,259.0 492.1,260.4 492.1,261.8 492.2,263.1 492.2,264.5 492.2,265.8 492.2,267.2 492.3,268.5 492.3,269.9 492.3,271.2 492.3,272.5 492.3,273.8 492.4,275.1 492.4,276.3 492.4,277.5 492.4,278.7 492.5,279.9 492.5,281.0 492.5,282.1 492.5,283.2 492.5,284.2 492.6,285.2 492.6,286.1 492.6,287.0 492.6,287.8 492.7,288.6 492.7,289.3 492.7,290.0 492.7,291.4 492.8,292.8 492.8,294.1 492.9,295.4 492.9,296.8 493.0,298.1 493.0,299.3 493.1,300.6 493.1,301.8 493.2,303.0 493.2,304.2 493.3,305.4 493.3,306.6 493.4,307.7 493.4,308.8 493.5,309.9 493.5,310.9 493.6,312.0 493.6,313.0 493.7,314.0 493.7,315.0 493.8,315.9 493.8,316.8 493.9,317.7 493.9,318.6 494.0,319.5 494.0,320.3 494.1,321.1 494.1,321.8 494.2,322.6 494.2,323.3 494.3,324.0 494.3,324.6 494.4,325.3 494.4,325.9 494.5,326.5 494.5,327.0 494.6,328.5 494.8,329.8 494.9,331.0 495.1,332.2 495.2,333.3 495.3,334.3 495.5,335.2 495.6,336.1 495.8,337.0 495.9,337.8 496.0,338.6 496.2,339.5 496.3,340.3 496.4,341.2 496.6,342.0 496.7,343.0 496.9,344.0 497.0,345.0 497.1,346.0 497.2,347.0 497.4,348.0 497.5,349.1 497.6,350.3 497.7,351.4 497.8,352.6 497.9,353.7 498.1,354.8 498.2,355.9 498.3,357.0 498.4,358.0 498.5,359.0 498.6,359.9 498.8,360.7 498.9,361.4 499.0,362.0 499.3,363.5 499.7,364.9 500.0,366.3 500.3,367.5 500.7,368.7 501.0,369.8 501.3,370.8 501.7,371.8 502.0,372.7 502.3,373.6 502.7,374.4 503.0,375.2 503.3,376.0 503.7,376.7 504.0,377.5 504.3,378.2 504.7,378.9 505.0,379.7 505.3,380.4 505.7,381.2 506.0,382.0 506.4,383.1 506.9,384.2 507.3,385.3 507.8,386.4 508.2,387.5 508.6,388.6 509.1,389.7 509.5,390.8 509.9,391.8 510.4,392.7 510.8,393.6 511.2,394.5 511.7,395.2 512.1,395.9 512.6,396.5 513.0,397.0 513.9,397.9 514.7,398.7 515.6,399.4 516.4,400.1 517.3,400.6 518.1,400.9 519.0,401.0 519.7,400.9 520.4,400.5 521.1,399.9 521.8,399.1 522.5,398.2 523.2,397.2 523.9,396.1 524.6,395.0 525.3,394.0 526.0,393.0 526.5,392.3 527.1,391.5 527.6,390.7 528.1,389.9 528.7,389.0 529.2,388.1 529.7,387.2 530.3,386.3 530.8,385.4 531.3,384.5 531.9,383.6 532.4,382.6 532.9,381.7 533.5,380.9 534.0,380.0 534.5,379.2 535.1,378.6 535.6,378.0 536.2,377.5 536.7,377.0 537.2,376.4 537.8,375.8 538.3,375.2 538.8,374.3 539.4,373.3 539.9,372.2 540.5,370.7 541.0,369.0 541.0,368.8 541.1,368.4 541.1,367.9 541.2,367.4 541.2,366.7 541.3,365.9 541.3,365.0 541.4,364.0 541.4,363.0 541.5,361.9 541.5,360.7 541.6,359.5 541.6,358.2 541.7,356.9 541.7,355.5 541.8,354.1 541.8,352.7 541.9,351.3 541.9,349.8 542.0,348.4 542.0,346.9 542.1,345.5 542.1,344.0 542.2,342.6 542.2,341.2 542.3,339.9 542.3,338.5 542.4,337.3 542.4,336.1 542.5,334.9 542.5,333.8 542.6,332.8 542.6,331.9 542.7,331.0 542.7,330.3 542.8,329.6 542.8,329.0 542.9,328.6 542.9,328.3 543.0,328.1 543.0,328.0 543.1,328.1 543.1,328.3 543.2,328.7 543.3,329.2 543.4,329.8 543.4,330.5 543.5,331.3 543.6,332.3 543.7,333.3 543.7,334.4 543.8,335.5 543.9,336.7 544.0,338.0 544.0,339.2 544.1,340.6 544.2,341.9 544.3,343.2 544.3,344.6 544.4,345.9 544.5,347.2 544.6,348.5 544.6,349.7 544.7,350.9 544.8,352.0 544.9,353.1 544.9,354.1 545.0,355.0 545.1,356.2 545.2,357.3 545.3,358.5 545.4,359.7 545.5,360.8 545.6,362.0 545.7,363.2 545.8,364.3 545.9,365.5 546.0,366.6 546.1,367.7 546.2,368.9 546.3,370.0 546.4,371.1 546.5,372.1 546.6,373.2 546.7,374.2 546.8,375.2 546.9,376.2 547.0,377.2 547.1,378.1 547.2,379.0 547.3,379.9 547.4,380.7 547.5,381.5 547.6,382.3 547.7,383.0 547.8,383.7 547.9,384.4 548.0,385.0 548.2,386.4 548.5,387.8 548.7,389.1 549.0,390.4 549.2,391.6 549.5,392.7 549.7,393.8 550.0,394.8 550.3,395.8 550.5,396.8 550.8,397.7 551.0,398.6 551.2,399.4 551.5,400.3 551.8,401.1 552.0,401.9 552.2,402.7 552.5,403.5 552.8,404.2 553.0,405.0 553.4,406.1 553.8,407.3 554.1,408.3 554.5,409.4 554.9,410.4 555.2,411.4 555.6,412.4 556.0,413.3 556.4,414.2 556.8,415.1 557.1,416.0 557.5,416.8 557.9,417.6 558.2,418.4 558.6,419.2 559.0,420.0 559.5,421.1 560.1,422.2 560.6,423.2 561.2,424.3 561.7,425.3 562.2,426.3 562.8,427.2 563.3,428.2 563.8,429.0 564.4,429.8 564.9,430.6 565.5,431.3 566.0,432.0 566.8,433.0 567.6,433.9 568.4,434.9 569.2,435.8 570.0,436.7 570.8,437.4 571.6,438.1 572.4,438.6 573.2,438.9 574.0,439.0 574.8,438.9 575.6,438.6 576.4,438.2 577.2,437.7 578.0,437.0 578.8,436.1 579.6,435.2 580.4,434.2 581.2,433.1 582.0,432.0 582.3,431.5 582.6,430.9 582.9,430.2 583.2,429.3 583.5,428.4 583.8,427.4 584.1,426.4 584.4,425.3 584.6,424.1 584.9,423.0 585.2,421.8 585.5,420.6 585.8,419.4 586.1,418.2 586.4,417.1 586.7,416.0 587.0,415.0 587.3,414.0 587.6,413.1 587.9,412.2 588.2,411.3 588.5,410.5 588.8,409.6 589.1,408.7 589.4,407.9 589.6,407.0 589.9,406.1 590.2,405.1 590.5,404.1 590.8,403.0 591.1,401.9 591.4,400.7 591.7,399.4 592.0,398.0 592.1,397.4 592.2,396.6 592.4,395.8 592.5,394.8 592.6,393.8 592.7,392.7 592.8,391.6 593.0,390.4 593.1,389.2 593.2,387.9 593.3,386.5 593.5,385.2 593.6,383.8 593.7,382.5 593.8,381.1 593.9,379.7 594.1,378.4 594.2,377.1 594.3,375.8 594.4,374.5 594.5,373.3 594.7,372.1 594.8,371.0 594.9,370.0 595.0,369.0 595.2,368.1 595.3,367.3 595.4,366.7 595.5,366.1 595.6,365.6 595.8,365.3 595.9,365.1 596.0,365.0 596.1,365.1 596.2,365.3 596.2,365.6 596.3,366.0 596.4,366.5 596.5,367.2 596.6,367.9 596.7,368.7 596.7,369.6 596.8,370.6 596.9,371.6 597.0,372.7 597.1,373.9 597.2,375.1 597.2,376.3 597.3,377.6 597.4,378.9 597.5,380.2 597.6,381.5 597.7,382.9 597.8,384.2 597.8,385.5 597.9,386.8 598.0,388.1 598.1,389.4 598.2,390.6 598.2,391.8 598.3,392.9 598.4,394.0 598.5,395.0 598.6,396.0 598.7,397.1 598.8,398.2 598.8,399.3 598.9,400.4 599.0,401.5 599.1,402.6 599.2,403.7 599.3,404.9 599.4,406.0 599.5,407.1 599.5,408.2 599.6,409.2 599.7,410.3 599.8,411.3 599.9,412.3 600.0,413.2 600.1,414.2 600.2,415.0 600.2,415.8 600.3,416.6 600.4,417.3 600.5,418.0 600.7,419.5 600.9,420.9 601.1,422.3 601.3,423.6 601.5,424.9 601.7,426.1 601.9,427.3 602.1,428.5 602.3,429.6 602.5,430.7 602.8,431.7 603.0,432.7 603.2,433.7 603.4,434.6 603.6,435.4 603.8,436.2 604.0,437.0 604.2,437.7 604.4,438.3 604.6,438.9 604.8,439.5 605.0,440.0 605.6,441.4 606.2,442.6 606.8,443.7 607.4,444.7 608.0,445.6 608.6,446.4 609.2,447.2 609.8,447.9 610.4,448.6 611.0,449.3 611.6,450.0 612.2,450.7 612.8,451.4 613.4,452.2 614.0,453.0 614.6,453.9 615.2,454.9 615.8,456.0 616.4,457.1 617.0,458.3 617.6,459.4 618.2,460.6 618.8,461.7 619.4,462.7 620.0,463.6 620.6,464.4 621.2,465.1 621.8,465.6 622.4,465.9 623.0,466.0 623.2,465.9 623.4,465.8 623.6,465.5 623.8,465.1 624.0,464.6 624.2,464.0 624.3,463.3 624.5,462.6 624.7,461.7 624.9,460.8 625.1,459.8 625.3,458.7 625.5,457.6 625.7,456.5 625.9,455.2 626.1,454.0 626.3,452.7 626.5,451.3 626.7,450.0 626.8,448.6 627.0,447.2 627.2,445.7 627.4,444.3 627.6,442.9 627.8,441.4 628.0,440.0 628.1,439.4 628.2,438.6 628.2,437.9 628.3,437.0 628.4,436.1 628.5,435.2 628.6,434.2 628.7,433.1 628.7,432.0 628.8,430.9 628.9,429.7 629.0,428.5 629.1,427.2 629.1,426.0 629.2,424.7 629.3,423.3 629.4,422.0 629.5,420.7 629.6,419.3 629.6,417.9 629.7,416.6 629.8,415.2 629.9,413.8 630.0,412.5 630.0,411.1 630.1,409.8 630.2,408.5 630.3,407.2 630.4,405.9 630.4,404.7 630.5,403.4 630.6,402.3 630.7,401.1 630.8,400.0 630.9,399.0 630.9,398.0 631.0,397.0 631.1,396.1 631.2,395.3 631.3,394.5 631.3,393.8 631.4,393.2 631.5,392.6 631.6,392.1 631.7,391.7 631.8,391.4 631.8,391.2 631.9,391.0 632.0,391.0 632.1,391.1 632.1,391.2 632.2,391.5 632.3,391.8 632.3,392.3 632.4,392.8 632.4,393.4 632.5,394.1 632.6,394.9 632.6,395.7 632.7,396.6 632.8,397.6 632.8,398.6 632.9,399.7 633.0,400.8 633.0,401.9 633.1,403.1 633.2,404.3 633.2,405.6 633.3,406.9 633.3,408.2 633.4,409.5 633.5,410.8 633.5,412.2 633.6,413.5 633.7,414.8 633.7,416.2 633.8,417.5 633.9,418.8 633.9,420.1 634.0,421.3 634.1,422.6 634.1,423.8 634.2,424.9 634.2,426.0 634.3,427.1 634.4,428.1 634.4,429.1 634.5,430.0 634.6,431.1 634.7,432.3 634.7,433.4 634.8,434.6 634.9,435.7 635.0,436.9 635.1,438.0 635.2,439.2 635.2,440.3 635.3,441.4 635.4,442.6 635.5,443.7 635.6,444.8 635.7,445.9 635.8,447.0 635.8,448.1 635.9,449.2 636.0,450.3 636.1,451.3 636.2,452.4 636.2,453.4 636.3,454.4 636.4,455.4 636.5,456.3 636.6,457.3 636.7,458.2 636.8,459.1 636.8,460.0 636.9,460.8 637.0,461.6 637.1,462.4 637.2,463.2 637.2,464.0 637.3,464.7 637.4,465.4 637.5,466.0 637.7,467.4 637.9,468.7 638.1,469.9 638.2,471.1 638.4,472.2 638.6,473.2 638.8,474.2 639.0,475.1 639.2,476.0 639.4,476.9 639.6,477.8 639.8,478.6 639.9,479.5"/>
<path stroke="#00f" stroke-dasharray="32.8 19.6 5.4 19.8" stroke-dashoffset="71.03" d="M639.9,479.5 640.1,480.3 640.3,481.2 640.5,482.0 640.7,482.9 640.9,483.8 641.1,484.7 641.2,485.7 641.4,486.7 641.6,487.7 641.8,488.8 642.0,490.0 642.1,490.8 642.2,491.7 642.4,492.6 642.5,493.6 642.6,494.6 642.8,495.7 642.9,496.8 643.0,497.9 643.1,499.0 643.2,500.2 643.4,501.4 643.5,502.5 643.6,503.7 643.8,504.9 643.9,506.1 644.0,507.3 644.1,508.5 644.2,509.6 644.4,510.8 644.5,511.9 644.6,513.0 644.8,514.0 644.9,515.0 645.0,516.0 645.1,517.0 645.2,517.9 645.4,518.7 645.5,519.5 645.6,520.2 645.8,520.9 645.9,521.5 646.0,522.0 646.4,523.4 646.8,524.5 647.2,525.5 647.6,526.4 648.0,527.5 648.4,528.6 648.8,529.7 649.2,530.8 649.6,532.0 650.0,533.1 650.4,534.2 650.8,535.3 651.2,536.4 651.6,537.5 652.0,538.5 652.4,539.6 652.8,540.7 653.2,541.7 653.6,542.8 654.0,543.8 654.4,544.9 654.8,545.9 655.2,546.9 655.6,548.0 656.0,549.0 656.4,550.0 656.8,551.0 657.2,552.0 657.6,553.0 658.0,553.9 658.4,554.9 658.8,555.9 659.2,556.9 659.6,557.8 660.0,558.8 660.4,559.7 660.8,560.6 661.2,561.6 661.6,562.5 662.0,563.4 662.5,564.6 663.0,565.7 663.5,566.8 664.0,568.0 664.5,569.1 665.0,570.2 665.5,571.3 666.0,572.3 666.5,573.4 667.0,574.5 667.5,575.5 668.0,576.6 668.5,577.6 669.0,578.6 669.5,579.6 670.0,580.7 670.5,581.7 671.0,582.7 671.5,583.6 672.0,584.6 672.5,585.6 673.0,586.5 673.5,587.5 674.0,588.4 674.5,589.4 675.0,590.3 675.5,591.2 676.0,592.1 676.5,593.0 677.0,593.9 677.5,594.8 678.0,595.7 678.7,596.8 679.3,598.0 680.0,599.1 680.7,600.2 681.3,601.3 682.0,602.4 682.7,603.5 683.3,604.6 684.0,605.6 684.7,606.7 685.3,607.7 686.0,608.7 686.7,609.7 687.3,610.7 688.0,611.7 688.7,612.6 689.3,613.6 690.0,614.5 690.7,615.4 691.3,616.4 692.0,617.3 692.7,618.2 693.3,619.0 694.0,619.9 694.7,620.8 695.3,621.6 696.0,622.4 696.7,623.3 697.3,624.1 698.0,624.9 698.7,625.7 699.3,626.4 700.0,627.2 700.7,628.0 701.3,628.7 702.0,629.4 703.0,630.5 704.0,631.6 705.0,632.6 706.0,633.7 707.0,634.7 708.0,635.6 709.0,636.6 710.0,637.5 711.0,638.5 712.0,639.4 713.0,640.2 714.0,641.1 715.0,641.9 716.0,642.8 717.0,643.6 718.0,644.4 719.0,645.1 720.0,645.9 721.0,646.6 722.0,647.3 723.0,648.0 724.0,648.7 725.0,649.4 726.0,650.1 727.0,650.7 728.0,651.4 729.0,652.0 730.0,652.6 731.0,653.2 732.0,653.8 733.0,654.3 734.0,654.9 735.0,655.4 736.0,656.0 737.0,656.5 738.0,657.0 739.0,657.5 740.0,658.0 741.0,658.5 742.0,659.0 743.0,659.5 744.0,659.9 745.0,660.4 746.0,660.8 747.0,661.3 748.0,661.7 749.0,662.1 750.0,662.5 751.0,662.9 752.0,663.3 753.0,663.6 754.0,664.0 755.0,664.3 756.0,664.6 757.0,664.9 758.0,665.2 759.0,665.4 760.0,665.7 761.0,665.9 762.0,666.1 763.0,666.3 764.0,666.4 765.0,666.5 766.0,666.6 767.0,666.7 768.0,666.7 769.0,666.7 770.0,666.7 771.0,666.7 772.0,666.6 773.0,666.5 774.0,666.3 775.0,666.2 776.0,666.0 777.0,665.7 778.0,665.4 779.0,665.1 780.0,664.8 781.0,664.4 782.0,663.9 783.0,663.5 784.0,662.9 785.0,662.4 786.0,661.8 787.0,661.1 788.0,660.5 789.0,659.7 790.0,658.9 791.0,658.1 792.0,657.2 793.0,656.3 794.0,655.3 795.0,654.3 796.0,653.2 796.7,652.5 797.3,651.7 798.0,650.9 798.7,650.1 799.3,649.3 800.0,648.4 800.7,647.5 801.3,646.6 802.0,645.6 802.7,644.6 803.3,643.6 804.0,642.6 804.7,641.5 805.3,640.3 806.0,639.1 806.5,638.2 807.0,637.2 807.5,636.2 808.0,635.2 808.5,634.1 809.0,633.0 809.5,631.8 810.0,630.7 810.4,629.7 810.8,628.8 811.1,627.8 811.5,626.9 811.9,625.9 812.2,625.0 812.6,624.1 813.0,623.2 813.4,622.2 813.7,621.3 814.1,620.3 814.5,619.2 814.8,618.0 815.2,616.8 815.4,616.1 815.6,615.2 815.8,614.4 816.0,613.5 816.2,612.5 816.4,611.6 816.6,610.5 816.9,609.5 817.1,608.5 817.3,607.4 817.5,606.3 817.7,605.2 817.9,604.2 818.1,603.1 818.3,602.0 818.5,601.0 818.7,600.1 818.9,599.2 819.1,598.4 819.3,597.7 819.5,596.9 819.7,596.2 819.9,595.4 820.1,594.6 820.2,593.7 820.4,592.8 820.6,591.8 820.8,590.7 821.0,589.5 821.2,588.2 821.4,586.7 821.6,585.0 821.6,584.5 821.7,584.0 821.7,583.3 821.8,582.6 821.8,581.9 821.9,581.1 821.9,580.2 822.0,579.3 822.0,578.3 822.1,577.3 822.1,576.2 822.2,575.1 822.2,574.0 822.3,572.9 822.3,571.7 822.4,570.5 822.4,569.3 822.5,568.2 822.5,567.0 822.6,565.8 822.6,564.6 822.7,563.4 822.7,562.2 822.8,561.1 822.8,560.0 822.8,559.0 822.9,558.0 822.9,556.8 823.0,555.6 823.0,554.3 823.0,553.0 823.1,551.7 823.1,550.3 823.2,549.0 823.2,547.7 823.2,546.5 823.3,545.3 823.3,544.2 823.4,543.2 823.4,542.3 823.4,541.5 823.5,540.9 823.5,540.4 823.6,540.1 823.6,540.0 823.8,540.2 824.1,540.8 824.3,541.7 824.5,542.8 824.8,544.0 825.0,545.3 825.3,546.7 825.5,548.0 825.6,548.8 825.8,549.6 825.9,550.5 826.1,551.4 826.2,552.4 826.4,553.3 826.5,554.4 826.6,555.4 826.8,556.5 826.9,557.6 827.1,558.7 827.2,559.8 827.4,560.9 827.5,562.0 827.6,562.9 827.7,563.8 827.8,564.7 828.0,565.6 828.1,566.5 828.2,567.4 828.3,568.3 828.4,569.3 828.5,570.4 828.7,571.4 828.8,572.6 828.9,573.7 829.0,575.0 829.1,575.8 829.1,576.8 829.2,577.9 829.3,579.1 829.3,580.4 829.4,581.7 829.5,583.0 829.5,584.2 829.6,585.5 829.7,586.6 829.7,587.6 829.8,588.5 829.9,589.2 829.9,589.7 830.0,590.0 830.7,591.4 831.4,592.5 832.1,593.2 832.9,593.7 833.6,594.1 834.3,594.5 835.0,595.0 836.0,595.7 837.0,596.3 838.0,596.9 839.0,597.4 840.0,598.0 841.0,598.7 842.0,599.5 843.0,600.2 844.0,600.8 845.0,601.0 845.8,600.7 846.5,599.7 847.3,598.0 847.3,597.8 847.4,597.5 847.4,597.0 847.5,596.4 847.5,595.7 847.6,594.9 847.6,594.0 847.7,593.0 847.7,592.0 847.8,590.9 847.8,589.7 847.9,588.5 847.9,587.2 848.0,586.0 848.0,584.7 848.1,583.4 848.1,582.1 848.2,580.8 848.2,579.6 848.3,578.4 848.3,577.2 848.4,576.1 848.4,575.0 848.4,574.0 848.5,572.9 848.5,571.7 848.6,570.4 848.6,569.1 848.7,567.8 848.7,566.5 848.8,565.2 848.8,563.9 848.9,562.6 848.9,561.3 848.9,560.2 849.0,559.1 849.0,558.1 849.1,557.2 849.1,556.5 849.2,555.8 849.2,555.4 849.3,555.1 849.3,555.0 849.6,555.4 850.0,556.3 850.3,557.6 850.7,558.9 851.0,560.0 851.4,561.0 851.8,561.9 852.1,562.7 852.5,563.6 852.9,564.5 853.2,565.5 853.6,566.6 854.0,568.0 854.1,568.6 854.3,569.2 854.4,569.9 854.5,570.6 854.7,571.4 854.8,572.3 854.9,573.2 855.1,574.2 855.2,575.2 855.4,576.2 855.5,577.4 855.6,578.5 855.8,579.7 855.9,581.0 856.0,582.3 856.2,583.6 856.3,585.0 856.4,585.7 856.4,586.6 856.5,587.5 856.6,588.5 856.6,589.5 856.7,590.6 856.8,591.7 856.8,592.9 856.9,594.0 857.0,595.1 857.0,596.2 857.1,597.2 857.2,598.2 857.2,599.2 857.3,600.0 857.4,601.2 857.5,602.4 857.6,603.5 857.7,604.6 857.8,605.6 857.9,606.7 858.0,607.6 858.1,608.6 858.2,609.5 858.3,610.4 858.4,611.2 858.5,612.0 858.7,613.3 858.8,614.5 859.0,615.6 859.2,616.7 859.3,617.8 859.5,618.8 859.7,619.8 859.8,620.8"/>
<path stroke="#00f" stroke-dasharray="32.8 19.6 5.4 19.8" stroke-dashoffset="15.17" d="M859.8,620.8 860.0,621.7 860.2,622.6 860.3,623.5 860.5,624.4 860.7,625.3 860.8,626.2 861.0,627.0 861.2,628.1 861.4,629.2 861.7,630.2 861.9,631.2 862.1,632.1 862.3,633.1 862.6,634.1 862.8,635.2 863.0,636.3 863.2,637.2 863.3,638.1 863.5,639.1 863.7,640.1 863.8,641.1 864.0,642.2 864.2,643.2 864.3,644.3 864.5,645.4 864.7,646.5 864.8,647.6 865.0,648.7 865.2,649.7 865.3,650.8 865.5,651.9 865.6,653.0 865.8,654.2 865.9,655.3 866.1,656.4 866.2,657.5 866.4,658.6 866.5,659.7 866.7,660.7 866.8,661.6 867.0,662.5 867.2,663.7 867.4,664.9 867.7,666.1 867.9,667.2 868.1,668.2 868.3,669.2 868.6,670.1 868.8,671.0 869.0,671.8 869.4,673.1 869.8,674.2 870.2,675.3 870.6,676.3 871.0,677.2 871.5,678.2 872.0,679.1 872.5,680.0 873.0,680.9 873.5,681.9 874.0,683.0 874.5,684.0 875.0,685.1 875.4,686.1 875.8,687.1 876.2,688.1 876.6,689.1 877.0,690.1 877.4,691.2 877.8,692.2 878.2,693.3 878.6,694.4 879.0,695.4 879.4,696.4 879.8,697.5 880.2,698.5 880.6,699.5 881.0,700.5 881.4,701.4 881.8,702.4 882.2,703.3 882.6,704.2 883.0,705.1 883.5,706.2 884.0,707.2 884.5,708.3 885.0,709.3 885.5,710.3 886.0,711.3 886.5,712.2 887.0,713.1 887.5,714.0 888.0,714.9 888.5,715.8 889.0,716.6 889.7,717.8 890.3,718.8 891.0,719.9 891.7,720.9 892.3,721.9 893.0,722.9 893.7,723.9 894.3,724.8 895.0,725.8 895.7,726.7 896.3,727.6 897.0,728.5 897.7,729.4 898.3,730.3 899.0,731.1 899.7,732.0 900.3,732.9 901.0,733.7 901.7,734.6 902.3,735.4 903.0,736.3 903.7,737.1 904.3,737.9 905.0,738.8 905.7,739.6 906.3,740.4 907.0,741.2 907.7,742.0 908.3,742.8 909.0,743.6 909.7,744.4 910.3,745.2 911.0,745.9 911.7,746.7 912.3,747.5 913.0,748.2 913.7,749.0 914.3,749.7 915.0,750.5 916.0,751.6 917.0,752.7 918.0,753.7 919.0,754.8 920.0,755.9 921.0,756.9 922.0,757.9 923.0,759.0 924.0,760.0 925.0,761.0 926.0,761.9 927.0,762.9 928.0,763.9 929.0,764.8 930.0,765.8 931.0,766.7 932.0,767.6 933.0,768.5 934.0,769.4 935.0,770.3 936.0,771.1 937.0,772.0 938.0,772.8 939.0,773.7 940.0,774.5"/>
<path stroke="#00f" stroke-dasharray="32.8 19.6 5.4 19.8" stroke-dashoffset="37.13" d="M939.0,773.7 940.0,774.5 941.0,775.3 942.0,776.1 943.0,776.9 944.0,777.7 945.0,778.5 946.0,779.2 947.0,780.0 948.0,780.7 949.0,781.4 950.0,782.1 951.0,782.8 952.0,783.5 953.0,784.2 954.0,784.9 955.0,785.6 956.0,786.2 957.0,786.9 958.0,787.5 959.0,788.1 960.0,788.7 961.0,789.3 962.0,789.9 963.0,790.5 964.0,791.1 965.0,791.6 966.0,792.2 967.0,792.7 968.0,793.3 969.0,793.8 970.0,794.3 971.0,794.8 972.0,795.3 973.0,795.8 974.0,796.2 975.0,796.7 976.0,797.2 977.0,797.6 978.0,798.0 979.0,798.5 980.0,798.9 981.0,799.3 982.0,799.7 983.0,800.1 984.0,800.5 985.0,800.8 986.0,801.2 987.0,801.6 988.0,801.9 989.0,802.2 990.0,802.6 991.0,802.9 992.0,803.2 993.0,803.5 994.0,803.8 995.0,804.1 996.0,804.4 997.0,804.6 998.0,804.9 999.0,805.1 1000.0,805.4 1001.0,805.6 1002.0,805.8 1003.0,806.1 1004.0,806.3 1005.0,806.5 1006.0,806.7 1007.0,806.9 1008.0,807.0 1009.0,807.2 1010.0,807.4 1011.0,807.5 1012.0,807.7 1013.0,807.8 1014.0,807.9 1015.0,808.1 1016.0,808.2 1017.0,808.3 1018.0,808.4 1019.0,808.5 1020.0,808.6 1021.0,808.6 1022.0,808.7 1023.0,808.8 1024.0,808.8 1025.0,808.9 1026.0,808.9 1027.0,809.0 1028.0,809.0 1029.0,809.0 1030.0,809.0 1031.0,809.0 1032.0,809.0 1033.0,809.0 1034.0,809.0 1035.0,809.0 1036.0,809.0 1037.0,808.9 1038.0,808.9 1039.0,808.9 1040.0,808.8 1041.0,808.7 1042.0,808.7 1043.0,808.6 1044.0,808.5 1045.0,808.4 1046.0,808.4 1047.0,808.3 1048.0,808.2 1049.0,808.0 1050.0,807.9 1051.0,807.8 1052.0,807.7 1053.0,807.6 1054.0,807.4 1055.0,807.3 1056.0,807.1 1057.0,807.0 1058.0,806.8 1059.0,806.6 1060.0,806.5 1061.0,806.3 1062.0,806.1 1063.0,805.9 1064.0,805.7 1065.0,805.5 1066.0,805.3 1067.0,805.1 1068.0,804.9 1069.0,804.7 1070.0,804.4 1071.0,804.2 1072.0,804.0 1073.0,803.7 1074.0,803.5 1075.0,803.2 1076.0,802.9 1077.0,802.7 1078.0,802.4 1079.0,802.1 1080.0,801.8 1081.0,801.5 1082.0,801.2 1083.0,800.9 1084.0,800.6 1085.0,800.3 1086.0,799.9 1087.0,799.6 1088.0,799.2 1089.0,798.9 1090.0,798.5 1091.0,798.1 1092.0,797.7 1093.0,797.3 1094.0,796.9 1095.0,796.5 1096.0,796.1 1097.0,795.7 1098.0,795.2 1099.0,794.8 1100.0,794.3 1101.0,793.8 1102.0,793.4 1103.0,792.9 1104.0,792.4 1105.0,791.9 1106.0,791.3 1107.0,790.8 1108.0,790.3 1109.0,789.7 1110.0,789.1 1111.0,788.6 1112.0,788.0 1113.0,787.4 1114.0,786.8 1115.0,786.2 1116.0,785.5 1117.0,784.9 1118.0,784.2 1119.0,783.6 1120.0,782.9 1121.0,782.2 1122.0,781.5 1123.0,780.8 1124.0,780.0 1125.0,779.3 1126.0,778.5 1127.0,777.7 1128.0,777.0 1129.0,776.2 1130.0,775.4 1131.0,774.5 1132.0,773.7 1133.0,772.8 1134.0,772.0 1135.0,771.1 1136.0,770.2 1137.0,769.3 1138.0,768.4 1139.0,767.4 1140.0,766.5 1141.0,765.5 1142.0,764.5 1143.0,763.5 1144.0,762.5 1145.0,761.5 1146.0,760.4 1147.0,759.4 1148.0,758.3 1149.0,757.2 1149.7,756.4 1150.3,755.7 1151.0,754.9 1151.7,754.2 1152.3,753.4 1153.0,752.6 1153.7,751.9 1154.3,751.1 1155.0,750.3 1155.7,749.5 1156.3,748.6 1157.0,747.8 1157.7,747.0 1158.3,746.2 1159.0,745.3 1159.7,744.5 1160.3,743.6 1161.0,742.7 1161.7,741.9 1162.3,741.0 1163.0,740.1 1163.7,739.2 1164.3,738.3 1165.0,737.4 1165.7,736.4 1166.3,735.5 1167.0,734.6 1167.7,733.6 1168.3,732.7 1169.0,731.7 1169.7,730.7 1170.3,729.8 1171.0,728.8 1171.7,727.8 1172.3,726.8 1173.0,725.7 1173.7,724.7 1174.3,723.7 1175.0,722.6 1175.7,721.6 1176.3,720.5 1177.0,719.5 1177.7,718.4 1178.3,717.3 1179.0,716.2 1179.7,715.1 1180.3,714.0 1181.0,712.9 1181.7,711.7 1182.3,710.6 1183.0,709.5 1183.5,708.6 1184.0,707.7 1184.5,706.8 1185.0,705.9 1185.5,705.1 1186.0,704.2 1186.5,703.3 1187.0,702.3 1187.5,701.4 1188.0,700.5 1188.5,699.6 1189.0,698.6 1189.5,697.7 1190.0,696.7 1190.5,695.8 1191.0,694.8 1191.5,693.8 1192.0,692.8 1192.5,691.8 1193.0,690.8 1193.5,689.8 1194.0,688.8 1194.5,687.7 1195.0,686.7 1195.5,685.7 1196.0,684.6 1196.5,683.5 1197.0,682.4 1197.5,681.4 1198.0,680.2 1198.5,679.1 1199.0,678.0 1199.4,677.1 1199.8,676.2 1200.2,675.3 1200.6,674.4 1201.0,673.4 1201.4,672.5 1201.8,671.5 1202.2,670.6 1202.6,669.6 1203.0,668.6 1203.4,667.7 1203.8,666.7 1204.2,665.7 1204.6,664.7 1205.0,663.7 1205.4,662.7 1205.8,661.6 1206.2,660.6 1206.6,659.5 1207.0,658.5 1207.4,657.4 1207.8,656.4 1208.2,655.3 1208.6,654.2 1209.0,653.1 1209.4,652.0 1209.8,650.9 1210.2,649.8 1210.6,648.6 1211.0,647.5 1211.3,646.5 1211.7,645.6 1212.0,644.6 1212.3,643.6 1212.7,642.6 1213.0,641.6 1213.3,640.6 1213.7,639.6 1214.0,638.6 1214.3,637.6 1214.7,636.6 1215.0,635.6 1215.3,634.5 1215.7,633.5 1216.0,632.4 1216.3,631.4 1216.7,630.3 1217.0,629.3 1217.3,628.2 1217.7,627.1 1218.0,626.1 1218.3,625.0 1218.7,623.9 1219.0,622.8 1219.3,621.7 1219.7,620.6 1220.0,619.5 1220.3,618.4 1220.7,617.3 1221.0,616.2 1221.3,615.1 1221.7,614.0 1222.0,612.9 1222.3,611.8 1222.7,610.6 1223.0,609.5 1223.3,608.6 1223.6,607.6 1223.9,606.6 1224.1,605.7 1224.4,604.7 1224.7,603.7 1225.0,602.8 1225.3,601.8 1225.6,600.8 1225.9,599.9 1226.1,598.9 1226.4,597.9 1226.7,596.9 1227.0,595.9 1227.3,594.9 1227.6,593.9 1227.9,592.9 1228.1,591.9 1228.4,590.9 1228.7,589.8 1229.0,588.7 1229.2,587.8 1229.5,586.9 1229.8,585.9 1230.0,584.9 1230.2,583.9 1230.5,582.9 1230.8,581.9 1231.0,580.9 1231.2,579.9 1231.4,579.0 1231.7,578.0 1231.9,577.1 1232.1,576.1 1232.3,575.1 1232.6,574.1 1232.8,573.1 1233.0,572.0 1233.2,571.0 1233.4,570.1 1233.6,569.1 1233.8,568.1 1234.0,567.1 1234.2,566.1 1234.4,565.0 1234.6,564.0 1234.8,562.9 1235.0,561.8 1235.2,560.9 1235.3,559.9 1235.5,559.0 1235.7,558.0 1235.8,557.1 1236.0,556.1 1236.2,555.1 1236.3,554.1 1236.5,553.1 1236.7,552.0 1236.8,551.0 1237.0,549.9 1237.2,548.9 1237.3,547.9 1237.5,546.9 1237.6,545.9 1237.8,544.8 1237.9,543.8 1238.1,542.7 1238.2,541.6 1238.4,540.6 1238.5,539.5 1238.7,538.4 1238.8,537.3 1239.0,536.1 1239.1,535.2 1239.3,534.2 1239.4,533.2 1239.5,532.2 1239.7,531.2 1239.8,530.2 1239.9,529.2 1240.1,528.1 1240.2,527.1 1240.3,526.1 1240.5,525.0 1240.6,524.0 1240.7,523.0 1240.9,521.9 1241.0,520.9 1241.1,519.9 1241.2,518.9 1241.4,517.9 1241.5,516.9 1241.6,515.9 1241.8,514.9 1241.9,513.9 1242.0,512.9 1242.1,511.9 1242.2,510.9 1242.4,509.9 1242.5,508.9 1242.6,507.9 1242.8,506.9 1242.9,505.9 1243.0,504.9 1243.1,503.9 1243.2,502.9 1243.4,501.9 1243.5,500.9 1243.6,499.9 1243.8,499.0 1243.9,498.0 1244.0,497.0 1244.1,496.0 1244.2,495.0 1244.4,494.0 1244.5,493.0 1244.6,492.0 1244.8,491.0 1244.9,490.0 1245.0,488.9 1245.1,488.0 1245.2,487.0 1245.4,486.0 1245.5,485.1 1245.6,484.1 1245.7,483.2 1245.8,482.2 1245.9,481.2 1246.1,480.2 1246.2,479.2 1246.3,478.2 1246.4,477.2 1246.5,476.1 1246.6,475.0 1246.8,473.8 1246.9,472.6 1247.0,471.4 1247.1,470.5 1247.2,469.6 1247.2,468.7 1247.3,467.7 1247.4,466.7 1247.5,465.7 1247.6,464.6 1247.7,463.5 1247.8,462.4 1247.8,461.2 1247.9,460.0 1248.0,458.7 1248.0,458.0 1248.1,457.2 1248.1,456.4 1248.2,455.6 1248.2,454.7 1248.3,453.9 1248.3,453.0 1248.4,452.1 1248.4,451.2 1248.5,450.2 1248.5,449.3 1248.6,448.3 1248.6,447.3 1248.7,446.3 1248.7,445.3 1248.8,444.3 1248.8,443.2 1248.9,442.2 1248.9,441.1 1248.9,440.0 1249.0,438.9 1249.0,437.8 1249.1,436.7 1249.1,435.6 1249.2,434.5 1249.2,433.4 1249.3,432.3 1249.3,431.2 1249.4,430.1 1249.4,428.9 1249.5,427.8 1249.5,426.7 1249.6,425.6 1249.6,424.4 1249.7,423.3 1249.7,422.2 1249.8,421.1 1249.8,420.0 1249.8,419.1 1249.9,418.1 1249.9,417.1 1250.0,416.1"/>
<path stroke="#00f" stroke-dasharray="32.8 19.6 5.4 19.8" stroke-dashoffset="12.45" d="M1250.0,416.1 1250.0,415.0 1250.0,414.0 1250.1,412.9 1250.1,411.8 1250.2,410.7 1250.2,409.6 1250.2,408.5 1250.3,407.4 1250.3,406.3 1250.4,405.2 1250.4,404.1 1250.4,403.0 1250.5,401.9 1250.5,400.8 1250.6,399.8 1250.6,398.8 1250.6,397.7 1250.7,396.8 1250.7,395.8 1250.8,394.9 1250.8,394.0 1250.8,393.1 1250.9,392.3 1250.9,391.5 1251.0,390.7 1251.0,390.0 1251.1,388.7 1251.2,387.4 1251.2,386.2 1251.3,385.0 1251.4,383.9 1251.5,382.9 1251.6,381.9 1251.6,380.9 1251.7,380.0 1251.8,379.1 1251.9,378.2 1252.0,377.3 1252.0,376.4 1252.1,375.6 1252.2,374.7 1252.3,373.9 1252.4,373.0 1252.4,372.1 1252.5,371.2 1252.6,370.3 1252.7,369.3 1252.8,368.3 1252.8,367.2 1252.9,366.1 1253.0,365.0 1253.1,364.2 1253.1,363.3 1253.2,362.4 1253.2,361.5 1253.3,360.5 1253.3,359.5 1253.4,358.5 1253.4,357.5 1253.5,356.4 1253.6,355.3 1253.6,354.2 1253.7,353.1 1253.7,352.0 1253.8,350.9 1253.8,349.7 1253.9,348.6 1253.9,347.4 1254.0,346.3 1254.1,345.1 1254.1,343.9 1254.2,342.7 1254.2,341.6 1254.3,340.4 1254.3,339.3 1254.4,338.1 1254.4,337.0 1254.5,335.9 1254.6,334.8 1254.6,333.7 1254.7,332.6 1254.7,331.6 1254.8,330.5 1254.8,329.5 1254.9,328.5 1254.9,327.6 1255.0,326.7 1255.1,325.8 1255.1,324.9 1255.2,324.1 1255.2,323.3 1255.3,322.6 1255.3,321.9 1255.4,321.2 1255.4,320.6 1255.5,320.0 1255.6,318.5 1255.8,317.0 1256.0,315.6 1256.1,314.1 1256.2,312.7 1256.4,311.3 1256.5,310.0 1256.7,308.7 1256.9,307.5 1257.0,306.3 1257.2,305.2 1257.3,304.2 1257.5,303.3 1257.6,302.5 1257.8,301.7 1257.9,301.1 1258.0,300.6 1258.2,300.3 1258.3,300.1 1258.5,300.0 1258.6,300.1 1258.7,300.3 1258.8,300.7 1259.0,301.2 1259.1,301.8 1259.2,302.5 1259.3,303.4 1259.4,304.3 1259.5,305.3 1259.6,306.4 1259.8,307.6 1259.9,308.8 1260.0,310.1 1260.1,311.4 1260.2,312.7 1260.3,314.1 1260.4,315.4 1260.5,316.8 1260.7,318.1 1260.8,319.4 1260.9,320.7 1261.0,322.0 1261.1,322.8 1261.1,323.8 1261.2,324.8 1261.3,325.8 1261.4,327.0 1261.4,328.2 1261.5,329.4 1261.6,330.7 1261.6,332.0 1261.7,333.4 1261.8,334.7 1261.9,336.1 1261.9,337.4 1262.0,338.7 1262.1,340.0 1262.1,341.3 1262.2,342.5 1262.3,343.6 1262.4,344.7 1262.4,345.7 1262.5,346.6 1262.6,347.5 1262.6,348.2 1262.7,348.8 1262.8,349.3 1262.9,349.7 1262.9,349.9 1263.0,350.0 1263.1,349.9 1263.2,349.8 1263.2,349.5 1263.3,349.2 1263.4,348.7 1263.5,348.1 1263.5,347.5 1263.6,346.8 1263.7,346.0 1263.8,345.2 1263.9,344.2 1263.9,343.3 1264.0,342.2 1264.1,341.1 1264.2,340.0 1264.2,338.8 1264.3,337.6 1264.4,336.4 1264.5,335.1 1264.6,333.8 1264.6,332.5 1264.7,331.1 1264.8,329.8 1264.9,328.4 1265.0,327.1 1265.0,325.7 1265.1,324.4 1265.2,323.1 1265.3,321.8 1265.3,320.5 1265.4,319.2 1265.5,318.0 1265.6,317.1 1265.6,316.2 1265.7,315.3 1265.7,314.3 1265.8,313.3 1265.8,312.2 1265.9,311.1 1265.9,310.0 1266.0,308.9 1266.0,307.7 1266.1,306.6 1266.1,305.4 1266.2,304.2 1266.2,303.1 1266.3,301.9 1266.4,300.8 1266.4,299.7 1266.5,298.6 1266.5,297.5 1266.6,296.5 1266.6,295.5 1266.7,294.6 1266.7,293.7 1266.8,292.8 1266.8,292.0 1266.9,291.3 1266.9,290.6 1267.0,290.0 1267.1,288.6 1267.3,287.1 1267.4,285.7 1267.5,284.4 1267.7,283.1 1267.8,282.0 1268.0,281.0 1268.1,280.2 1268.2,279.5 1268.4,279.1 1268.5,279.0 1268.6,279.1 1268.6,279.3 1268.7,279.8 1268.8,280.3 1268.9,281.0 1268.9,281.8 1269.0,282.7 1269.1,283.7 1269.1,284.8 1269.2,286.0 1269.3,287.2 1269.4,288.5 1269.4,289.8 1269.5,291.1 1269.6,292.5 1269.6,293.8 1269.7,295.1 1269.8,296.4 1269.9,297.7 1269.9,298.9 1270.0,300.0 1270.1,300.9 1270.1,301.8 1270.2,302.7 1270.2,303.6 1270.3,304.6 1270.3,305.5 1270.4,306.5 1270.5,307.5 1270.5,308.5 1270.6,309.5 1270.6,310.5 1270.7,311.5 1270.7,312.5 1270.8,313.5 1270.9,314.5 1270.9,315.6 1271.0,316.6 1271.0,317.6 1271.1,318.7 1271.1,319.7 1271.2,320.7 1271.3,321.8 1271.3,322.8 1271.4,323.9 1271.4,324.9 1271.5,325.9 1271.5,327.0 1271.6,328.0 1271.7,329.0 1271.7,330.0 1271.8,331.0 1271.8,332.0 1271.9,333.0 1271.9,334.0 1272.0,335.0 1272.1,336.0 1272.1,337.1 1272.2,338.1 1272.2,339.2 1272.3,340.2 1272.4,341.3 1272.4,342.3 1272.5,343.4 1272.5,344.4 1272.6,345.5 1272.7,346.5 1272.7,347.6 1272.8,348.6 1272.8,349.6 1272.9,350.6 1273.0,351.6 1273.0,352.6 1273.1,353.6 1273.1,354.6 1273.2,355.5 1273.3,356.5 1273.3,357.4 1273.4,358.3 1273.4,359.2 1273.5,360.0 1273.6,361.2 1273.7,362.5 1273.8,363.8 1273.8,365.1 1273.9,366.4 1274.0,367.8 1274.1,369.1 1274.2,370.4 1274.2,371.6 1274.3,372.8 1274.4,373.9 1274.5,374.9 1274.6,375.8 1274.7,376.5 1274.8,377.2 1274.8,377.6 1274.9,377.9 1275.0,378.0 1275.6,377.6 1276.2,376.7 1276.8,375.4 1277.3,374.0 1277.9,372.8 1278.5,372.0 1279.4,371.3 1280.2,370.6 1281.1,370.2 1282.0,370.0 1282.2,370.1 1282.4,370.4 1282.6,371.0 1282.8,371.7 1283.0,372.5 1283.2,373.5 1283.4,374.6 1283.6,375.8 1283.8,377.1 1284.0,378.4 1284.2,379.8 1284.4,381.1 1284.6,382.5 1284.8,383.8 1285.0,385.0 1285.1,385.8 1285.3,386.7 1285.4,387.5 1285.5,388.5 1285.7,389.4 1285.8,390.4 1285.9,391.4 1286.0,392.4 1286.2,393.4 1286.3,394.5 1286.4,395.5 1286.6,396.6 1286.7,397.7 1286.8,398.8 1287.0,399.8 1287.1,400.9 1287.2,402.0 1287.3,403.0 1287.5,404.0 1287.6,405.1 1287.7,406.1 1287.9,407.0 1288.0,408.0 1288.1,409.1 1288.3,410.2 1288.4,411.3 1288.6,412.4 1288.7,413.5 1288.9,414.6 1289.0,415.8 1289.2,416.9 1289.3,418.0 1289.5,419.1 1289.6,420.2 1289.8,421.3 1289.9,422.4 1290.1,423.5 1290.2,424.6 1290.4,425.6 1290.5,426.6 1290.7,427.6 1290.8,428.6 1291.0,429.5 1291.1,430.4 1291.3,431.3 1291.4,432.1 1291.6,432.9 1291.7,433.6 1291.9,434.3 1292.0,435.0 1292.3,436.4 1292.7,437.9 1293.0,439.3 1293.3,440.7 1293.7,442.1 1294.0,443.5 1294.3,444.8 1294.7,446.0 1295.0,447.2 1295.3,448.3 1295.7,449.3 1296.0,450.2 1296.3,451.0 1296.7,451.7 1297.0,452.3 1297.3,452.7 1297.7,452.9 1298.0,453.0 1298.3,452.9 1298.6,452.6 1298.9,452.1 1299.2,451.4 1299.5,450.5 1299.8,449.5 1300.2,448.4 1300.5,447.2 1300.8,445.8 1301.1,444.5 1301.4,443.0 1301.7,441.5 1302.0,440.0 1302.1,439.4 1302.2,438.8 1302.3,438.1 1302.4,437.3 1302.5,436.5 1302.6,435.7 1302.8,434.7 1302.9,433.8 1303.0,432.8 1303.1,431.8 1303.2,430.7 1303.3,429.6 1303.4,428.5 1303.5,427.4 1303.6,426.2 1303.7,425.1 1303.8,423.9 1303.9,422.7 1304.0,421.6 1304.1,420.4 1304.2,419.3 1304.4,418.2 1304.5,417.1 1304.6,416.0 1304.7,414.9 1304.8,413.9 1304.9,412.9 1305.0,412.0 1305.1,410.9 1305.2,409.7 1305.4,408.4 1305.5,407.1 1305.6,405.8 1305.8,404.4 1305.9,403.1 1306.0,401.9 1306.1,400.7 1306.2,399.6 1306.4,398.6 1306.5,397.7 1306.6,397.0 1306.8,396.5 1306.9,396.1 1307.0,396.0 1307.1,396.1 1307.2,396.3 1307.2,396.7 1307.3,397.3 1307.4,397.9 1307.5,398.7 1307.6,399.6 1307.7,400.6 1307.8,401.7 1307.8,402.8 1307.9,404.0 1308.0,405.3 1308.1,406.5 1308.2,407.9 1308.2,409.2 1308.3,410.5 1308.4,411.9 1308.5,413.2 1308.6,414.4 1308.7,415.7 1308.8,416.9 1308.8,418.0 1308.9,419.0 1309.0,420.0 1309.1,421.1 1309.2,422.2 1309.3,423.3 1309.4,424.3 1309.5,425.4 1309.6,426.5 1309.7,427.5 1309.8,428.6 1309.9,429.6 1310.0,430.7 1310.1,431.7 1310.2,432.7 1310.3,433.8 1310.4,434.8 1310.5,435.8 1310.6,436.8 1310.7,437.8 1310.8,438.8 1310.9,439.7 1311.0,440.7 1311.1,441.7 1311.2,442.6 1311.3,443.6 1311.4,444.5 1311.5,445.5 1311.6,446.4 1311.7,447.3 1311.8,448.2 1311.9,449.1 1312.0,450.0 1312.1,451.1 1312.2,452.3 1312.4,453.6 1312.5,454.9 1312.6,456.2 1312.8,457.5 1312.9,458.8 1313.0,460.2 1313.1,461.5 1313.2,462.8 1313.4,464.1 1313.5,465.3 1313.6,466.5 1313.8,467.7 1313.9,468.8 1314.0,469.8 1314.1,470.7 1314.2,471.5 1314.4,472.2 1314.5,472.8 1314.6,473.3 1314.8,473.7 1314.9,473.9 1315.0,474.0 1315.5,473.8 1316.0,473.2 1316.5,472.2 1317.0,471.0 1317.5,469.6 1318.0,468.0 1318.1,467.6 1318.2,467.1 1318.3,466.5 1318.4,465.9 1318.5,465.1 1318.6,464.3 1318.8,463.4 1318.9,462.5 1319.0,461.5 1319.1,460.5 1319.2,459.4 1319.3,458.3 1319.4,457.2 1319.5,456.0 1319.6,454.8 1319.7,453.6 1319.8,452.4 1319.9,451.2 1320.0,450.0 1320.1,448.7 1320.2,447.5 1320.4,446.4 1320.5,445.2 1320.6,444.1 1320.7,443.0 1320.8,442.0 1320.9,441.0 1321.0,440.0 1321.1,438.9 1321.2,437.7 1321.4,436.5 1321.5,435.2 1321.6,433.9 1321.8,432.6 1321.9,431.3 1322.0,429.9 1322.1,428.6 1322.2,427.3 1322.4,426.0 1322.5,424.8 1322.6,423.6 1322.7,422.4 1322.9,421.3 1323.0,420.3 1323.1,419.4 1323.2,418.5 1323.4,417.8 1323.5,417.2 1323.6,416.7 1323.8,416.3 1323.9,416.1 1324.0,416.0 1324.0,416.0 1324.1,416.1 1324.1,416.3 1324.2,416.6 1324.2,416.9 1324.3,417.3 1324.3,417.7 1324.4,418.2 1324.4,418.8 1324.5,419.4 1324.5,420.1 1324.5,420.9 1324.6,421.6 1324.6,422.5 1324.7,423.4 1324.7,424.3 1324.8,425.3 1324.8,426.3 1324.9,427.3 1324.9,428.4 1325.0,429.5 1325.0,430.7 1325.0,431.8 1325.1,433.1 1325.1,434.3 1325.2,435.6 1325.2,436.8 1325.3,438.1 1325.3,439.5 1325.4,440.8 1325.4,442.1 1325.5,443.5 1325.5,444.9 1325.5,446.3 1325.6,447.6 1325.6,449.0 1325.7,450.4 1325.7,451.8 1325.8,453.2 1325.8,454.6 1325.9,455.9 1325.9,457.3 1326.0,458.7 1326.0,460.0 1326.0,460.8 1326.0,461.5 1326.1,462.4 1326.1,463.3 1326.1,464.2 1326.1,465.1 1326.2,466.1 1326.2,467.0 1326.2,468.1 1326.2,469.1 1326.3,470.2 1326.3,471.2 1326.3,472.3 1326.3,473.4 1326.4,474.6 1326.4,475.7 1326.4,476.8 1326.5,478.0 1326.5,479.1 1326.5,480.3 1326.5,481.4 1326.6,482.5 1326.6,483.7 1326.6,484.8 1326.6,485.9 1326.6,487.0 1326.7,488.1 1326.7,489.2 1326.7,490.3 1326.8,491.3 1326.8,492.3 1326.8,493.3 1326.8,494.2 1326.8,495.2 1326.9,496.1 1326.9,496.9 1326.9,497.8 1327.0,498.5 1327.0,499.3 1327.0,500.0 1327.0,501.3 1327.1,502.7 1327.2,504.0 1327.2,505.2 1327.3,506.5 1327.3,507.7 1327.3,508.9 1327.4,510.1 1327.4,511.2 1327.5,512.3 1327.5,513.4 1327.6,514.5 1327.7,515.5 1327.7,516.5 1327.8,517.5 1327.8,518.5 1327.8,519.5 1327.9,520.4 1328.0,521.3 1328.0,522.2 1328.0,523.1 1328.1,523.9 1328.2,524.7 1328.2,525.6 1328.2,526.3 1328.3,527.1 1328.3,527.9 1328.4,528.6 1328.4,529.3 1328.5,530.0 1328.6,531.3 1328.7,532.6 1328.8,533.9 1328.9,535.1 1329.0,536.2 1329.1,537.4 1329.2,538.4 1329.3,539.5 1329.4,540.5 1329.5,541.5 1329.6,542.5 1329.7,543.4 1329.8,544.3 1329.9,545.2 1330.0,546.1 1330.1,547.0 1330.2,547.9 1330.3,548.8 1330.4,549.6 1330.5,550.5 1330.6,551.4 1330.7,552.3 1330.8,553.2 1330.9,554.1 1331.0,555.0 1331.1,556.1 1331.2,557.2 1331.4,558.3 1331.5,559.4 1331.6,560.5 1331.7,561.6 1331.8,562.6 1331.9,563.7 1332.1,564.8 1332.2,565.8 1332.3,566.8 1332.4,567.8 1332.5,568.8 1332.6,569.8 1332.8,570.7 1332.9,571.6 1333.0,572.5"/>
<path stroke="#00f" stroke-dasharray="32.8 19.6 5.4 19.8" stroke-dashoffset="73.11" d="M1332.9,571.6 1333.0,572.5 1333.2,573.7 1333.3,574.8 1333.5,576.0 1333.7,577.1 1333.8,578.2 1334.0,579.2 1334.2,580.2 1334.3,581.3 1334.5,582.2 1334.7,583.2 1334.8,584.2 1335.0,585.1 1335.2,586.3 1335.4,587.4 1335.6,588.5 1335.8,589.5 1336.0,590.6 1336.2,591.6 1336.4,592.6 1336.6,593.6 1336.8,594.6 1337.0,595.6 1337.2,596.6 1337.4,597.7 1337.7,598.7 1337.9,599.7 1338.1,600.8 1338.3,601.8 1338.6,602.8 1338.8,603.8 1339.0,604.8 1339.2,605.8 1339.4,606.8 1339.7,607.8 1339.9,608.8 1340.1,609.8 1340.3,610.8 1340.6,611.8 1340.8,612.8 1341.0,613.9 1341.2,614.9 1341.4,616.0 1341.7,617.0 1341.9,618.1 1342.1,619.2 1342.3,620.2 1342.6,621.3 1342.8,622.4 1343.0,623.4 1343.2,624.5 1343.4,625.6 1343.7,626.6 1343.9,627.7 1344.1,628.8 1344.3,629.8 1344.6,630.9 1344.8,631.9 1345.0,632.9 1345.2,634.0 1345.4,635.0 1345.7,636.0 1345.9,637.0 1346.1,638.0 1346.3,639.0 1346.6,640.0 1346.8,640.9 1347.0,641.9 1347.2,643.0 1347.5,644.1 1347.8,645.1 1348.0,646.2 1348.2,647.2 1348.5,648.3 1348.8,649.3 1349.0,650.3 1349.2,651.4 1349.5,652.4 1349.8,653.4 1350.0,654.4 1350.2,655.4 1350.5,656.3 1350.8,657.3 1351.0,658.3 1351.3,659.4 1351.6,660.5 1351.9,661.5 1352.1,662.6 1352.4,663.7 1352.7,664.7 1353.0,665.8 1353.3,666.8 1353.6,667.8 1353.9,668.9 1354.1,669.9 1354.4,670.9 1354.7,671.9 1355.0,672.9 1355.3,673.8 1355.6,674.8 1355.9,675.8 1356.1,676.7 1356.4,677.7 1356.7,678.6 1357.0,679.6 1357.3,680.6 1357.7,681.7 1358.0,682.8 1358.3,683.9 1358.7,684.9 1359.0,685.9 1359.3,687.0 1359.7,688.0 1360.0,689.0 1360.3,690.0 1360.7,691.0 1361.0,692.0 1361.3,693.0 1361.7,694.0 1362.0,695.0 1362.3,696.0 1362.7,696.9 1363.0,697.9 1363.4,699.0 1363.8,700.2 1364.2,701.3 1364.6,702.4 1365.0,703.6 1365.4,704.7 1365.8,705.8 1366.2,706.9 1366.6,708.0 1367.0,709.0 1367.4,710.1 1367.8,711.2 1368.2,712.3 1368.6,713.3 1369.0,714.4 1369.4,715.4 1369.8,716.5 1370.2,717.5 1370.6,718.6 1371.0,719.6 1371.4,720.6 1371.8,721.7 1372.2,722.7 1372.6,723.7 1373.0,724.7 1373.4,725.7 1373.8,726.7 1374.2,727.7 1374.6,728.7 1375.0,729.7 1375.4,730.6 1375.8,731.6 1376.2,732.6 1376.6,733.5 1377.0,734.5 1377.4,735.4 1377.8,736.4 1378.2,737.3 1378.6,738.3 1379.0,739.2 1379.4,740.1 1379.8,741.1 1380.2,742.0 1380.6,742.9 1381.0,743.8 1381.5,744.9 1382.0,746.1 1382.5,747.2 1383.0,748.3 1383.5,749.4 1384.0,750.5 1384.5,751.6 1385.0,752.6 1385.5,753.7 1386.0,754.8 1386.5,755.8 1387.0,756.9 1387.5,757.9 1388.0,759.0 1388.5,760.0 1389.0,761.0 1389.5,762.1 1390.0,763.1 1390.5,764.1 1391.0,765.1 1391.5,766.1 1392.0,767.1 1392.5,768.1 1393.0,769.0 1393.5,770.0 1394.0,771.0 1394.5,771.9 1395.0,772.9 1395.5,773.8 1396.0,774.8 1396.5,775.7 1397.0,776.6 1397.5,777.5 1398.0,778.5 1398.5,779.4 1399.0,780.3 1399.5,781.2 1400.0,782.1 1400.5,782.9 1401.0,783.8 1401.5,784.7 1402.0,785.6 1402.5,786.4 1403.0,787.3 1403.7,788.4 1404.3,789.6 1405.0,790.7 1405.7,791.8 1406.3,792.9 1407.0,794.0 1407.7,795.1 1408.3,796.1 1409.0,797.2 1409.7,798.3 1410.3,799.3 1411.0,800.3 1411.7,801.4 1412.3,802.4 1413.0,803.4 1413.7,804.4 1414.3,805.4 1415.0,806.4 1415.7,807.4 1416.3,808.4 1417.0,809.3 1417.7,810.3 1418.3,811.2 1419.0,812.2 1419.7,813.1 1420.3,814.1 1421.0,815.0 1421.7,815.9 1422.3,816.8 1423.0,817.7 1423.7,818.6 1424.3,819.5 1425.0,820.4 1425.7,821.3 1426.3,822.1 1427.0,823.0 1427.7,823.9 1428.3,824.7 1429.0,825.6 1429.7,826.4 1430.3,827.3 1431.0,828.1 1431.7,828.9 1432.3,829.7 1433.0,830.6 1433.7,831.4 1434.3,832.2 1435.0,833.0 1435.7,833.8 1436.3,834.6 1437.0,835.4 1437.7,836.2 1438.3,836.9 1439.0,837.7 1439.7,838.5 1440.3,839.3 1441.0,840.0 1441.7,840.8 1442.3,841.5 1443.0,842.3 1444.0,843.4 1445.0,844.5 1446.0,845.6 1447.0,846.7 1448.0,847.8 1449.0,848.9 1450.0,849.9 1451.0,851.0 1452.0,852.0 1453.0,853.1 1454.0,854.1 1455.0,855.1 1456.0,856.2 1457.0,857.2 1458.0,858.1 1459.0,859.1 1460.0,860.1 1461.0,861.1 1462.0,862.0 1463.0,863.0 1464.0,863.9 1465.0,864.9 1466.0,865.8 1467.0,866.7 1468.0,867.6 1469.0,868.5 1470.0,869.4 1471.0,870.3 1472.0,871.1 1473.0,872.0 1474.0,872.8 1475.0,873.7 1476.0,874.5 1477.0,875.4 1478.0,876.2 1479.0,877.0 1480.0,877.8 1481.0,878.6 1482.0,879.3 1483.0,880.1 1484.0,880.9 1485.0,881.6 1486.0,882.4 1487.0,883.1 1488.0,883.9 1489.0,884.6 1490.0,885.3 1491.0,886.0 1492.0,886.7 1493.0,887.4 1494.0,888.1 1495.0,888.7 1496.0,889.4 1497.0,890.1 1498.0,890.7 1499.0,891.3 1500.0,892.0 1501.0,892.6 1502.0,893.2 1503.0,893.8 1504.0,894.4 1505.0,895.0 1506.0,895.6 1507.0,896.1 1508.0,896.7 1509.0,897.2 1510.0,897.8 1511.0,898.3 1512.0,898.9 1513.0,899.4 1514.0,899.9 1515.0,900.4 1516.0,900.9 1517.0,901.4 1518.0,901.9 1519.0,902.3 1520.0,902.8"/>
<path stroke="#00f" stroke-dasharray="32.8 19.6 5.4 19.8" stroke-dashoffset="3.77" d="M1519.0,902.3 1520.0,902.8 1521.0,903.2 1522.0,903.7 1523.0,904.1 1524.0,904.6 1525.0,905.0 1526.0,905.4 1527.0,905.8 1528.0,906.2 1529.0,906.6 1530.0,907.0 1531.0,907.3 1532.0,907.7 1533.0,908.1 1534.0,908.4 1535.0,908.7 1536.0,909.1 1537.0,909.4 1538.0,909.7 1539.0,910.0 1540.0,910.3 1541.0,910.6 1542.0,910.9 1543.0,911.2 1544.0,911.4 1545.0,911.7 1546.0,912.0 1547.0,912.2 1548.0,912.4 1549.0,912.7 1550.0,912.9 1551.0,913.1 1552.0,913.3 1553.0,913.5 1554.0,913.7 1555.0,913.9 1556.0,914.1 1557.0,914.2 1558.0,914.4 1559.0,914.5 1560.0,914.7 1561.0,914.8 1562.0,915.0 1563.0,915.1 1564.0,915.2 1565.0,915.3 1566.0,915.4 1567.0,915.5 1568.0,915.6 1569.0,915.6 1570.0,915.7 1571.0,915.8 1572.0,915.8 1573.0,915.9 1574.0,915.9 1575.0,915.9 1576.0,916.0 1577.0,916.0 1578.0,916.0 1579.0,916.0 1580.0,916.0 1581.0,916.0 1582.0,915.9 1583.0,915.9 1584.0,915.9 1585.0,915.8 1586.0,915.8 1587.0,915.7 1588.0,915.7 1589.0,915.6 1590.0,915.5 1591.0,915.4 1592.0,915.3 1593.0,915.2 1594.0,915.1 1595.0,915.0 1596.0,914.9 1597.0,914.7 1598.0,914.6 1599.0,914.4 1600.0,914.3 1601.0,914.1 1602.0,914.0 1603.0,913.8 1604.0,913.6 1605.0,913.4 1606.0,913.2 1607.0,913.0 1608.0,912.8 1609.0,912.6 1610.0,912.4 1611.0,912.1 1612.0,911.9 1613.0,911.6 1614.0,911.3 1615.0,911.1 1616.0,910.8 1617.0,910.5 1618.0,910.1 1619.0,909.8 1620.0,909.4 1621.0,909.0 1622.0,908.6 1623.0,908.2 1624.0,907.7 1625.0,907.3 1626.0,906.8 1627.0,906.2 1628.0,905.7 1629.0,905.1 1630.0,904.5 1631.0,903.9 1632.0,903.2 1633.0,902.5 1634.0,901.8 1635.0,901.0 1636.0,900.2 1637.0,899.4 1638.0,898.5 1639.0,897.6 1640.0,896.6 1641.0,895.6 1642.0,894.6 1643.0,893.5 1643.7,892.8 1644.3,892.0 1645.0,891.3 1645.7,890.5 1646.3,889.7 1647.0,888.8 1647.7,888.0 1648.3,887.1 1649.0,886.2 1649.7,885.3 1650.3,884.3 1651.0,883.3 1651.7,882.4 1652.3,881.3 1653.0,880.3 1653.7,879.3 1654.3,878.2 1655.0,877.1 1655.7,875.9 1656.3,874.8 1657.0,873.6 1657.5,872.7 1658.0,871.8 1658.5,870.9 1659.0,869.9 1659.5,869.0 1660.0,868.0 1660.5,867.0 1661.0,866.0 1661.5,865.0 1662.0,863.9 1662.5,862.9 1663.0,861.8 1663.5,860.7 1664.0,859.6 1664.5,858.5 1665.0,857.4 1665.4,856.5 1665.8,855.6 1666.2,854.6 1666.6,853.7 1667.0,852.7 1667.4,851.8 1667.8,850.8 1668.2,849.8 1668.6,848.8 1669.0,847.8 1669.4,846.8 1669.8,845.7 1670.2,844.7 1670.6,843.6 1671.0,842.6 1671.4,841.5 1671.8,840.4 1672.2,839.3 1672.6,838.2 1673.0,837.1 1673.3,836.1 1673.7,835.2 1674.0,834.2 1674.3,833.2 1674.7,832.3 1675.0,831.3 1675.4,830.1 1675.8,829.0 1676.2,827.7 1676.4,827.0 1676.6,826.3 1676.7,825.6 1676.9,824.9 1677.1,824.1 1677.3,823.4 1677.5,822.6 1677.6,821.8 1677.8,821.0 1678.0,820.2 1678.2,819.3 1678.3,818.4 1678.5,817.6 1678.7,816.7 1678.9,815.7 1679.1,814.8 1679.2,813.8 1679.4,812.9 1679.6,811.9 1679.8,810.8 1680.0,809.8 1680.1,808.8 1680.3,807.7 1680.5,806.6 1680.7,805.5 1680.9,804.4 1681.0,803.3 1681.2,802.1 1681.4,801.0 1681.6,799.8 1681.7,798.6 1681.9,797.4 1682.1,796.1 1682.3,794.9 1682.5,793.6 1682.6,792.3 1682.8,791.0 1683.0,789.7 1683.1,788.9 1683.2,788.0 1683.3,787.1 1683.4,786.1 1683.5,785.1 1683.6,784.0 1683.7,782.9 1683.8,781.8 1683.9,780.6 1684.0,779.4 1684.1,778.2 1684.2,777.0 1684.3,775.8 1684.4,774.6 1684.6,773.3 1684.7,772.1 1684.8,770.9 1684.9,769.8 1685.0,768.6 1685.1,767.5 1685.2,766.5 1685.3,765.5 1685.4,764.5 1685.5,763.6 1685.6,762.7 1685.7,761.9 1685.8,761.2 1685.9,760.6 1686.0,760.0 1686.3,758.5 1686.6,757.0 1686.9,755.6 1687.2,754.3 1687.5,753.1 1687.8,752.1 1688.1,751.2 1688.4,750.6 1688.7,750.1 1689.0,750.0 1690.0,750.0 1691.0,750.0 1692.0,750.0 1693.0,750.0 1693.1,749.9 1693.3,749.7 1693.4,749.4 1693.5,748.9 1693.7,748.3 1693.8,747.7 1694.0,746.9 1694.1,746.0 1694.2,745.0 1694.4,744.0 1694.5,742.9 1694.6,741.7 1694.8,740.5 1694.9,739.2 1695.0,737.9 1695.2,736.5 1695.3,735.1 1695.5,733.7 1695.6,732.3 1695.7,730.8 1695.9,729.4 1696.0,728.0 1696.1,727.4 1696.1,726.7 1696.2,725.9 1696.2,725.1 1696.3,724.3 1696.3,723.3 1696.4,722.4 1696.5,721.4 1696.5,720.3 1696.6,719.2 1696.6,718.0 1696.7,716.9 1696.7,715.7 1696.8,714.4 1696.8,713.1 1696.9,711.9 1697.0,710.5 1697.0,709.2 1697.1,707.9 1697.1,706.5 1697.2,705.1 1697.2,703.8 1697.3,702.4 1697.4,701.0 1697.4,699.7 1697.5,698.3 1697.5,696.9 1697.6,695.6 1697.6,694.3 1697.7,693.0 1697.8,691.7 1697.8,690.4 1697.9,689.2 1697.9,688.0 1698.0,686.8 1698.0,685.7 1698.1,684.6 1698.2,683.5 1698.2,682.5 1698.3,681.6 1698.3,680.7 1698.4,679.8 1698.4,679.1 1698.5,678.3 1698.5,677.7 1698.6,677.1 1698.7,676.5 1698.7,676.1 1698.8,675.7 1698.8,675.4 1698.9,675.2 1698.9,675.0 1699.0,675.0 1699.0,675.1 1699.1,675.2 1699.1,675.5 1699.1,675.8 1699.2,676.2 1699.2,676.7 1699.2,677.3 1699.3,678.0 1699.3,678.8 1699.3,679.6 1699.4,680.4 1699.4,681.4 1699.4,682.4 1699.5,683.4 1699.5,684.5 1699.5,685.6 1699.6,686.8 1699.6,688.0 1699.6,689.3 1699.6,690.5 1699.7,691.8 1699.7,693.1 1699.7,694.4 1699.8,695.8 1699.8,697.1 1699.8,698.4 1699.9,699.8 1699.9,701.1 1699.9,702.4 1700.0,703.7"/>
<path stroke="#00f" stroke-dasharray="32.8 19.6 5.4 19.8" stroke-dashoffset="33.11" d="M1700.0,703.7 1700.0,705.0 1700.0,706.3 1700.1,707.5 1700.1,708.7 1700.1,709.9 1700.2,711.0 1700.2,712.1 1700.2,713.1 1700.3,714.1 1700.3,715.0 1700.3,716.1 1700.4,717.2 1700.4,718.3 1700.5,719.4 1700.5,720.5 1700.5,721.6 1700.6,722.7 1700.6,723.8 1700.7,724.9 1700.7,726.0 1700.7,727.0 1700.8,728.1 1700.8,729.2 1700.9,730.2 1700.9,731.3 1700.9,732.3 1701.0,733.3 1701.0,734.3 1701.1,735.3 1701.1,736.3 1701.1,737.2 1701.2,738.2 1701.2,739.1 1701.3,740.0 1701.3,740.9 1701.3,741.7 1701.4,742.6 1701.4,743.4 1701.5,744.2 1701.5,745.0 1701.6,746.3 1701.6,747.6 1701.7,748.8 1701.8,750.0 1701.8,751.2 1701.9,752.4 1702.0,753.6 1702.0,754.8 1702.1,755.9 1702.2,757.0 1702.2,758.1 1702.3,759.2 1702.4,760.3 1702.4,761.4 1702.5,762.4 1702.6,763.4 1702.6,764.5 1702.7,765.5 1702.8,766.4 1702.9,767.4 1702.9,768.4 1703.0,769.3 1703.1,770.2 1703.1,771.2 1703.2,772.1 1703.3,772.9 1703.3,773.8 1703.4,774.7 1703.5,775.5 1703.5,776.4 1703.6,777.2 1703.7,778.0 1703.7,778.9 1703.8,779.7 1703.9,780.4 1703.9,781.2 1704.0,782.0 1704.1,783.2 1704.2,784.4 1704.3,785.6 1704.4,786.7 1704.5,787.9 1704.7,789.0 1704.8,790.1 1704.9,791.1 1705.0,792.2 1705.1,793.2 1705.2,794.2 1705.3,795.2 1705.4,796.2 1705.5,797.1 1705.6,798.0 1705.7,799.0 1705.8,799.9 1706.0,800.8 1706.1,801.6 1706.2,802.5 1706.3,803.3 1706.4,804.2 1706.5,805.0 1706.7,806.2 1706.8,807.3 1707.0,808.5 1707.1,809.6 1707.3,810.7 1707.5,811.8 1707.6,812.8 1707.8,813.8 1707.9,814.9 1708.1,815.9 1708.2,816.8 1708.4,817.8 1708.6,818.8 1708.7,819.7 1708.9,820.6 1709.0,821.5 1709.2,822.5 1709.4,823.3 1709.5,824.2 1709.7,825.1 1709.8,826.0 1710.0,826.8 1710.2,828.0 1710.4,829.1 1710.7,830.2 1710.9,831.3 1711.1,832.4 1711.3,833.4 1711.6,834.4 1711.8,835.4 1712.0,836.4 1712.2,837.5 1712.5,838.5 1712.8,839.6 1713.0,840.6 1713.2,841.6 1713.5,842.6 1713.8,843.5 1714.0,844.5 1714.3,845.5 1714.6,846.6 1714.9,847.6 1715.1,848.6 1715.4,849.5 1715.7,850.5 1716.0,851.5 1716.3,852.6 1716.7,853.7 1717.0,854.8 1717.3,855.8 1717.7,856.9 1718.0,857.9 1718.3,858.9 1718.7,859.9 1719.0,860.9 1719.3,861.9 1719.7,862.9 1720.0,863.8 1720.4,865.0 1720.8,866.1 1721.2,867.2 1721.6,868.3 1722.0,869.3 1722.4,870.4 1722.8,871.4 1723.2,872.4 1723.6,873.4 1724.0,874.4 1724.4,875.3 1724.8,876.3 1725.2,877.2 1725.6,878.2 1726.0,879.1 1726.5,880.2 1727.0,881.3 1727.5,882.3 1728.0,883.4 1728.5,884.4 1729.0,885.4 1729.5,886.4 1730.0,887.4 1730.5,888.3 1731.0,889.3 1731.5,890.2 1732.0,891.1 1732.7,892.3 1733.3,893.4 1734.0,894.6 1734.7,895.7 1735.3,896.7 1736.0,897.8 1736.7,898.8 1737.3,899.8 1738.0,900.8 1738.7,901.8 1739.3,902.8 1740.0,903.7 1740.7,904.6 1741.3,905.6 1742.0,906.5 1742.7,907.4 1743.3,908.2 1744.0,909.1 1744.7,910.0 1745.3,910.8 1746.0,911.7 1746.7,912.5 1747.3,913.4 1748.0,914.2 1748.7,915.0 1749.3,915.9 1750.0,916.7 1750.7,917.5 1751.3,918.3 1752.0,919.1 1752.7,919.8 1753.3,920.6 1754.0,921.4 1754.7,922.2 1755.3,922.9 1756.0,923.7 1757.0,924.8 1758.0,925.8 1759.0,926.9 1760.0,928.0 1761.0,929.0 1762.0,930.1 1763.0,931.1 1764.0,932.1 1765.0,933.1 1766.0,934.0 1767.0,935.0 1768.0,935.9 1769.0,936.8 1770.0,937.8 1771.0,938.7 1772.0,939.5 1773.0,940.4 1774.0,941.3 1775.0,942.1 1776.0,942.9 1777.0,943.7 1778.0,944.5 1779.0,945.3 1780.0,946.1 1781.0,946.9 1782.0,947.6 1783.0,948.3 1784.0,949.0 1785.0,949.8 1786.0,950.4 1787.0,951.1 1788.0,951.8 1789.0,952.4 1790.0,953.1 1791.0,953.7 1792.0,954.3 1793.0,954.9 1794.0,955.5 1795.0,956.1 1796.0,956.7 1797.0,957.2 1798.0,957.8 1799.0,958.3 1800.0,958.8 1801.0,959.3 1802.0,959.8 1803.0,960.3 1804.0,960.8 1805.0,961.2 1806.0,961.7 1807.0,962.1 1808.0,962.6 1809.0,963.0 1810.0,963.4 1811.0,963.8 1812.0,964.2 1813.0,964.6 1814.0,964.9 1815.0,965.3 1816.0,965.6 1817.0,966.0 1818.0,966.3 1819.0,966.6 1820.0,966.9 1821.0,967.2 1822.0,967.5 1823.0,967.8 1824.0,968.0 1825.0,968.3 1826.0,968.5 1827.0,968.8 1828.0,969.0 1829.0,969.2 1830.0,969.4 1831.0,969.7 1832.0,969.8 1833.0,970.0 1834.0,970.2 1835.0,970.4 1836.0,970.5 1837.0,970.7 1838.0,970.8 1839.0,971.0 1840.0,971.1 1841.0,971.2 1842.0,971.3 1843.0,971.5 1844.0,971.6 1845.0,971.6 1846.0,971.7 1847.0,971.8 1848.0,971.9 1849.0,971.9 1850.0,972.0 1851.0,972.0 1852.0,972.1 1853.0,972.1 1854.0,972.1 1855.0,972.2 1856.0,972.2 1857.0,972.2 1858.0,972.2 1859.0,972.2 1860.0,972.2"/>
<path stroke="#00f" stroke-dasharray="32.8 19.6 5.4 19.8" stroke-dashoffset="1.11" d="M1859.0,972.2 1860.0,972.2 1861.0,972.2 1862.0,972.1 1863.0,972.1 1864.0,972.1 1865.0,972.0 1866.0,972.0 1867.0,972.0 1868.0,971.9 1869.0,971.8 1870.0,971.8 1871.0,971.7 1872.0,971.6 1873.0,971.6 1874.0,971.5 1875.0,971.4 1876.0,971.3 1877.0,971.2 1878.0,971.1 1879.0,971.0 1880.0,970.9 1881.0,970.8 1882.0,970.6 1883.0,970.5 1884.0,970.4 1885.0,970.3 1886.0,970.1 1887.0,970.0 1888.0,969.8 1889.0,969.7 1890.0,969.5 1891.0,969.3 1892.0,969.2 1893.0,969.0 1894.0,968.8 1895.0,968.6 1896.0,968.4 1897.0,968.3 1898.0,968.1 1899.0,967.8 1900.0,967.6 1901.0,967.4 1902.0,967.2 1903.0,967.0 1904.0,966.7 1905.0,966.5 1906.0,966.2 1907.0,966.0 1908.0,965.7 1909.0,965.4 1910.0,965.2 1911.0,964.9 1912.0,964.6 1913.0,964.3 1914.0,964.0 1915.0,963.7 1916.0,963.4 1917.0,963.1 1918.0,962.7 1919.0,962.4 1920.0,962.1 1921.0,961.7 1922.0,961.4 1923.0,961.0 1924.0,960.6 1925.0,960.3 1926.0,959.9 1927.0,959.5 1928.0,959.1 1929.0,958.7 1930.0,958.3 1931.0,957.8 1932.0,957.4 1933.0,957.0 1934.0,956.5 1935.0,956.1 1936.0,955.6 1937.0,955.1 1938.0,954.6 1939.0,954.2 1940.0,953.7 1941.0,953.2 1942.0,952.6 1943.0,952.1 1944.0,951.6 1945.0,951.0 1946.0,950.5 1947.0,949.9 1948.0,949.4 1949.0,948.8 1950.0,948.2 1951.0,947.6 1952.0,947.0 1953.0,946.4 1954.0,945.8 1955.0,945.2 1956.0,944.5 1957.0,943.9 1958.0,943.2 1959.0,942.6 1960.0,941.9 1961.0,941.2 1962.0,940.5 1963.0,939.8 1964.0,939.1 1965.0,938.3 1966.0,937.6 1967.0,936.9 1968.0,936.1 1969.0,935.3 1970.0,934.6 1971.0,933.8 1972.0,933.0 1973.0,932.2 1974.0,931.3 1975.0,930.5 1976.0,929.7 1977.0,928.8 1978.0,928.0 1979.0,927.1 1980.0,926.2 1981.0,925.3 1982.0,924.4 1983.0,923.5 1984.0,922.5 1985.0,921.6 1986.0,920.7 1987.0,919.7 1988.0,918.7 1989.0,917.7 1990.0,916.7 1991.0,915.7 1992.0,914.7 1993.0,913.7 1994.0,912.6 1995.0,911.6 1996.0,910.5 1997.0,909.4 1998.0,908.3 1999.0,907.2 2000.0,906.1 2000.7,905.3 2001.3,904.6 2002.0,903.8 2002.7,903.0 2003.3,902.3 2004.0,901.5 2004.7,900.7 2005.3,899.9 2006.0,899.1 2006.7,898.3 2007.3,897.5 2008.0,896.7 2008.7,895.9 2009.3,895.0 2010.0,894.2 2010.7,893.4 2011.3,892.5 2012.0,891.7 2012.7,890.8 2013.3,889.9 2014.0,889.1 2014.7,888.2 2015.3,887.3 2016.0,886.4 2016.7,885.5 2017.3,884.6 2018.0,883.7 2018.7,882.8 2019.3,881.8 2020.0,880.9 2020.7,879.9 2021.3,879.0 2022.0,878.0 2022.7,877.0 2023.3,876.1 2024.0,875.1 2024.7,874.1 2025.3,873.1 2026.0,872.0 2026.7,871.0 2027.3,870.0 2028.0,868.9 2028.7,867.9 2029.3,866.8 2030.0,865.7 2030.7,864.7 2031.3,863.6 2032.0,862.5 2032.7,861.3 2033.3,860.2 2034.0,859.1 2034.5,858.2 2035.0,857.4 2035.5,856.5 2036.0,855.6 2036.5,854.7 2037.0,853.9 2037.5,853.0 2038.0,852.1 2038.5,851.1 2039.0,850.2 2039.5,849.3 2040.0,848.4 2040.5,847.5 2041.0,846.5 2041.5,845.6 2042.0,844.6 2042.5,843.7 2043.0,842.7 2043.5,841.7 2044.0,840.7 2044.5,839.8 2045.0,838.8 2045.5,837.8 2046.0,836.8 2046.5,835.7 2047.0,834.7 2047.5,833.7 2048.0,832.6 2048.5,831.6 2049.0,830.6 2049.5,829.5 2050.0,828.4 2050.5,827.4 2051.0,826.3 2051.5,825.2 2052.0,824.1 2052.5,823.0 2053.0,821.9 2053.5,820.8 2054.0,819.6 2054.4,818.7 2054.8,817.8 2055.2,816.9 2055.6,816.0 2056.0,815.0 2056.4,814.1 2056.8,813.2 2057.2,812.2 2057.6,811.3 2058.0,810.3 2058.4,809.4 2058.8,808.4 2059.2,807.4 2059.6,806.5 2060.0,805.5 2060.4,804.5 2060.8,803.5 2061.2,802.5 2061.6,801.5 2062.0,800.5 2062.4,799.5 2062.8,798.5 2063.2,797.4 2063.6,796.4 2064.0,795.4 2064.4,794.3 2064.8,793.3 2065.2,792.2 2065.6,791.2 2066.0,790.1"/>
</g>
<g stroke="#000" stroke-width="7.8" stroke-linecap="round" fill="none">
<path stroke-linecap="square" stroke-width="7.6" d="M384.9,45H2066.5V1278H384.9Z"/>
<path d="M384.7,1278V1301.5M665.0,1278V1301.5M945.4,1278V1301.5M1225.8,1278V1301.5M1506.1,1278V1301.5M1786.5,1278V1301.5M2066.8,1278V1301.5M524.9,1278V1289M805.2,1278V1289M1085.6,1278V1289M1365.9,1278V1289M1646.3,1278V1289M1926.6,1278V1289M385,45.0H359.8M385,353.2H359.8M385,661.5H359.8M385,969.8H359.8M385,1278.0H359.8M385,199.1H372.8M385,507.4H372.8M385,815.6H372.8M385,1123.9H372.8"/>
</g>
<g stroke="#80ffff" stroke-linecap="round" fill="none">
<path stroke-width="4.1" d="M646.0,45V1124"/>
<path stroke-width="4.7" d="M1254.6,45V1124"/>
<path stroke-width="4.0" d="M1332.0,45V1124"/>
</g>
<g fill="#80ffff">
<rect x="646" y="1123" width="607.8" height="25"/>
<rect x="1330.6" y="1123" width="736.4" height="25"/>
</g>
<g fill="#d9d9d9">
<rect x="515.2" y="980" width="303.6" height="24"/>
<rect x="857.0" y="980" width="396.8" height="26"/>
<rect x="1274.1" y="980" width="413.7" height="24"/>
<rect x="1701.0" y="980" width="361.1" height="24"/>
</g>
<g font-size="86" text-anchor="middle">
<text x="383.7" y="1386">0</text>
<text x="664.0" y="1386">5</text>
<text x="946.4" y="1386">10</text>
<text x="1226.8" y="1386">15</text>
<text x="1505.1" y="1386">20</text>
<text x="1785.5" y="1386">25</text>
<text x="2065.8" y="1386">30</text>
</g>
<g font-size="86" text-anchor="end">
<text x="342" y="71.0">80</text>
<text x="342" y="379.2">0</text>
<text x="342" y="687.5">-80</text>
<text x="342" y="995.8">-160</text>
<text x="342" y="1304.0">-240</text>
</g>
<text x="958" y="1525.5" font-size="84.5">Frequency (Hz)</text>
<text transform="translate(78,849) rotate(-90)" font-size="84">FRF (dB)</text>
<text x="710.3" y="1068" font-size="66.6">AZs of PF with B-type unit cell</text>
<text x="706" y="1216" font-size="66.6">AZs of PF with I-type unit cell</text>
<g fill="none" stroke-linecap="round" stroke-width="7.4">
<path stroke="#000" d="M1695,92.7H1872"/>
<path stroke="#f00" stroke-dasharray="10.5 17.5" d="M1695,212H1872"/>
<path stroke="#00f" stroke-dasharray="32.8 19.6 5.4 19.8" d="M1695,332.3H1872"/>
</g>
<text x="1891" y="120.0" font-size="78"><tspan font-style="italic">N</tspan><tspan font-size="46" dy="27">1</tspan><tspan dy="-27">=2</tspan></text>
<text x="1891" y="240.0" font-size="78"><tspan font-style="italic">N</tspan><tspan font-size="46" dy="27">1</tspan><tspan dy="-27">=3</tspan></text>
<text x="1891" y="359.5" font-size="78"><tspan font-style="italic">N</tspan><tspan font-size="46" dy="27">1</tspan><tspan dy="-27">=4</tspan></text>
</svg>
</body></html>
